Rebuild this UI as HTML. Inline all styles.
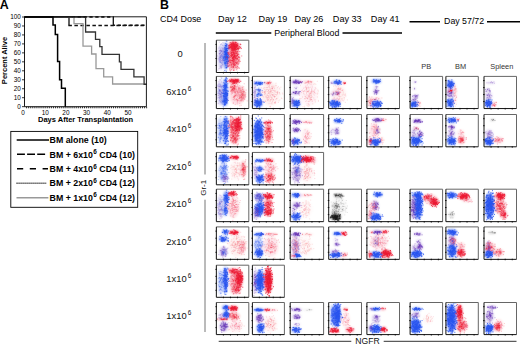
<!DOCTYPE html><html><head><meta charset="utf-8"><style>html,body{margin:0;padding:0;background:#fff;width:520px;height:344px;overflow:hidden}svg{display:block}text{font-family:"Liberation Sans",sans-serif}</style></head><body>
<svg width="520" height="344" viewBox="0 0 520 344">
<defs><filter id="bl" x="-50%" y="-50%" width="200%" height="200%"><feGaussianBlur stdDeviation="1.3"/></filter>
<filter id="db" x="-10%" y="-10%" width="120%" height="120%"><feGaussianBlur stdDeviation="1.1"/></filter><clipPath id="pc"><rect x="0" y="0" width="32.6" height="32.8"/></clipPath></defs>
<rect width="520" height="344" fill="#fff"/>
<text x="-0.3" y="8.8" font-size="12.4" font-weight="bold">A</text>
<path d="M22 106.67H24.5M22 97.7H24.5M22 88.74H24.5M22 79.77H24.5M22 70.8H24.5M22 61.84H24.5M22 52.87H24.5M22 43.9H24.5M22 34.93H24.5M22 25.97H24.5M22 17H24.5M26.57 106.7V108.3M28.64 106.7V108.3M30.71 106.7V108.3M32.78 106.7V108.3M34.85 106.7V108.3M36.92 106.7V108.3M38.99 106.7V108.3M41.06 106.7V108.3M43.13 106.7V108.3M45.2 106.7V108.3M47.27 106.7V108.3M49.34 106.7V108.3M51.41 106.7V108.3M53.48 106.7V108.3M55.55 106.7V108.3M57.62 106.7V108.3M59.69 106.7V108.3M61.76 106.7V108.3M63.83 106.7V108.3M65.9 106.7V108.3M67.97 106.7V108.3M70.04 106.7V108.3M72.11 106.7V108.3M74.18 106.7V108.3M76.25 106.7V108.3M78.32 106.7V108.3M80.39 106.7V108.3M82.46 106.7V108.3M84.53 106.7V108.3M86.6 106.7V108.3M88.67 106.7V108.3M90.74 106.7V108.3M92.81 106.7V108.3M94.88 106.7V108.3M96.95 106.7V108.3M99.02 106.7V108.3M101.09 106.7V108.3M103.16 106.7V108.3M105.23 106.7V108.3M107.3 106.7V108.3M109.37 106.7V108.3M111.44 106.7V108.3M113.51 106.7V108.3M115.58 106.7V108.3M117.65 106.7V108.3M119.72 106.7V108.3M121.79 106.7V108.3M123.86 106.7V108.3M125.93 106.7V108.3M128 106.7V108.3M130.07 106.7V108.3M132.14 106.7V108.3M134.21 106.7V108.3M136.28 106.7V108.3M138.35 106.7V108.3M140.42 106.7V108.3M142.49 106.7V108.3M144.56 106.7V108.3M146.63 106.7V108.3" stroke="#000" stroke-width="0.8" fill="none"/>
<text x="20.9" y="108.97" font-size="6.4" text-anchor="end">0</text>
<text x="20.9" y="100" font-size="6.4" text-anchor="end">10</text>
<text x="20.9" y="91.04" font-size="6.4" text-anchor="end">20</text>
<text x="20.9" y="82.07" font-size="6.4" text-anchor="end">30</text>
<text x="20.9" y="73.1" font-size="6.4" text-anchor="end">40</text>
<text x="20.9" y="64.14" font-size="6.4" text-anchor="end">50</text>
<text x="20.9" y="55.17" font-size="6.4" text-anchor="end">60</text>
<text x="20.9" y="46.2" font-size="6.4" text-anchor="end">70</text>
<text x="20.9" y="37.23" font-size="6.4" text-anchor="end">80</text>
<text x="20.9" y="28.27" font-size="6.4" text-anchor="end">90</text>
<text x="20.9" y="19.3" font-size="6.4" text-anchor="end">100</text>
<text x="23" y="114.8" font-size="6.4" text-anchor="middle">0</text>
<text x="45.2" y="114.8" font-size="6.4" text-anchor="middle">10</text>
<text x="65.9" y="114.8" font-size="6.4" text-anchor="middle">20</text>
<text x="86.6" y="114.8" font-size="6.4" text-anchor="middle">30</text>
<text x="107.3" y="114.8" font-size="6.4" text-anchor="middle">40</text>
<text x="128" y="114.8" font-size="6.4" text-anchor="middle">50</text>
<text x="85.6" y="122.4" font-size="7.5" font-weight="bold" text-anchor="middle">Days After Transplantation</text>
<text transform="translate(7.1 60.5) rotate(-90)" font-size="7.5" font-weight="bold" text-anchor="middle">Percent Alive</text>
<path d="M24.5 17H113.3" stroke="#111" stroke-width="1.5" fill="none" stroke-dasharray="3.3 2.6"/>
<path d="M113.3 25.2H146.4" stroke="#111" stroke-width="1.5" fill="none" stroke-dasharray="3.3 2.6" stroke-dashoffset="1.5"/>
<path d="M113.3 16.5V25.2M69 16.5V25.6" stroke="#111" stroke-width="1.3" fill="none"/>
<path d="M24.5 17H69" stroke="#111" stroke-width="1.5" fill="none"/>
<path d="M68.4 25.6H146.4" stroke="#111" stroke-width="1.5" fill="none" stroke-dasharray="3.5 2.5"/>
<path d="M24.5 17H74V23.6H83V46.1H91.6V54H96V68.6H103.7V76.8H112.6V84H146.4" stroke="#999" stroke-width="1.3" fill="none"/>
<path d="M24.5 17H85.6V32H95.5V39.3H99.8V46.7H102V54.3H119.4V61.8H121V69.3H133.9V76.9H144.1V84.3H146.4" stroke="#333" stroke-width="1.3" fill="none"/>
<path d="M24.5 17H53V25H55.3V34.4H57.6V61.5H59.6V79.7H61.5V88.3H65.3V106.7" stroke="#000" stroke-width="1.5" fill="none"/>
<path d="M24.5 16.8V106.7H146.4V16.8H24.5" stroke="#000" stroke-width="0.9" fill="none"/>
<rect x="10.8" y="131.4" width="126.9" height="75.9" fill="none" stroke="#000" stroke-width="0.9"/>
<path d="M16.7 140H49" stroke="#000" stroke-width="1.5"/>
<path d="M17 154.3H45.1" stroke="#000" stroke-width="1.5" stroke-dasharray="7.9 2.2"/>
<path d="M17 168.8H48" stroke="#000" stroke-width="1.5" stroke-dasharray="6.2 6.6"/>
<path d="M16.5 183.3H46.7" stroke="#222" stroke-width="1.6" stroke-dasharray="1.1 0.9"/>
<path d="M16.5 197.7H48.4" stroke="#999" stroke-width="1.5"/>
<text x="49.6" y="142.9" font-size="8.8" font-weight="bold">BM alone (10)</text>
<text x="49.6" y="157.5" font-size="8.8" font-weight="bold">BM + 6x10<tspan font-size="6.4" dx="0.4" dy="-3.4">6</tspan><tspan dy="3.4"> CD4 (10)</tspan></text>
<text x="49.6" y="171.9" font-size="8.8" font-weight="bold">BM + 4x10<tspan font-size="6.4" dx="0.4" dy="-3.4">6</tspan><tspan dy="3.4"> CD4 (11)</tspan></text>
<text x="49.6" y="186.4" font-size="8.8" font-weight="bold">BM + 2x10<tspan font-size="6.4" dx="0.4" dy="-3.4">6</tspan><tspan dy="3.4"> CD4 (12)</tspan></text>
<text x="49.6" y="200.8" font-size="8.8" font-weight="bold">BM + 1x10<tspan font-size="6.4" dx="0.4" dy="-3.4">6</tspan><tspan dy="3.4"> CD4 (12)</tspan></text>
<text x="160" y="8.9" font-size="12.4" font-weight="bold">B</text>
<text x="160.1" y="22" font-size="8.95">CD4 Dose</text>
<text x="232.5" y="22.4" font-size="9.1" text-anchor="middle">Day 12</text>
<text x="273" y="22.4" font-size="9.1" text-anchor="middle">Day 19</text>
<text x="309" y="22.4" font-size="9.1" text-anchor="middle">Day 26</text>
<text x="347.25" y="22.4" font-size="9.1" text-anchor="middle">Day 33</text>
<text x="385.25" y="22.4" font-size="9.1" text-anchor="middle">Day 41</text>
<text x="464.1" y="24.2" font-size="8.8" text-anchor="middle">Day 57/72</text>
<path d="M409.5 21.8H440M487 21.8H520M215.8 33.1H271.3M342.5 33.1H402" stroke="#000" stroke-width="1.5"/>
<text x="306.8" y="35.6" font-size="8.8" text-anchor="middle">Peripheral Blood</text>
<text x="426.3" y="68.8" font-size="7.4" fill="#333" text-anchor="middle">PB</text>
<text x="460.6" y="68.8" font-size="7.4" fill="#333" text-anchor="middle">BM</text>
<text x="501.8" y="68.8" font-size="7.4" fill="#333" text-anchor="middle">Spleen</text>
<text x="180.1" y="56.9" font-size="9.4" text-anchor="middle" fill="#111">0</text>
<text x="166.3" y="95" font-size="9.4" fill="#111">6x10<tspan font-size="6.4" dx="1" dy="-3.6">6</tspan></text>
<text x="166.3" y="131.9" font-size="9.4" fill="#111">4x10<tspan font-size="6.4" dx="1" dy="-3.6">6</tspan></text>
<text x="166.3" y="169.6" font-size="9.4" fill="#111">2x10<tspan font-size="6.4" dx="1" dy="-3.6">6</tspan></text>
<text x="166.3" y="206.9" font-size="9.4" fill="#111">2x10<tspan font-size="6.4" dx="1" dy="-3.6">6</tspan></text>
<text x="166.3" y="244.6" font-size="9.4" fill="#111">2x10<tspan font-size="6.4" dx="1" dy="-3.6">6</tspan></text>
<text x="166.3" y="281.9" font-size="9.4" fill="#111">1x10<tspan font-size="6.4" dx="1" dy="-3.6">6</tspan></text>
<text x="166.3" y="318.9" font-size="9.4" fill="#111">1x10<tspan font-size="6.4" dx="1" dy="-3.6">6</tspan></text>
<path d="M205 43V174.5M205 199.7V332" stroke="#777" stroke-width="1"/>
<text transform="translate(206.3 187.8) rotate(-90)" font-size="8" text-anchor="middle" fill="#111">Gr-1</text>
<path d="M218.7 341.3H351.3M383.7 341.3H516.5" stroke="#333" stroke-width="1"/>
<text x="367.5" y="343.6" font-size="8.6" text-anchor="middle" fill="#111">NGFR</text>
<g transform="translate(216.35 40.2)">
<svg x="0" y="0" width="32.45" height="32.3" viewBox="0 0 32.6 32.8" preserveAspectRatio="none" overflow="hidden"><g filter="url(#bl)">
<ellipse cx="4.5" cy="17" rx="3.5" ry="13" fill="#6a3ab8" fill-opacity="0.16"/>
<ellipse cx="5" cy="17" rx="3" ry="12" fill="#2a55ee" fill-opacity="0.1"/>
<ellipse cx="9.5" cy="16" rx="2.2" ry="14" fill="#2a55ee" fill-opacity="0.72"/>
<ellipse cx="17.5" cy="6" rx="5.5" ry="4.5" fill="#ec1a34" fill-opacity="0.72"/>
<ellipse cx="17" cy="18" rx="6" ry="12" fill="#ec1a34" fill-opacity="0.44"/>
</g>
<g transform="scale(.5)" stroke-width="1.9" fill="none" filter="url(#db)">
<path d="M12 16h2M7 39h2M5 33h2M10 23h2M4 37h2M12 26h2M8 55h2M7 27h2M12 8h2M7 54h2M13 22h2M7 35h2M5 41h2M17 16h2M2 38h2M9 57h2M8 33h2M8 21h2M11 17h2M13 34h2M11 27h2M6 57h2M11 50h2M10 21h2M12 40h2M1 32h2M12 44h2M8 18h2M11 19h2M14 30h2M6 27h2M6 27h2M6 29h2M10 42h2M5 22h2M7 35h2M9 7h2M15 22h2M15 16h2M6 31h2M8 24h2M12 11h2M13 23h2M13 29h2M4 40h2M17 33h2M9 29h2M6 24h2M4 16h2M9 55h2M11 40h2M10 23h2M10 29h2M12 50h2M13 39h2M13 25h2M9 31h2M6 21h2M6 28h2M2 61h2M10 35h2M11 32h2M11 40h2M12 5h2M13 36h2M11 40h2M10 52h2M8 41h2M8 34h2M10 46h2M8 9h2M11 30h2M5 4h2M14 41h2M11 24h2M9 52h2M7 37h2M5 36h2M5 27h2M8 45h2M10 26h2M8 33h2M9 22h2M12 37h2M7 43h2M4 58h2M6 21h2M8 21h2M5 44h2M11 34h2M8 42h2M7 24h2M12 22h2M6 41h2M8 21h2M8 31h2M6 37h2M11 47h2" stroke="#6a3ab8" stroke-opacity="0.27"/>
<path d="M6 35h2M10 9h2M7 34h2M5 39h2M14 18h2M9 30h2M6 44h2M9 42h2M10 33h2M12 21h2M11 37h2M6 14h2M15 48h2M9 37h2M9 47h2M12 11h2M12 45h2M8 25h2M12 27h2M11 34h2M8 20h2M17 25h2M11 32h2M10 15h2M7 18h2M14 24h2M7 45h2M11 49h2M12 34h2M7 52h2M9 23h2M9 32h2M9 46h2M8 31h2M8 35h2M12 36h2M9 33h2M8 40h2M9 37h2M13 27h2M14 6h2M8 45h2M9 22h2M8 53h2M15 17h2M8 26h2M14 31h2M11 36h2M10 30h2M13 35h2M7 32h2M6 35h2M9 23h2M10 55h2M7 39h2M16 43h2M8 9h2M6 39h2M12 42h2M10 37h2M12 31h2M11 40h2M7 44h2M12 33h2M6 44h2" stroke="#2a55ee" stroke-opacity="0.2"/>
<path d="M21 21h2M21 26h2M16 32h2M18 24h2M18 26h2M16 62h2M22 17h2M20 34h2M19 56h2M21 17h2M18 7h2M20 34h2M19 29h2M19 36h2M23 35h2M18 39h2M21 48h2M22 29h2M21 22h2M16 23h2M20 10h2M23 31h2M20 27h2M16 28h2M20 18h2M20 19h2M15 18h2M20 12h2M20 32h2M17 32h2M23 43h2M21 28h2M16 46h2M22 40h2M20 40h2M19 28h2M21 35h2M15 33h2M18 11h2M16 42h2M18 35h2M18 33h2M22 36h2M18 27h2M17 28h2M16 48h2M14 34h2M17 22h2M18 23h2M21 47h2M16 15h2M22 54h2M20 2h2M21 17h2M20 16h2M19 23h2M19 17h2M19 17h2M19 27h2M24 41h2M14 35h2M22 25h2M18 28h2M22 46h2M22 16h2M18 18h2M19 38h2M16 40h2M24 17h2M18 35h2M20 9h2M21 35h2M19 29h2M24 15h2M19 26h2M21 38h2M21 34h2M25 34h2M19 27h2M20 26h2M20 52h2M20 29h2M21 33h2M22 35h2M20 25h2M21 40h2M20 30h2M21 29h2M17 34h2M24 18h2M18 25h2M20 32h2M18 28h2M23 12h2M20 21h2M19 55h2M18 46h2M20 34h2M20 33h2M21 38h2M16 25h2M20 43h2M18 28h2M17 37h2M20 30h2M17 40h2M19 20h2M20 43h2M14 38h2M20 21h2M16 24h2M20 17h2M16 46h2M17 36h2M14 41h2M21 44h2M17 20h2M19 33h2M18 14h2M21 33h2M19 12h2M18 30h2M18 17h2M17 11h2M19 56h2M22 52h2M21 35h2M16 29h2M18 36h2M19 43h2M19 1h2M19 30h2M19 20h2M18 47h2M19 63h2M20 44h2M18 48h2M16 23h2M17 29h2M18 21h2M20 8h2M18 45h2M18 26h2M18 19h2M18 28h2M18 21h2M17 34h2M16 35h2M18 51h2M21 36h2M19 27h2M19 30h2M14 37h2M22 33h2M23 43h2M18 11h2M19 31h2M22 37h2M23 32h2M18 11h2M20 55h2M19 38h2" stroke="#2a55ee" stroke-opacity="0.86"/>
<path d="M30 13h2M38 16h2M40 9h2M27 14h2M32 12h2M40 9h2M36 8h2M37 8h2M36 15h2M42 10h2M40 13h2M35 14h2M36 13h2M33 10h2M29 8h2M33 7h2M33 21h2M31 16h2M31 8h2M48 9h2M47 8h2M29 9h2M34 9h2M35 13h2M35 12h2M33 10h2M37 5h2M40 11h2M40 10h2M34 14h2M42 7h2M32 16h2M34 13h2M40 13h2M37 17h2M36 15h2M31 6h2M31 20h2M35 16h2M35 11h2M37 11h2M26 14h2M45 14h2M41 11h2M37 13h2M43 16h2M24 17h2M33 13h2M27 15h2M36 11h2M38 17h2M43 19h2M39 10h2M29 14h2M33 17h2M36 16h2M28 14h2M31 11h2M35 14h2M36 10h2M35 9h2M33 19h2M30 6h2M24 11h2M41 16h2M42 17h2M30 17h2M33 6h2M37 20h2M35 17h2M33 9h2M32 9h2M40 19h2M30 11h2M34 11h2M39 15h2M41 11h2M43 16h2M37 4h2M27 9h2M37 19h2M39 5h2M31 17h2M27 5h2M43 17h2M30 11h2M34 12h2M36 18h2M32 8h2M41 11h2M31 20h2M35 18h2M32 4h2M36 8h2M36 12h2M33 1h2M32 16h2M34 5h2M34 19h2M33 16h2M26 10h2M36 13h2M34 11h2M39 13h2M34 11h2M49 17h2M25 16h2M36 17h2M33 14h2M35 8h2M31 14h2M26 11h2M33 7h2M47 15h2M30 14h2M38 12h2M39 8h2M35 9h2M30 20h2M37 9h2M45 13h2M40 19h2M34 10h2M46 17h2M29 8h2M32 13h2M32 10h2M38 5h2M48 14h2M37 12h2" stroke="#ec1a34" stroke-opacity="0.86"/>
<path d="M33 43h2M34 47h2M33 24h2M33 50h2M30 42h2M40 27h2M44 33h2M30 32h2M31 24h2M33 24h2M33 36h2M34 33h2M31 22h2M35 26h2M32 28h2M29 34h2M50 32h2M36 51h2M41 29h2M32 18h2M26 57h2M38 30h2M34 34h2M37 22h2M39 33h2M30 28h2M36 20h2M34 36h2M35 39h2M44 56h2M41 32h2M44 29h2M36 16h2M37 50h2M21 50h2M36 42h2M32 30h2M39 45h2M36 20h2M34 27h2M33 48h2M44 35h2M41 31h2M38 55h2M37 14h2M34 29h2M27 13h2M29 32h2M41 31h2M27 45h2M35 28h2M41 37h2M42 29h2M28 24h2M24 36h2M34 61h2M36 34h2M25 42h2M27 40h2M37 18h2M37 34h2M46 23h2M25 15h2M34 61h2M35 20h2M35 38h2M39 37h2M34 24h2M35 19h2M25 52h2M41 39h2M36 31h2M33 26h2M41 38h2M32 36h2M29 32h2M38 36h2M40 46h2M47 43h2M42 12h2M29 60h2M44 34h2M33 54h2M29 29h2M33 40h2M36 41h2M25 38h2M34 32h2M35 33h2M25 29h2M24 14h2M30 49h2M41 44h2M36 29h2M33 55h2M34 45h2M41 57h2M32 35h2M27 27h2M44 40h2M35 32h2M30 25h2M34 49h2M37 45h2M30 25h2M27 31h2M36 26h2M35 31h2M29 41h2M23 43h2M36 31h2M33 38h2M34 34h2M37 31h2M32 38h2M32 47h2M44 43h2M33 25h2M35 32h2M39 40h2M42 24h2M30 22h2M36 24h2M45 40h2M36 47h2M32 41h2M32 42h2M27 24h2M41 37h2M23 28h2M32 36h2M45 44h2M37 13h2M33 53h2M43 49h2M27 62h2M32 37h2M41 27h2M34 39h2M31 41h2M31 34h2M40 60h2M31 29h2M40 24h2M40 31h2M41 24h2M38 38h2M33 43h2M34 45h2M39 27h2M36 31h2M33 35h2M35 35h2M26 50h2M35 36h2M37 23h2M44 41h2M40 47h2M36 18h2M33 38h2M22 46h2M32 44h2M39 47h2M32 35h2M27 46h2M40 33h2M28 41h2M35 48h2M30 26h2M24 25h2M46 36h2M33 38h2M29 27h2M34 39h2M29 55h2M37 35h2M35 33h2M34 33h2M23 48h2M23 53h2M32 20h2M37 45h2M27 44h2M39 36h2M20 35h2M29 50h2M35 19h2M34 28h2M38 34h2M30 31h2M31 29h2M26 44h2M33 55h2M32 41h2M31 31h2M29 41h2M42 45h2M30 17h2M27 32h2M36 43h2M35 51h2M36 26h2M41 23h2M33 25h2M45 57h2M38 26h2M42 17h2M30 48h2M29 52h2M34 26h2M26 60h2M19 34h2M45 35h2M33 30h2M42 36h2M30 9h2M25 34h2M32 30h2M41 48h2M30 28h2M34 34h2M43 22h2M31 37h2M26 41h2M34 50h2M36 9h2M24 28h2M44 47h2M37 33h2M39 15h2M39 26h2M31 31h2M32 24h2M37 37h2M24 52h2M22 25h2M36 34h2M29 30h2M27 35h2M31 37h2M37 24h2M30 25h2M37 50h2M40 56h2M36 30h2M36 38h2M22 54h2M30 33h2M34 42h2M41 53h2M42 54h2M35 30h2M33 35h2M39 24h2M34 22h2M29 10h2M23 27h2M32 41h2M38 36h2M37 27h2M35 50h2M41 31h2M33 40h2M30 32h2M30 45h2M34 27h2M43 28h2" stroke="#ec1a34" stroke-opacity="0.57"/>
</g></svg>
<path d="M0 0H32.45V32.3" stroke="#666" stroke-width="1" fill="none"/>
<path d="M0 0V32.3H32.45M-0.9 25.28H0.6M7.05 31.7V33.2M-0.9 18.26H0.6M14.11 31.7V33.2M-0.9 11.23H0.6M21.16 31.7V33.2M-0.9 4.21H0.6M28.22 31.7V33.2" stroke="#111" stroke-width="1" fill="none"/>
</g>
<g transform="translate(216.35 76.4)">
<svg x="0" y="0" width="32.45" height="32.15" viewBox="0 0 32.6 32.8" preserveAspectRatio="none" overflow="hidden"><g filter="url(#bl)">
<ellipse cx="3.8" cy="17" rx="3" ry="13" fill="#6a3ab8" fill-opacity="0.16"/>
<ellipse cx="4" cy="17" rx="3" ry="12" fill="#2a55ee" fill-opacity="0.1"/>
<ellipse cx="9" cy="16" rx="2.3" ry="14" fill="#2a55ee" fill-opacity="0.72"/>
<ellipse cx="8" cy="26" rx="3" ry="4" fill="#2a55ee" fill-opacity="0.4"/>
<ellipse cx="18" cy="4.8" rx="5.5" ry="2.5" fill="#ec1a34" fill-opacity="0.72"/>
<ellipse cx="16.5" cy="12" rx="3" ry="4" fill="#ec1a34" fill-opacity="0.32"/>
<ellipse cx="21" cy="19" rx="8" ry="10" fill="#ec1a34" fill-opacity="0.14"/>
<ellipse cx="26" cy="18" rx="3" ry="7" fill="#ec1a34" fill-opacity="0.16"/>
</g>
<g transform="scale(.5)" stroke-width="1.9" fill="none" filter="url(#db)">
<path d="M5 28h2M6 30h2M10 12h2M7 28h2M5 32h2M9 34h2M10 20h2M6 41h2M6 21h2M6 16h2M11 50h2M15 30h2M7 31h2M9 34h2M10 30h2M3 55h2M6 49h2M7 36h2M3 21h2M9 42h2M7 36h2M2 35h2M6 21h2M9 28h2M5 29h2M6 30h2M8 28h2M10 54h2M11 30h2M6 39h2M7 52h2M8 40h2M6 36h2M4 15h2M8 19h2M6 45h2M12 35h2M6 44h2M10 41h2M5 28h2M11 20h2M8 50h2M11 26h2M7 31h2M4 35h2M5 42h2M4 26h2M6 34h2M7 36h2M11 34h2M9 36h2M10 43h2M11 33h2M4 38h2M4 34h2M7 7h2M7 21h2M4 11h2M9 42h2M4 21h2M5 20h2M9 21h2M10 3h2M2 44h2M6 7h2M14 42h2M8 1h2M10 33h2M7 28h2M2 18h2M9 45h2M9 38h2M8 40h2M14 34h2M3 39h2M6 19h2M4 43h2M5 31h2M5 48h2M6 28h2M3 17h2M11 20h2M10 40h2" stroke="#6a3ab8" stroke-opacity="0.27"/>
<path d="M9 36h2M8 47h2M8 17h2M7 52h2M4 33h2M8 47h2M5 50h2M5 35h2M5 36h2M6 16h2M9 22h2M10 4h2M13 33h2M13 43h2M8 32h2M7 43h2M8 18h2M8 42h2M9 39h2M10 7h2M9 53h2M10 32h2M5 28h2M14 30h2M10 35h2M10 21h2M3 31h2M9 4h2M8 37h2M8 30h2M3 25h2M5 44h2M9 40h2M3 19h2M9 34h2M11 27h2M6 44h2M6 29h2M12 53h2M7 18h2M11 54h2M9 24h2M5 29h2M9 46h2M12 57h2M10 50h2M1 20h2M9 23h2M7 37h2M10 37h2M9 33h2M10 49h2M7 40h2M9 33h2M5 27h2M7 41h2M10 44h2M8 21h2M9 10h2M11 56h2M5 28h2M2 32h2M7 37h2M9 32h2M12 46h2M7 43h2" stroke="#2a55ee" stroke-opacity="0.2"/>
<path d="M15 8h2M15 57h2M16 19h2M18 32h2M20 50h2M18 26h2M16 20h2M16 25h2M18 45h2M19 30h2M20 19h2M22 44h2M22 35h2M15 59h2M18 19h2M19 40h2M17 57h2M18 43h2M16 20h2M15 41h2M18 32h2M19 33h2M20 42h2M20 33h2M16 15h2M20 22h2M20 36h2M16 35h2M21 36h2M14 34h2M17 36h2M18 41h2M17 34h2M20 40h2M19 37h2M21 47h2M19 8h2M15 23h2M18 17h2M14 31h2M16 18h2M16 18h2M18 44h2M17 18h2M19 21h2M17 26h2M17 58h2M19 50h2M21 35h2M13 41h2M20 11h2M16 50h2M20 45h2M16 42h2M18 42h2M15 29h2M13 19h2M17 29h2M17 23h2M19 29h2M15 38h2M21 29h2M15 49h2M19 2h2M18 25h2M23 30h2M15 40h2M21 5h2M18 26h2M20 38h2M16 35h2M18 8h2M15 45h2M18 40h2M15 51h2M15 20h2M19 19h2M14 27h2M20 17h2M20 47h2M14 40h2M18 34h2M19 40h2M17 38h2M16 48h2M19 45h2M18 33h2M17 17h2M19 4h2M21 39h2M13 39h2M21 50h2M17 35h2M13 39h2M20 38h2M18 33h2M19 16h2M14 19h2M23 49h2M18 5h2M19 19h2M16 16h2M17 21h2M17 19h2M18 48h2M16 34h2M18 1h2M18 30h2M15 27h2M19 21h2M18 45h2M20 53h2M21 35h2M18 29h2M17 54h2M21 35h2M20 35h2M21 34h2M16 36h2M15 42h2M18 40h2M21 37h2M17 23h2M12 28h2M14 36h2M16 46h2M19 11h2M16 25h2M20 38h2M18 19h2M18 16h2M21 40h2M16 28h2M15 20h2M22 38h2M19 46h2M16 41h2M18 23h2M22 23h2M13 34h2M13 22h2M12 35h2M18 11h2M22 31h2M18 52h2M19 44h2M18 23h2M17 37h2M17 37h2M17 7h2M14 35h2M18 7h2M19 13h2M18 9h2M14 28h2M19 53h2M16 19h2M14 13h2M19 11h2M22 15h2M16 57h2M20 20h2M19 28h2M19 22h2M16 42h2M16 40h2M19 35h2" stroke="#2a55ee" stroke-opacity="0.86"/>
<path d="M16 49h2M15 58h2M16 47h2M17 49h2M19 48h2M19 46h2M14 43h2M16 48h2M18 55h2M16 51h2M13 50h2M15 52h2M20 55h2M16 54h2M17 51h2M14 45h2M20 48h2M19 53h2M18 49h2M11 51h2M13 50h2M13 50h2M15 53h2M15 56h2M17 52h2M16 56h2M13 53h2M16 54h2M14 51h2M21 52h2M16 48h2M17 50h2M20 48h2M16 51h2M16 50h2M12 51h2M18 53h2M20 49h2M13 62h2M20 55h2M18 45h2M13 47h2" stroke="#2a55ee" stroke-opacity="0.53"/>
<path d="M36 14h2M33 7h2M35 13h2M42 11h2M33 8h2M34 9h2M33 12h2M39 7h2M41 9h2M42 8h2M33 10h2M41 6h2M32 11h2M35 12h2M45 12h2M33 10h2M35 8h2M36 9h2M29 8h2M34 11h2M42 8h2M35 8h2M48 10h2M37 10h2M37 6h2M43 10h2M24 9h2M33 9h2M29 6h2M41 9h2M34 9h2M39 9h2M30 6h2M21 10h2M30 11h2M37 9h2M43 6h2M40 13h2M35 11h2M27 9h2M32 11h2M37 13h2M26 7h2M36 9h2M38 11h2M35 14h2M27 10h2M39 8h2M40 10h2M31 7h2M39 14h2M39 10h2M29 9h2M41 8h2M38 7h2M32 15h2M27 10h2M33 15h2M34 10h2M41 11h2M34 10h2M40 7h2M44 8h2M37 8h2M40 10h2M34 10h2M40 9h2M36 9h2M39 8h2M28 9h2M32 8h2M36 12h2" stroke="#ec1a34" stroke-opacity="0.86"/>
<path d="M33 24h2M33 26h2M35 19h2M35 19h2M36 25h2M35 21h2M32 26h2M34 23h2M31 27h2M29 17h2M33 14h2M32 30h2M33 23h2M28 20h2M35 25h2M29 23h2M27 22h2M30 28h2M28 22h2M28 30h2M36 19h2M37 21h2M31 34h2M31 27h2M31 21h2M36 24h2M36 22h2M34 29h2M32 21h2M30 22h2M34 24h2M30 28h2M37 33h2M32 25h2M36 32h2M35 19h2" stroke="#ec1a34" stroke-opacity="0.44"/>
<path d="M53 43h2M48 39h2M53 44h2M45 31h2M52 38h2M45 33h2M45 24h2M54 46h2M43 28h2M42 42h2M37 33h2M43 49h2M50 49h2M39 45h2M34 42h2M36 41h2M42 17h2M30 32h2M44 30h2M49 28h2M35 28h2M49 30h2M40 30h2M47 49h2M44 33h2M41 30h2M53 50h2M50 42h2M35 25h2M42 33h2M47 44h2M51 20h2M36 42h2M36 31h2M53 40h2M53 32h2M42 34h2M28 22h2M41 47h2M42 52h2M33 54h2M38 27h2M42 31h2M42 48h2M35 45h2M49 37h2M51 23h2M39 47h2M54 40h2M37 39h2M49 32h2M42 49h2M45 45h2M35 26h2M52 48h2M43 26h2M33 29h2M44 22h2M44 26h2M38 39h2M37 25h2M44 24h2M39 38h2M35 26h2M46 43h2M38 39h2M45 38h2M37 19h2M50 42h2M22 48h2M52 35h2M42 18h2M45 41h2M31 21h2M38 17h2M45 45h2M46 50h2M47 36h2M34 42h2M36 36h2M42 38h2M52 38h2M51 46h2M35 44h2M37 57h2M33 55h2M52 44h2M49 59h2M57 43h2M43 28h2M54 44h2M40 21h2M36 21h2M33 47h2M47 33h2M43 46h2M57 40h2M42 39h2M41 49h2M48 33h2M54 21h2M53 37h2M36 27h2M45 23h2M49 44h2M47 30h2M46 19h2M44 22h2M37 48h2M46 29h2M40 37h2M33 43h2M46 46h2M61 50h2M50 50h2M48 29h2M42 42h2M36 42h2M46 60h2M39 35h2M35 40h2M45 25h2M52 39h2M36 39h2M36 41h2M47 44h2M45 38h2M29 30h2M48 30h2M40 27h2M38 36h2M48 22h2M41 52h2M46 55h2M46 43h2M35 40h2M38 40h2M41 32h2M50 45h2M47 25h2M41 30h2M35 48h2M39 47h2M42 34h2M38 31h2M41 56h2M43 35h2M48 43h2M34 42h2M37 30h2M57 38h2M55 15h2M44 25h2M47 40h2M34 32h2M43 37h2M39 40h2M40 48h2M41 21h2M39 28h2M29 36h2M40 32h2M51 24h2M40 24h2M37 36h2M45 40h2" stroke="#ec1a34" stroke-opacity="0.25"/>
<path d="M54 37h2M56 36h2M58 36h2M55 38h2M50 34h2M54 30h2M47 26h2M49 47h2M52 27h2M49 38h2M50 33h2M50 37h2M50 35h2M57 38h2M52 37h2M55 46h2M59 28h2M49 41h2M46 27h2M52 23h2M55 41h2M51 31h2M51 38h2M52 27h2M56 44h2M55 33h2M55 31h2M50 42h2M58 33h2M48 40h2M49 48h2M53 30h2M48 50h2M51 35h2M56 47h2M53 34h2M53 34h2M50 43h2M55 31h2M49 42h2M55 39h2M52 40h2M58 41h2M52 46h2M50 40h2M53 31h2" stroke="#ec1a34" stroke-opacity="0.27"/>
</g></svg>
<path d="M0 0H32.45V32.15" stroke="#666" stroke-width="1" fill="none"/>
<path d="M0 0V32.15H32.45M-0.9 25.16H0.6M7.05 31.55V33.05M-0.9 18.17H0.6M14.11 31.55V33.05M-0.9 11.18H0.6M21.16 31.55V33.05M-0.9 4.19H0.6M28.22 31.55V33.05" stroke="#111" stroke-width="1" fill="none"/>
</g>
<g transform="translate(252.4 76.4)">
<svg x="0" y="0" width="32" height="32.15" viewBox="0 0 32.6 32.8" preserveAspectRatio="none" overflow="hidden"><g filter="url(#bl)">
<ellipse cx="6" cy="7" rx="4.5" ry="1.8" fill="#2a55ee" fill-opacity="0.72"/>
<ellipse cx="15.5" cy="6.5" rx="3.8" ry="0.9" fill="#ec1a34" fill-opacity="0.4"/>
<ellipse cx="6.2" cy="14" rx="2.8" ry="1.6" fill="#2a55ee" fill-opacity="0.48"/>
<ellipse cx="6.2" cy="19" rx="2.8" ry="1.8" fill="#2a55ee" fill-opacity="0.56"/>
<ellipse cx="5.8" cy="27.3" rx="4.3" ry="4" fill="#2a55ee" fill-opacity="0.72"/>
<ellipse cx="2" cy="17" rx="1.5" ry="12" fill="#6a3ab8" fill-opacity="0.16"/>
<ellipse cx="18" cy="18" rx="10" ry="12" fill="#ec1a34" fill-opacity="0.06"/>
</g>
<g transform="scale(.5)" stroke-width="1.9" fill="none" filter="url(#db)">
<path d="M6 15h2M16 13h2M6 14h2M14 16h2M7 12h2M15 15h2M19 16h2M12 14h2M24 13h2M8 12h2M12 14h2M10 14h2M13 15h2M17 14h2M4 15h2M6 14h2M5 14h2M8 14h2M16 12h2M11 15h2M12 15h2M12 12h2M15 13h2M20 13h2M15 14h2M16 13h2M16 14h2M18 15h2M13 13h2M15 15h2M19 13h2M14 15h2M13 14h2M13 13h2M7 13h2M15 17h2M16 16h2M15 15h2M13 15h2M20 13h2M9 18h2M13 16h2" stroke="#2a55ee" stroke-opacity="0.86"/>
<path d="M34 12h2M32 14h2M31 12h2M31 13h2M35 14h2M31 14h2M28 14h2M35 13h2M24 12h2M32 13h2M37 12h2M31 14h2" stroke="#ec1a34" stroke-opacity="0.53"/>
<path d="M12 24h2M15 32h2M15 27h2M11 28h2M19 29h2M13 30h2M12 31h2M10 27h2M14 30h2M14 28h2M7 27h2M11 27h2M14 27h2M15 28h2M11 28h2M14 29h2M11 28h2" stroke="#2a55ee" stroke-opacity="0.61"/>
<path d="M9 41h2M16 38h2M11 36h2M13 38h2M19 38h2M10 34h2M16 38h2M8 38h2M16 39h2M12 34h2M12 35h2M14 34h2M10 40h2M17 36h2M8 40h2M15 36h2M10 37h2M9 37h2M16 39h2M18 38h2M12 36h2M12 36h2" stroke="#2a55ee" stroke-opacity="0.69"/>
<path d="M4 57h2M18 58h2M17 56h2M9 55h2M10 50h2M4 49h2M12 55h2M10 60h2M12 57h2M17 51h2M3 58h2M9 60h2M13 59h2M15 46h2M15 52h2M8 53h2M15 58h2M16 48h2M9 45h2M11 57h2M8 56h2M13 59h2M8 51h2M8 62h2M16 54h2M13 55h2M12 54h2M10 50h2M9 61h2M14 55h2M11 55h2M13 52h2M12 56h2M8 51h2M7 50h2M15 45h2M10 52h2M9 55h2M16 55h2M11 52h2M11 58h2M10 50h2M6 50h2M6 59h2M13 54h2M18 52h2M15 58h2M5 48h2M8 58h2M17 50h2M16 53h2M10 52h2M10 47h2M7 50h2M14 63h2M23 53h2M4 53h2M8 63h2M14 52h2M16 57h2M5 52h2M11 55h2M12 53h2M12 52h2M8 61h2M13 56h2M5 54h2M15 49h2M16 53h2M13 54h2M13 59h2M10 61h2M8 51h2M15 50h2M10 58h2M17 48h2M14 62h2M17 54h2M9 53h2M7 54h2M11 54h2M17 54h2M5 59h2M7 53h2M11 53h2M7 54h2M21 52h2M11 59h2M15 58h2M15 47h2" stroke="#2a55ee" stroke-opacity="0.86"/>
<path d="M3 36h2M5 50h2M5 31h2M4 31h2M4 42h2M3 24h2M3 47h2M6 46h2M5 44h2M4 42h2M2 32h2M3 43h2M3 33h2M5 50h2M3 23h2M5 21h2M5 27h2M4 12h2M5 28h2M3 59h2M5 30h2M4 53h2M4 39h2M5 23h2M4 28h2M2 44h2M5 35h2M3 10h2M5 33h2M1 33h2M2 34h2M4 38h2M4 36h2M2 29h2M3 31h2M4 41h2M5 32h2M7 45h2M2 39h2" stroke="#6a3ab8" stroke-opacity="0.27"/>
<path d="M31 48h2M25 35h2M35 35h2M30 14h2M41 48h2M35 24h2M38 43h2M34 36h2M50 23h2M30 13h2M29 27h2M26 28h2M54 34h2M35 62h2M35 15h2M40 25h2M52 21h2M30 17h2M37 24h2M35 31h2M30 47h2M45 37h2M27 23h2M31 27h2M29 23h2M26 34h2M50 36h2M31 17h2M38 36h2M24 23h2M36 48h2M42 38h2M33 40h2M36 62h2M25 32h2M49 33h2M50 35h2M37 32h2M22 24h2M58 44h2M42 47h2M42 48h2M33 33h2M46 32h2M23 33h2M31 43h2M29 23h2M33 55h2M36 38h2M36 40h2M45 53h2M20 52h2M36 32h2M60 34h2M55 48h2M26 42h2M43 34h2M13 32h2M34 23h2M54 33h2M32 32h2M28 27h2M37 40h2M31 35h2M22 42h2M29 39h2M27 30h2M38 21h2M61 36h2M35 27h2M52 53h2M39 20h2M31 43h2M31 22h2M24 27h2M36 28h2M54 24h2M39 37h2M35 49h2M33 32h2M32 35h2M49 45h2M23 31h2M28 46h2M38 47h2M35 13h2M41 39h2M41 20h2M37 28h2M29 40h2M40 25h2M30 49h2M35 9h2M27 41h2M53 50h2M40 38h2M25 31h2M33 27h2M37 31h2M39 53h2M43 41h2M34 18h2M35 43h2M26 51h2M33 40h2M33 21h2M57 22h2M45 29h2M39 26h2M32 47h2M55 26h2M36 47h2M30 45h2M28 43h2M40 51h2M40 22h2M43 23h2M44 54h2M42 29h2M48 38h2M24 32h2M50 32h2M37 32h2M19 30h2M40 38h2M34 10h2M48 45h2M46 52h2M32 29h2M39 56h2M19 33h2M29 43h2M51 32h2M24 37h2M33 17h2M45 30h2M43 20h2M47 19h2M47 14h2M50 32h2M20 33h2M39 24h2M31 39h2M32 41h2M39 48h2M44 40h2M47 47h2M37 29h2M46 41h2M17 23h2M41 37h2M39 44h2M37 55h2M30 31h2M39 45h2M44 54h2M31 50h2M41 23h2M35 61h2M44 30h2M12 27h2M29 37h2M59 45h2M39 25h2M24 34h2M32 29h2M47 37h2M24 51h2M33 20h2M39 42h2M33 44h2M44 25h2M35 51h2M46 53h2M55 36h2M47 18h2M43 41h2M35 31h2M25 38h2M49 32h2M41 28h2M39 24h2M40 33h2M39 29h2M24 32h2M46 55h2M33 46h2M44 41h2M20 40h2M26 50h2M44 43h2M11 43h2" stroke="#ec1a34" stroke-opacity="0.16"/>
</g></svg>
<path d="M0 0H32V32.15" stroke="#666" stroke-width="1" fill="none"/>
<path d="M0 0V32.15H32M-0.9 25.16H0.6M6.96 31.55V33.05M-0.9 18.17H0.6M13.91 31.55V33.05M-0.9 11.18H0.6M20.87 31.55V33.05M-0.9 4.19H0.6M27.83 31.55V33.05" stroke="#111" stroke-width="1" fill="none"/>
</g>
<g transform="translate(290.2 76.4)">
<svg x="0" y="0" width="33.4" height="32.15" viewBox="0 0 32.6 32.8" preserveAspectRatio="none" overflow="hidden"><g filter="url(#bl)">
<ellipse cx="6" cy="5.6" rx="4.5" ry="1.7" fill="#6a3ab8" fill-opacity="0.68"/>
<ellipse cx="17" cy="5.5" rx="5.5" ry="1.1" fill="#ec1a34" fill-opacity="0.2"/>
<ellipse cx="5.5" cy="11.3" rx="2.5" ry="1.2" fill="#6a3ab8" fill-opacity="0.16"/>
<ellipse cx="5.5" cy="16.8" rx="3.5" ry="1.8" fill="#6a3ab8" fill-opacity="0.48"/>
<ellipse cx="5.5" cy="27.5" rx="4" ry="3.8" fill="#2a55ee" fill-opacity="0.68"/>
<ellipse cx="2" cy="25" rx="1.5" ry="5" fill="#6a3ab8" fill-opacity="0.24"/>
<ellipse cx="18" cy="18" rx="9" ry="12" fill="#ec1a34" fill-opacity="0.05"/>
</g>
<g transform="scale(.5)" stroke-width="1.9" fill="none" filter="url(#db)">
<path d="M5 12h2M11 10h2M16 11h2M11 14h2M10 9h2M6 10h2M15 13h2M17 14h2M20 12h2M18 12h2M10 13h2M12 11h2M21 13h2M10 11h2M23 11h2M16 12h2M15 12h2M10 10h2M12 11h2M16 14h2M8 12h2M8 10h2M11 11h2M10 7h2M19 11h2M9 12h2M10 9h2M14 12h2M8 13h2M14 9h2M20 12h2M7 12h2M13 13h2M6 13h2M17 12h2M15 14h2M16 12h2M8 13h2" stroke="#6a3ab8" stroke-opacity="0.82"/>
<path d="M40 11h2M35 12h2M20 11h2M20 11h2M40 13h2M32 12h2M34 9h2M38 11h2M35 10h2M34 11h2M41 11h2M33 11h2M30 13h2M38 10h2" stroke="#ec1a34" stroke-opacity="0.31"/>
<path d="M11 24h2M8 23h2M11 25h2M12 22h2M10 25h2M10 25h2" stroke="#6a3ab8" stroke-opacity="0.27"/>
<path d="M6 33h2M10 32h2M10 35h2M9 31h2M16 36h2M9 34h2M2 36h2M6 33h2M19 31h2M11 32h2M5 32h2M12 31h2M9 35h2M11 31h2M16 34h2M16 32h2M17 31h2M5 33h2M10 34h2M9 35h2M16 32h2M6 33h2M14 35h2M10 32h2" stroke="#6a3ab8" stroke-opacity="0.61"/>
<path d="M11 59h2M8 60h2M12 56h2M9 60h2M11 49h2M14 54h2M16 56h2M9 56h2M9 52h2M11 58h2M11 55h2M9 57h2M12 59h2M13 63h2M5 55h2M13 59h2M5 50h2M11 59h2M16 49h2M12 60h2M11 51h2M8 50h2M16 54h2M9 52h2M11 52h2M7 55h2M10 57h2M12 60h2M11 56h2M12 52h2M16 53h2M5 60h2M14 53h2M15 59h2M14 51h2M12 51h2M9 53h2M8 57h2M8 58h2M12 53h2M12 58h2M16 54h2M18 57h2M16 50h2M7 60h2M10 57h2M16 50h2M13 63h2M14 56h2M13 55h2M14 60h2M10 57h2M12 58h2M15 51h2M16 58h2M7 54h2M5 54h2M12 51h2M8 52h2M8 52h2M7 57h2M10 52h2M15 53h2M15 50h2M17 53h2M7 57h2M6 51h2M12 53h2M13 56h2M12 56h2M14 55h2M16 59h2M3 48h2M17 53h2M12 55h2M12 64h2" stroke="#2a55ee" stroke-opacity="0.82"/>
<path d="M3 51h2M4 45h2M3 49h2M4 52h2M1 42h2M7 49h2M5 48h2M3 61h2M2 46h2M5 50h2M2 51h2M5 43h2M3 54h2M3 50h2M3 46h2M3 53h2M2 55h2M5 54h2M6 48h2" stroke="#6a3ab8" stroke-opacity="0.35"/>
<path d="M36 48h2M48 48h2M32 31h2M24 31h2M28 31h2M33 46h2M44 36h2M26 36h2M40 47h2M38 46h2M30 44h2M43 32h2M29 51h2M27 45h2M34 32h2M34 31h2M36 58h2M49 35h2M41 47h2M32 59h2M37 44h2M28 23h2M27 29h2M46 33h2M44 31h2M28 38h2M33 16h2M37 51h2M34 22h2M29 22h2M34 25h2M35 39h2M48 23h2M18 56h2M40 32h2M41 25h2M33 45h2M33 38h2M40 38h2M34 43h2M48 52h2M28 46h2M19 19h2M40 43h2M49 16h2M46 30h2M32 42h2M49 25h2M21 29h2M35 51h2M40 33h2M32 31h2M45 16h2M30 26h2M46 38h2M30 45h2M54 49h2M25 34h2M47 15h2M25 31h2M41 27h2M38 34h2M39 22h2M38 48h2M41 17h2M21 33h2M28 14h2M31 27h2M35 41h2M38 38h2M41 35h2M32 32h2M47 33h2M43 56h2M52 10h2M38 48h2M32 28h2M23 28h2M36 14h2M36 26h2M36 23h2M37 38h2M30 28h2M45 44h2M29 41h2M26 30h2M42 30h2M41 28h2M39 34h2M27 61h2M29 20h2M37 42h2M39 35h2M40 47h2M42 20h2M52 36h2M18 46h2M35 40h2M54 30h2M31 24h2M38 44h2M40 38h2M17 39h2M46 30h2M31 24h2M38 17h2M53 34h2M31 22h2M41 48h2M31 38h2M39 48h2M42 51h2M32 23h2M28 41h2M47 27h2M33 31h2M31 34h2M31 50h2M39 44h2M35 22h2M40 31h2M54 51h2M25 24h2M31 34h2M46 34h2M40 32h2M34 51h2M36 60h2M36 41h2M40 44h2M53 28h2M31 25h2M52 42h2M40 42h2M20 45h2M37 40h2M37 35h2M36 29h2M34 44h2M17 46h2M42 23h2M41 40h2M32 56h2M38 35h2M24 62h2M38 40h2M34 61h2M35 55h2M46 48h2M42 50h2M35 11h2M18 52h2M42 42h2M30 12h2M35 57h2M35 36h2M37 37h2M28 14h2M44 30h2M32 19h2M35 31h2M40 31h2M23 42h2M35 14h2M33 45h2M36 32h2M41 29h2M30 43h2M35 29h2" stroke="#ec1a34" stroke-opacity="0.15"/>
</g></svg>
<path d="M0 0H33.4V32.15" stroke="#666" stroke-width="1" fill="none"/>
<path d="M0 0V32.15H33.4M-0.9 25.16H0.6M7.26 31.55V33.05M-0.9 18.17H0.6M14.52 31.55V33.05M-0.9 11.18H0.6M21.78 31.55V33.05M-0.9 4.19H0.6M29.04 31.55V33.05" stroke="#111" stroke-width="1" fill="none"/>
</g>
<g transform="translate(328.7 76.4)">
<svg x="0" y="0" width="32.8" height="32.15" viewBox="0 0 32.6 32.8" preserveAspectRatio="none" overflow="hidden"><g filter="url(#bl)">
<ellipse cx="8.5" cy="6" rx="4" ry="2" fill="#2a55ee" fill-opacity="0.72"/>
<ellipse cx="3" cy="6.5" rx="1.5" ry="1" fill="#6a3ab8" fill-opacity="0.32"/>
<ellipse cx="15.2" cy="6.6" rx="1.6" ry="1" fill="#ec1a34" fill-opacity="0.6"/>
<ellipse cx="8" cy="17" rx="2.5" ry="2" fill="#6a3ab8" fill-opacity="0.32"/>
<ellipse cx="4" cy="18" rx="2" ry="2.5" fill="#6a3ab8" fill-opacity="0.16"/>
<ellipse cx="6" cy="28" rx="5.5" ry="3.6" fill="#2a55ee" fill-opacity="0.72"/>
<ellipse cx="10" cy="18" rx="7" ry="9" fill="#ec1a34" fill-opacity="0.06"/>
</g>
<g transform="scale(.5)" stroke-width="1.9" fill="none" filter="url(#db)">
<path d="M17 15h2M14 8h2M18 13h2M19 13h2M17 11h2M14 12h2M16 14h2M20 10h2M20 12h2M22 15h2M20 9h2M20 9h2M24 11h2M17 16h2M10 12h2M13 11h2M14 14h2M16 13h2M20 9h2M23 12h2M11 11h2M21 14h2M15 12h2M18 14h2M17 14h2M14 11h2M20 14h2M17 13h2M18 14h2M22 13h2M21 11h2M15 7h2M19 12h2M20 8h2M15 11h2M10 14h2M22 10h2M19 16h2M13 14h2M24 16h2M12 10h2M18 15h2" stroke="#2a55ee" stroke-opacity="0.86"/>
<path d="M4 12h2M4 14h2M5 14h2M7 14h2" stroke="#6a3ab8" stroke-opacity="0.44"/>
<path d="M31 14h2M32 14h2M29 13h2M32 13h2M30 14h2M31 14h2M30 15h2" stroke="#ec1a34" stroke-opacity="0.74"/>
<path d="M18 35h2M13 37h2M18 34h2M9 34h2M13 34h2M15 33h2M19 34h2M19 32h2M16 37h2M17 33h2M14 33h2M16 36h2M17 36h2M18 34h2M20 36h2" stroke="#6a3ab8" stroke-opacity="0.44"/>
<path d="M8 36h2M8 34h2M5 36h2M7 38h2M7 37h2M9 35h2M9 34h2M7 38h2M9 36h2M7 38h2" stroke="#6a3ab8" stroke-opacity="0.27"/>
<path d="M19 57h2M19 61h2M7 63h2M9 55h2M16 56h2M14 54h2M7 56h2M6 61h2M14 62h2M6 49h2M5 58h2M4 51h2M14 55h2M16 59h2M15 52h2M11 57h2M13 56h2M12 54h2M10 49h2M22 56h2M5 58h2M16 51h2M10 62h2M16 58h2M18 56h2M11 62h2M12 56h2M16 57h2M6 63h2M12 63h2M15 53h2M21 56h2M8 56h2M8 55h2M8 59h2M15 60h2M22 57h2M13 58h2M8 54h2M17 53h2M2 55h2M14 62h2M9 53h2M13 56h2M14 54h2M14 54h2M18 57h2M16 55h2M4 56h2M12 60h2M18 56h2M12 53h2M12 57h2M10 52h2M20 53h2M22 61h2M21 53h2M16 51h2M11 51h2M8 55h2M18 60h2M10 55h2M7 52h2M3 56h2M16 54h2M15 52h2M7 54h2M17 54h2M17 55h2M6 49h2M10 53h2M18 58h2M3 59h2M7 57h2M4 54h2M15 57h2M15 59h2M11 58h2M14 56h2M14 57h2M17 57h2M13 58h2M20 57h2M16 57h2M2 53h2M7 51h2M9 50h2M14 54h2M19 58h2M5 55h2M13 54h2M10 52h2M8 57h2M11 61h2M1 53h2M10 62h2M19 59h2M18 62h2M16 55h2" stroke="#2a55ee" stroke-opacity="0.86"/>
<path d="M22 30h2M19 40h2M17 38h2M17 25h2M10 43h2M21 44h2M20 36h2M22 33h2M30 46h2M23 27h2M17 38h2M28 36h2M20 41h2M21 35h2M12 47h2M20 32h2M20 24h2M9 20h2M23 24h2M21 26h2M8 31h2M15 30h2M32 38h2M16 44h2M18 47h2M9 46h2M13 30h2M22 27h2M9 33h2M18 21h2M27 29h2M16 34h2M20 46h2M5 36h2M26 38h2M20 26h2M22 32h2M21 27h2M18 35h2M10 45h2M19 24h2M18 37h2M18 27h2M18 24h2M8 47h2M32 53h2M36 48h2M13 31h2M28 32h2M18 36h2M23 24h2M20 40h2M6 46h2M25 29h2M33 40h2M23 50h2M2 36h2M27 49h2M20 34h2M15 33h2M14 14h2M16 27h2M16 32h2M17 37h2M20 33h2M16 35h2M18 35h2M30 38h2M17 18h2M26 46h2M17 32h2M23 41h2M8 34h2M18 25h2M30 43h2M16 36h2M16 31h2M17 45h2M20 32h2M15 38h2M14 21h2M19 50h2M15 37h2M19 47h2M23 25h2M32 36h2M14 31h2M20 46h2M18 29h2M29 50h2M17 37h2M23 33h2M14 45h2M12 19h2M24 46h2M26 29h2M18 26h2M16 14h2M14 48h2M12 52h2M21 18h2M27 27h2" stroke="#ec1a34" stroke-opacity="0.16"/>
</g></svg>
<path d="M0 0H32.8V32.15" stroke="#666" stroke-width="1" fill="none"/>
<path d="M0 0V32.15H32.8M-0.9 25.16H0.6M7.13 31.55V33.05M-0.9 18.17H0.6M14.26 31.55V33.05M-0.9 11.18H0.6M21.39 31.55V33.05M-0.9 4.19H0.6M28.52 31.55V33.05" stroke="#111" stroke-width="1" fill="none"/>
</g>
<g transform="translate(366.9 76.4)">
<svg x="0" y="0" width="32.6" height="32.15" viewBox="0 0 32.6 32.8" preserveAspectRatio="none" overflow="hidden"><g filter="url(#bl)">
<ellipse cx="9.5" cy="5" rx="4.5" ry="2" fill="#2a55ee" fill-opacity="0.72"/>
<ellipse cx="9" cy="11" rx="2" ry="2" fill="#6a3ab8" fill-opacity="0.16"/>
<ellipse cx="9" cy="15.5" rx="2.5" ry="2.5" fill="#6a3ab8" fill-opacity="0.44"/>
<ellipse cx="9.5" cy="28" rx="5" ry="3.5" fill="#2a55ee" fill-opacity="0.72"/>
<ellipse cx="3" cy="26" rx="2.5" ry="4.5" fill="#ec1a34" fill-opacity="0.18"/>
<ellipse cx="9" cy="23" rx="5" ry="2" fill="#ec1a34" fill-opacity="0.1"/>
</g>
<g transform="scale(.5)" stroke-width="1.9" fill="none" filter="url(#db)">
<path d="M24 12h2M13 6h2M19 12h2M18 7h2M17 13h2M13 12h2M21 11h2M22 9h2M18 14h2M17 9h2M13 9h2M22 12h2M22 11h2M22 11h2M24 10h2M24 10h2M12 7h2M18 9h2M14 8h2M20 11h2M23 8h2M21 12h2M21 14h2M17 10h2M20 9h2M19 10h2M19 9h2M17 10h2M12 10h2M14 10h2M14 10h2M17 9h2M16 10h2M26 6h2M21 10h2M17 8h2M26 10h2M23 9h2M16 12h2M22 9h2M18 11h2M15 8h2M19 12h2M23 10h2M25 10h2M17 15h2M17 11h2" stroke="#2a55ee" stroke-opacity="0.86"/>
<path d="M19 22h2M18 23h2M19 21h2M18 25h2M19 21h2M18 20h2M16 21h2M21 21h2" stroke="#6a3ab8" stroke-opacity="0.27"/>
<path d="M13 31h2M16 33h2M21 30h2M18 29h2M21 29h2M18 37h2M16 31h2M18 32h2M19 35h2M19 32h2M15 32h2M15 34h2M18 33h2M17 32h2M18 32h2M18 30h2M17 29h2M16 28h2M14 36h2M16 28h2M20 32h2M18 34h2M23 29h2" stroke="#6a3ab8" stroke-opacity="0.57"/>
<path d="M26 58h2M25 54h2M27 60h2M6 60h2M26 51h2M21 55h2M20 53h2M22 59h2M19 56h2M11 58h2M13 56h2M19 61h2M19 56h2M23 56h2M30 55h2M27 52h2M15 58h2M12 63h2M22 56h2M28 54h2M15 47h2M10 55h2M9 59h2M24 58h2M11 53h2M12 58h2M24 55h2M19 57h2M23 53h2M14 59h2M22 58h2M19 59h2M21 54h2M27 60h2M18 56h2M16 51h2M14 51h2M16 57h2M19 51h2M18 54h2M14 60h2M14 59h2M11 57h2M16 59h2M21 53h2M22 60h2M26 61h2M17 63h2M16 56h2M11 55h2M12 56h2M10 62h2M23 62h2M25 57h2M21 57h2M10 52h2M17 59h2M12 57h2M16 59h2M23 52h2M13 61h2M24 56h2M23 56h2M21 55h2M22 62h2M26 60h2M20 59h2M17 55h2M20 52h2M20 50h2M27 59h2M21 54h2M16 55h2M11 55h2M15 59h2M26 61h2M12 51h2M26 59h2M24 58h2M20 63h2M23 58h2M14 57h2M26 58h2M24 55h2M23 54h2M18 60h2M28 55h2M18 55h2M18 56h2M23 57h2M19 58h2" stroke="#2a55ee" stroke-opacity="0.86"/>
<path d="M2 51h2M11 47h2M5 53h2M9 51h2M3 59h2M4 42h2M9 61h2M2 50h2M5 55h2M6 55h2M7 51h2M6 58h2M6 55h2M6 55h2M10 52h2M5 49h2M9 49h2M7 63h2M7 60h2M6 52h2M7 48h2M4 53h2M11 55h2" stroke="#ec1a34" stroke-opacity="0.29"/>
<path d="M10 47h2M9 42h2M29 44h2M7 46h2M17 47h2M17 46h2M22 46h2M14 47h2M15 48h2M18 46h2M16 47h2M23 45h2M7 48h2M14 47h2M15 47h2M17 44h2M12 46h2M19 43h2" stroke="#ec1a34" stroke-opacity="0.2"/>
</g></svg>
<path d="M0 0H32.6V32.15" stroke="#666" stroke-width="1" fill="none"/>
<path d="M0 0V32.15H32.6M-0.9 25.16H0.6M7.09 31.55V33.05M-0.9 18.17H0.6M14.17 31.55V33.05M-0.9 11.18H0.6M21.26 31.55V33.05M-0.9 4.19H0.6M28.35 31.55V33.05" stroke="#111" stroke-width="1" fill="none"/>
</g>
<g transform="translate(410.1 76.4)">
<svg x="0" y="0" width="32.5" height="32.15" viewBox="0 0 32.6 32.8" preserveAspectRatio="none" overflow="hidden"><g filter="url(#bl)">
<ellipse cx="4.6" cy="5.8" rx="1.8" ry="0.9" fill="#6a3ab8" fill-opacity="0.28"/>
<ellipse cx="4" cy="12.4" rx="1.5" ry="0.9" fill="#6a3ab8" fill-opacity="0.24"/>
<ellipse cx="5.5" cy="20.2" rx="2.8" ry="1.5" fill="#6a3ab8" fill-opacity="0.4"/>
<ellipse cx="4" cy="24" rx="3" ry="3" fill="#6a3ab8" fill-opacity="0.2"/>
<ellipse cx="3.5" cy="28.5" rx="3.8" ry="3" fill="#2a55ee" fill-opacity="0.72"/>
<ellipse cx="8.5" cy="28" rx="2.5" ry="3" fill="#ec1a34" fill-opacity="0.08"/>
</g>
<g transform="scale(.5)" stroke-width="1.9" fill="none" filter="url(#db)">
<path d="M9 12h2M9 11h2M10 12h2M11 11h2" stroke="#6a3ab8" stroke-opacity="0.4"/>
<path d="M8 26h2M8 24h2M8 25h2" stroke="#6a3ab8" stroke-opacity="0.35"/>
<path d="M15 38h2M12 39h2M14 40h2M11 42h2M10 41h2M9 40h2M5 39h2M9 39h2M4 41h2M13 40h2M14 44h2M9 38h2M10 42h2M12 40h2" stroke="#6a3ab8" stroke-opacity="0.53"/>
<path d="M9 49h2M2 49h2M5 47h2M6 48h2M11 47h2M8 51h2M9 46h2M10 46h2M7 48h2M12 45h2M7 48h2M5 48h2M12 42h2M8 46h2M14 50h2M10 47h2M5 48h2M9 48h2M13 50h2M5 47h2M9 44h2" stroke="#6a3ab8" stroke-opacity="0.31"/>
<path d="M6 55h2M7 57h2M4 61h2M4 59h2M3 54h2M4 56h2M10 52h2M13 53h2M13 57h2M5 59h2M5 57h2M3 63h2M6 55h2M5 61h2M6 54h2M9 58h2M11 53h2M13 61h2M4 56h2M9 56h2M10 59h2M7 53h2M2 60h2M14 57h2M10 61h2M10 53h2M3 55h2M7 54h2M8 61h2M5 57h2M3 56h2M10 61h2M8 54h2M5 54h2M7 59h2M15 59h2M5 52h2M11 60h2M9 61h2M9 52h2M7 59h2M8 56h2M4 59h2M10 55h2M3 56h2M3 57h2M2 58h2M3 58h2M16 53h2M10 57h2M9 56h2M4 55h2M11 58h2M2 60h2M3 59h2M7 55h2" stroke="#2a55ee" stroke-opacity="0.86"/>
<path d="M20 55h2M10 57h2M14 54h2M17 58h2M17 52h2M15 52h2M16 54h2M19 54h2M19 61h2M18 55h2M20 53h2M17 60h2M18 55h2" stroke="#ec1a34" stroke-opacity="0.18"/>
</g></svg>
<path d="M0 0H32.5V32.15" stroke="#666" stroke-width="1" fill="none"/>
<path d="M0 0V32.15H32.5M-0.9 25.16H0.6M7.07 31.55V33.05M-0.9 18.17H0.6M14.13 31.55V33.05M-0.9 11.18H0.6M21.2 31.55V33.05M-0.9 4.19H0.6M28.26 31.55V33.05" stroke="#111" stroke-width="1" fill="none"/>
</g>
<g transform="translate(445.9 76.4)">
<svg x="0" y="0" width="32.4" height="32.15" viewBox="0 0 32.6 32.8" preserveAspectRatio="none" overflow="hidden"><g filter="url(#bl)">
<ellipse cx="4.4" cy="8.2" rx="3.8" ry="4" fill="#2a55ee" fill-opacity="0.72"/>
<ellipse cx="4" cy="17" rx="3.5" ry="5" fill="#6a3ab8" fill-opacity="0.32"/>
<ellipse cx="3.8" cy="14.6" rx="2.2" ry="1.1" fill="#ec1a34" fill-opacity="0.68"/>
<ellipse cx="4" cy="27" rx="3.5" ry="4.3" fill="#2a55ee" fill-opacity="0.72"/>
<ellipse cx="9" cy="18" rx="2" ry="11" fill="#ec1a34" fill-opacity="0.08"/>
</g>
<g transform="scale(.5)" stroke-width="1.9" fill="none" filter="url(#db)">
<path d="M6 20h2M5 19h2M4 20h2M8 22h2M12 17h2M8 18h2M9 13h2M11 7h2M9 25h2M11 11h2M13 17h2M7 14h2M9 20h2M8 23h2M7 20h2M3 9h2M8 18h2M16 15h2M10 12h2M9 19h2M7 21h2M14 19h2M9 16h2M11 13h2M13 14h2M10 12h2M5 13h2M11 17h2M9 20h2M6 20h2M7 13h2M7 21h2M15 14h2M5 10h2M9 18h2M10 18h2M14 17h2M10 15h2M5 8h2M9 14h2M7 14h2M9 17h2M11 18h2M8 17h2M3 18h2M8 17h2M11 17h2M4 9h2M7 16h2M10 20h2M10 18h2M2 19h2M9 25h2M12 13h2M9 19h2M5 10h2M10 14h2M8 17h2M8 20h2M10 18h2M12 16h2M4 16h2M4 17h2M4 16h2M14 19h2M6 11h2M7 21h2M11 10h2M12 18h2M12 22h2M6 19h2M10 21h2M8 11h2M9 20h2M8 15h2M9 16h2M7 15h2M14 15h2M10 21h2" stroke="#2a55ee" stroke-opacity="0.86"/>
<path d="M12 26h2M5 28h2M8 23h2M3 33h2M9 28h2M9 40h2M5 40h2M8 23h2M9 35h2M13 31h2M14 34h2M10 33h2M10 40h2M8 32h2M10 33h2M9 39h2M9 36h2M9 35h2M11 40h2M9 26h2M3 38h2M13 41h2M6 35h2M6 36h2M8 29h2M10 34h2M16 40h2M3 39h2M5 31h2M8 28h2M5 40h2M9 35h2M11 35h2M10 30h2M10 33h2M10 33h2M10 32h2M4 31h2M12 33h2M9 33h2M11 30h2M6 40h2M5 32h2M10 38h2M7 41h2M7 35h2M5 23h2M6 31h2M5 46h2M3 37h2M14 38h2" stroke="#6a3ab8" stroke-opacity="0.44"/>
<path d="M9 29h2M6 31h2M11 29h2M9 29h2M9 28h2M10 29h2M8 29h2M10 29h2M9 29h2M10 30h2M13 28h2M10 29h2" stroke="#ec1a34" stroke-opacity="0.82"/>
<path d="M9 47h2M13 44h2M11 48h2M7 56h2M5 56h2M8 51h2M10 61h2M9 54h2M9 54h2M13 58h2M8 56h2M5 54h2M9 54h2M8 58h2M11 57h2M6 52h2M8 57h2M1 61h2M10 54h2M4 48h2M13 51h2M7 53h2M14 49h2M5 60h2M9 50h2M6 58h2M7 54h2M5 56h2M4 51h2M7 49h2M9 54h2M8 58h2M12 54h2M13 60h2M7 58h2M4 49h2M8 58h2M16 55h2M13 48h2M9 60h2M6 55h2M10 62h2M4 50h2M11 58h2M10 52h2M7 59h2M13 51h2M7 58h2M8 55h2M6 54h2M8 62h2M9 55h2M13 56h2M8 57h2M2 53h2M9 54h2M8 55h2M5 59h2M6 58h2M11 46h2M2 48h2M7 53h2M14 62h2M3 52h2M1 51h2M9 56h2M9 61h2M4 51h2M9 58h2M8 56h2M14 52h2M9 50h2M11 47h2M8 53h2" stroke="#2a55ee" stroke-opacity="0.86"/>
<path d="M19 39h2M17 30h2M18 38h2M16 40h2M17 33h2M17 21h2M14 53h2M16 28h2M18 45h2M18 26h2M20 43h2M17 36h2M18 61h2M19 25h2M18 20h2M19 49h2M20 42h2M17 35h2M17 35h2M18 32h2M16 28h2M19 32h2M20 42h2M16 54h2M20 26h2M18 24h2M18 48h2M17 27h2M19 25h2M18 49h2M19 28h2M17 48h2M21 30h2M18 28h2M16 25h2M17 49h2M20 57h2M17 22h2" stroke="#ec1a34" stroke-opacity="0.18"/>
</g></svg>
<path d="M0 0H32.4V32.15" stroke="#666" stroke-width="1" fill="none"/>
<path d="M0 0V32.15H32.4M-0.9 25.16H0.6M7.04 31.55V33.05M-0.9 18.17H0.6M14.09 31.55V33.05M-0.9 11.18H0.6M21.13 31.55V33.05M-0.9 4.19H0.6M28.17 31.55V33.05" stroke="#111" stroke-width="1" fill="none"/>
</g>
<g transform="translate(484 76.4)">
<svg x="0" y="0" width="32.5" height="32.15" viewBox="0 0 32.6 32.8" preserveAspectRatio="none" overflow="hidden"><g filter="url(#bl)">
<ellipse cx="6.5" cy="6.5" rx="4.3" ry="1" fill="#6a3ab8" fill-opacity="0.2"/>
<ellipse cx="3.6" cy="14" rx="2.4" ry="1.4" fill="#6a3ab8" fill-opacity="0.36"/>
<ellipse cx="4.5" cy="20" rx="3.5" ry="4" fill="#6a3ab8" fill-opacity="0.2"/>
<ellipse cx="4.2" cy="27.5" rx="3.5" ry="4" fill="#2a55ee" fill-opacity="0.76"/>
<ellipse cx="9.8" cy="28.5" rx="2.2" ry="2.5" fill="#ec1a34" fill-opacity="0.24"/>
</g>
<g transform="scale(.5)" stroke-width="1.9" fill="none" filter="url(#db)">
<path d="M5 13h2M16 13h2M14 11h2M12 13h2M17 13h2M13 12h2M9 13h2M19 11h2M20 14h2M15 13h2" stroke="#6a3ab8" stroke-opacity="0.31"/>
<path d="M6 26h2M9 28h2M2 27h2M6 27h2M12 30h2M10 30h2M9 25h2M10 28h2M11 29h2M3 31h2M4 30h2" stroke="#6a3ab8" stroke-opacity="0.48"/>
<path d="M11 38h2M1 36h2M6 39h2M8 47h2M11 45h2M5 38h2M13 44h2M12 38h2M5 48h2M7 38h2M15 40h2M7 44h2M8 46h2M9 37h2M10 40h2M4 38h2M4 44h2M14 39h2M7 42h2M9 42h2M11 42h2M11 36h2M12 32h2M9 39h2M10 39h2M10 32h2M7 37h2M10 41h2M7 38h2M6 39h2M11 43h2M8 35h2M6 43h2" stroke="#6a3ab8" stroke-opacity="0.31"/>
<path d="M4 53h2M8 52h2M7 57h2M8 56h2M8 50h2M2 59h2M6 60h2M12 53h2M6 53h2M14 55h2M7 59h2M5 52h2M6 55h2M4 52h2M9 51h2M4 57h2M5 54h2M11 55h2M15 54h2M3 56h2M9 58h2M3 54h2M12 56h2M12 52h2M10 55h2M14 51h2M13 56h2M9 52h2M4 49h2M9 51h2M12 57h2M10 60h2M8 59h2M2 53h2M12 54h2M14 55h2M5 61h2M9 54h2M8 52h2M7 58h2M6 54h2M6 55h2M10 57h2M7 52h2M9 59h2M9 53h2M7 59h2M5 54h2M3 54h2M11 59h2M11 59h2M6 62h2M15 48h2M4 58h2M11 61h2M9 51h2M6 61h2M8 48h2M8 58h2M8 58h2M10 55h2M5 55h2M11 53h2M12 63h2M11 57h2M9 51h2M14 54h2M6 62h2M12 53h2M9 56h2M11 47h2M5 49h2M9 52h2M10 63h2M10 51h2" stroke="#2a55ee" stroke-opacity="0.9"/>
<path d="M19 58h2M16 60h2M20 59h2M22 58h2M23 58h2M17 57h2M19 59h2M24 53h2M20 55h2M20 59h2M23 53h2M20 61h2M18 59h2M21 61h2" stroke="#ec1a34" stroke-opacity="0.35"/>
</g></svg>
<path d="M0 0H32.5V32.15" stroke="#666" stroke-width="1" fill="none"/>
<path d="M0 0V32.15H32.5M-0.9 25.16H0.6M7.07 31.55V33.05M-0.9 18.17H0.6M14.13 31.55V33.05M-0.9 11.18H0.6M21.2 31.55V33.05M-0.9 4.19H0.6M28.26 31.55V33.05" stroke="#111" stroke-width="1" fill="none"/>
</g>
<g transform="translate(216.35 114.5)">
<svg x="0" y="0" width="32.45" height="32.3" viewBox="0 0 32.6 32.8" preserveAspectRatio="none" overflow="hidden"><g filter="url(#bl)">
<ellipse cx="3.5" cy="16" rx="2.5" ry="13" fill="#2a55ee" fill-opacity="0.28"/>
<ellipse cx="9" cy="16" rx="2.6" ry="14" fill="#2a55ee" fill-opacity="0.72"/>
<ellipse cx="15.5" cy="12" rx="3" ry="9" fill="#ec1a34" fill-opacity="0.36"/>
<ellipse cx="21" cy="11" rx="4" ry="8" fill="#ec1a34" fill-opacity="0.68"/>
<ellipse cx="18" cy="24" rx="4.5" ry="6" fill="#ec1a34" fill-opacity="0.36"/>
</g>
<g transform="scale(.5)" stroke-width="1.9" fill="none" filter="url(#db)">
<path d="M10 21h2M8 4h2M7 50h2M11 17h2M6 28h2M9 39h2M10 28h2M8 43h2M9 26h2M4 40h2M8 18h2M10 40h2M8 33h2M8 51h2M6 51h2M8 38h2M11 35h2M8 25h2M7 34h2M6 23h2M9 46h2M5 24h2M9 47h2M4 27h2M10 58h2M9 17h2M10 32h2M6 37h2M5 22h2M8 27h2M7 31h2M6 23h2M3 28h2M10 38h2M9 42h2M7 36h2M7 26h2M7 38h2M6 23h2M8 33h2M8 47h2M8 32h2M5 18h2M8 40h2M8 39h2M6 38h2M8 41h2M6 48h2M10 20h2M7 32h2M8 49h2M3 46h2M9 26h2M6 40h2M6 27h2M6 58h2M2 57h2M3 47h2M6 33h2M5 28h2M10 22h2M1 27h2M1 22h2M7 24h2M6 56h2M13 54h2M11 38h2M5 23h2M4 22h2M6 40h2M10 38h2M9 23h2M9 22h2M7 55h2M8 29h2M9 24h2M7 21h2M9 31h2M7 36h2M8 36h2M7 30h2M8 38h2M10 49h2M11 33h2M6 38h2M7 48h2M7 45h2M5 42h2M6 22h2M4 19h2M6 53h2" stroke="#2a55ee" stroke-opacity="0.4"/>
<path d="M21 40h2M17 38h2M15 9h2M16 33h2M16 19h2M15 15h2M17 16h2M18 9h2M16 18h2M17 39h2M16 31h2M16 34h2M19 28h2M20 20h2M23 17h2M19 42h2M22 32h2M20 38h2M20 39h2M19 34h2M21 36h2M17 16h2M16 14h2M21 48h2M15 32h2M21 28h2M16 10h2M17 33h2M19 43h2M19 45h2M22 42h2M18 12h2M19 38h2M22 15h2M17 4h2M19 43h2M15 38h2M17 40h2M19 24h2M14 21h2M19 42h2M16 40h2M23 18h2M19 36h2M15 23h2M23 38h2M20 19h2M19 37h2M20 14h2M12 43h2M22 38h2M20 9h2M21 44h2M15 24h2M22 62h2M19 31h2M15 27h2M16 36h2M18 55h2M15 31h2M16 31h2M22 18h2M18 44h2M14 28h2M23 13h2M23 43h2M21 34h2M18 23h2M18 37h2M13 42h2M22 32h2M13 53h2M15 26h2M17 58h2M14 37h2M15 10h2M18 38h2M19 50h2M19 35h2M16 49h2M19 43h2M23 60h2M16 22h2M18 45h2M19 15h2M22 53h2M18 30h2M21 41h2M13 36h2M17 38h2M22 29h2M18 24h2M20 29h2M13 38h2M18 34h2M16 21h2M25 20h2M15 49h2M22 35h2M16 36h2M17 47h2M16 35h2M19 33h2M23 35h2M15 39h2M19 29h2M20 5h2M14 41h2M21 34h2M22 34h2M24 26h2M13 28h2M18 31h2M18 38h2M16 37h2M18 32h2M20 44h2M20 15h2M19 25h2M18 45h2M21 39h2M19 35h2M19 23h2M15 37h2M19 33h2M22 9h2M18 16h2M19 39h2M16 31h2M20 28h2M18 36h2M24 15h2M20 12h2M13 14h2M17 47h2M21 23h2M17 39h2M17 59h2M15 19h2M20 13h2M17 31h2M18 22h2M18 35h2M14 32h2M19 36h2M15 36h2M19 62h2M16 36h2M19 9h2M17 44h2M17 34h2M19 26h2M19 54h2M14 36h2M20 49h2M25 23h2M19 33h2M19 50h2M15 31h2M18 39h2M16 34h2M22 54h2M20 26h2M20 34h2M18 54h2M25 27h2M18 42h2M16 37h2M16 16h2M20 33h2M15 37h2M18 26h2M20 39h2M19 39h2M22 28h2M22 38h2M23 55h2M19 44h2M20 35h2M21 49h2M19 30h2M18 58h2M13 22h2M18 37h2M15 37h2M21 46h2M18 14h2M16 11h2M21 16h2M16 59h2M22 14h2" stroke="#2a55ee" stroke-opacity="0.86"/>
<path d="M31 24h2M35 11h2M30 29h2M32 6h2M30 25h2M32 30h2M28 11h2M32 26h2M29 17h2M24 23h2M35 25h2M28 32h2M32 40h2M28 30h2M29 18h2M33 32h2M33 32h2M28 7h2M27 23h2M27 21h2M31 33h2M32 26h2M31 19h2M39 30h2M32 27h2M33 31h2M29 22h2M32 9h2M29 25h2M35 38h2M33 43h2M26 43h2M29 37h2M34 26h2M31 5h2M36 11h2M35 20h2M29 26h2M28 12h2M29 22h2M28 16h2M29 26h2M31 19h2M35 28h2M24 13h2M30 32h2M33 14h2M35 12h2M30 19h2M23 24h2M35 25h2M35 16h2M27 26h2M28 24h2M37 20h2M31 28h2M32 14h2M29 21h2M38 21h2M27 4h2M34 30h2M36 35h2M26 19h2M29 26h2M30 35h2M29 4h2M33 9h2M33 17h2M29 21h2M27 36h2M31 30h2M31 25h2M31 29h2M29 25h2M33 14h2M31 16h2M34 19h2M28 14h2M34 39h2M30 34h2M35 31h2M28 3h2M31 29h2M32 25h2M32 17h2M33 33h2M28 41h2M37 28h2M28 5h2" stroke="#ec1a34" stroke-opacity="0.48"/>
<path d="M42 34h2M48 26h2M43 24h2M34 17h2M41 8h2M40 10h2M42 21h2M42 26h2M50 28h2M51 29h2M41 31h2M40 32h2M40 25h2M49 28h2M48 25h2M42 20h2M46 24h2M42 17h2M46 31h2M44 17h2M42 22h2M38 23h2M48 3h2M36 17h2M41 19h2M43 19h2M41 40h2M48 16h2M39 24h2M41 25h2M44 23h2M37 18h2M49 16h2M41 23h2M38 10h2M42 26h2M48 21h2M38 33h2M45 25h2M46 17h2M40 9h2M40 15h2M39 29h2M42 13h2M46 23h2M37 23h2M38 25h2M44 10h2M42 25h2M44 12h2M47 23h2M41 25h2M40 24h2M43 18h2M43 22h2M42 29h2M46 30h2M40 17h2M39 13h2M36 11h2M37 28h2M43 14h2M32 15h2M41 30h2M37 33h2M44 24h2M39 24h2M39 32h2M43 11h2M42 22h2M46 12h2M46 27h2M43 23h2M37 18h2M45 16h2M45 25h2M41 24h2M45 20h2M44 16h2M43 13h2M40 33h2M40 29h2M46 17h2M46 10h2M44 6h2M43 21h2M36 22h2M40 19h2M31 20h2M39 25h2M39 10h2M36 11h2M46 18h2M44 5h2M42 25h2M43 8h2M45 33h2M39 21h2M44 22h2M43 18h2M43 18h2M44 37h2M42 31h2M42 21h2M46 28h2M38 25h2M43 19h2M39 29h2M49 20h2M48 15h2M46 9h2M43 31h2M39 25h2M43 23h2M43 25h2M47 10h2M39 13h2M41 25h2M48 17h2M45 32h2M42 26h2M39 32h2M39 12h2M48 7h2M44 39h2M38 28h2M39 16h2M38 26h2M43 26h2M44 17h2M41 15h2M38 13h2M34 12h2M41 11h2M44 29h2M44 12h2M43 16h2M41 17h2M40 31h2M41 26h2M41 23h2M42 15h2M41 9h2M38 17h2M46 16h2M48 28h2M37 33h2M43 10h2M39 19h2M41 19h2M44 19h2M45 24h2M48 17h2M40 37h2M44 13h2M37 39h2M44 27h2M41 19h2M43 11h2M42 20h2M49 31h2" stroke="#ec1a34" stroke-opacity="0.82"/>
<path d="M39 52h2M41 51h2M30 49h2M34 50h2M34 45h2M33 39h2M38 42h2M34 44h2M33 37h2M32 53h2M30 37h2M34 50h2M29 47h2M34 37h2M40 45h2M37 48h2M33 45h2M42 40h2M36 47h2M36 50h2M33 54h2M28 53h2M38 55h2M35 56h2M31 56h2M43 44h2M38 52h2M34 49h2M41 45h2M41 43h2M42 43h2M37 40h2M32 55h2M33 44h2M30 42h2M35 42h2M40 54h2M43 60h2M34 58h2M32 46h2M29 47h2M35 47h2M33 53h2M43 43h2M33 43h2M36 44h2M32 46h2M28 47h2M37 49h2M46 43h2M36 51h2M28 53h2M28 51h2M31 48h2M36 51h2M37 38h2M41 42h2M41 62h2M36 48h2M27 44h2M38 58h2M37 35h2M38 47h2M40 48h2M32 44h2M37 57h2M32 36h2M36 49h2M42 49h2M38 48h2M37 48h2M37 50h2M32 45h2M37 54h2M39 43h2M32 42h2M37 52h2M34 36h2M40 38h2M42 50h2M39 51h2M38 54h2M40 52h2M39 57h2M46 48h2M37 40h2M38 44h2M44 43h2M35 52h2" stroke="#ec1a34" stroke-opacity="0.48"/>
</g></svg>
<path d="M0 0H32.45V32.3" stroke="#666" stroke-width="1" fill="none"/>
<path d="M0 0V32.3H32.45M-0.9 25.28H0.6M7.05 31.7V33.2M-0.9 18.26H0.6M14.11 31.7V33.2M-0.9 11.23H0.6M21.16 31.7V33.2M-0.9 4.21H0.6M28.22 31.7V33.2" stroke="#111" stroke-width="1" fill="none"/>
</g>
<g transform="translate(252.4 114.5)">
<svg x="0" y="0" width="32" height="32.3" viewBox="0 0 32.6 32.8" preserveAspectRatio="none" overflow="hidden"><g filter="url(#bl)">
<ellipse cx="6" cy="18" rx="5" ry="12.5" fill="#2a55ee" fill-opacity="0.76"/>
<ellipse cx="15.5" cy="8.2" rx="3.8" ry="1" fill="#ec1a34" fill-opacity="0.72"/>
<ellipse cx="16" cy="19" rx="4" ry="10" fill="#ec1a34" fill-opacity="0.36"/>
</g>
<g transform="scale(.5)" stroke-width="1.9" fill="none" filter="url(#db)">
<path d="M16 52h2M8 25h2M14 58h2M14 22h2M8 36h2M17 36h2M10 34h2M13 27h2M12 40h2M20 36h2M17 24h2M16 38h2M10 36h2M17 32h2M17 55h2M20 56h2M6 41h2M9 48h2M13 39h2M14 29h2M13 28h2M22 31h2M12 15h2M5 26h2M16 46h2M14 29h2M21 24h2M8 42h2M7 40h2M17 36h2M14 37h2M6 36h2M4 30h2M13 53h2M5 30h2M13 43h2M5 59h2M8 50h2M11 41h2M20 45h2M13 24h2M9 19h2M22 17h2M18 32h2M16 26h2M9 43h2M14 31h2M20 46h2M13 22h2M13 33h2M12 46h2M9 40h2M16 41h2M12 22h2M4 33h2M15 38h2M17 17h2M17 25h2M6 43h2M15 27h2M8 34h2M12 34h2M7 8h2M19 38h2M6 17h2M9 31h2M2 54h2M14 32h2M14 39h2M17 38h2M18 55h2M11 31h2M8 33h2M8 36h2M14 43h2M6 50h2M11 35h2M10 11h2M13 14h2M18 37h2M20 44h2M16 54h2M12 55h2M11 39h2M9 43h2M15 30h2M6 36h2M14 34h2M7 27h2M11 3h2M9 54h2M6 33h2M20 45h2M17 34h2M14 39h2M20 46h2M12 22h2M11 34h2M9 25h2M7 35h2M9 41h2M17 40h2M12 56h2M15 18h2M8 39h2M8 46h2M3 12h2M17 43h2M4 37h2M19 22h2M6 21h2M7 14h2M10 18h2M7 47h2M18 7h2M13 36h2M10 46h2M10 40h2M10 34h2M12 22h2M22 56h2M11 28h2M8 51h2M10 27h2M16 33h2M12 60h2M16 52h2M14 52h2M11 48h2M17 31h2M6 43h2M11 44h2M9 43h2M21 41h2M19 28h2M18 38h2M19 40h2M11 27h2M18 37h2M16 42h2M2 44h2M10 41h2M14 14h2M10 35h2M14 48h2M9 33h2M15 13h2M21 24h2M19 38h2M21 49h2M12 15h2M13 40h2M15 20h2M8 26h2M13 25h2M11 48h2M10 53h2M13 33h2M17 42h2M11 29h2M12 40h2M18 39h2M9 20h2M13 41h2M18 29h2M6 46h2M11 21h2M20 47h2M12 40h2M8 48h2M10 30h2M11 22h2M17 57h2M16 11h2M10 28h2M14 9h2M1 30h2M17 34h2M23 26h2M12 34h2M8 50h2M5 23h2M10 30h2M18 29h2M15 30h2M18 36h2M13 16h2M16 28h2M16 42h2M15 50h2M14 25h2M13 38h2M6 44h2M19 39h2M13 42h2M17 29h2M17 27h2M15 42h2M6 44h2M13 15h2M10 28h2M8 41h2M8 37h2M7 33h2M21 41h2M4 24h2M11 16h2M17 36h2M12 37h2M9 22h2M13 44h2M11 13h2M10 36h2M6 53h2M6 36h2M7 47h2M6 25h2M18 20h2M9 43h2M14 14h2M15 32h2M18 15h2M16 41h2M10 31h2M14 27h2M10 26h2M13 44h2M4 36h2M14 55h2M8 52h2M10 42h2M13 39h2M10 24h2M19 54h2M11 34h2M11 19h2M6 41h2M17 33h2M7 23h2M9 45h2M12 18h2M6 40h2M13 58h2M19 38h2M9 38h2M6 27h2M17 44h2M17 55h2M10 46h2M12 40h2M13 43h2M5 19h2M12 42h2M10 35h2M5 48h2M14 55h2M10 35h2M12 53h2M15 41h2M4 25h2M5 34h2M16 37h2M7 61h2M7 53h2M18 39h2M19 22h2M9 32h2M14 34h2M20 31h2M11 21h2M14 46h2M8 20h2M5 50h2M16 39h2M16 42h2M14 16h2M15 45h2M18 48h2M9 39h2M5 54h2M5 45h2M8 26h2M8 32h2M14 50h2M10 47h2M16 61h2M9 40h2M15 38h2M15 28h2M10 28h2M9 25h2M11 21h2M9 43h2M4 23h2M10 23h2M7 59h2M14 30h2M8 17h2M6 7h2M15 30h2M16 36h2M2 59h2M14 47h2M9 29h2M11 58h2M6 23h2M15 11h2M19 22h2M18 34h2M10 22h2M19 33h2M5 44h2M11 42h2M10 40h2M14 36h2M4 42h2M19 41h2M17 46h2M10 49h2M11 23h2M6 49h2M15 44h2M9 13h2M16 35h2M9 28h2M9 13h2M15 45h2M16 31h2M6 19h2M10 58h2M17 36h2M14 46h2M12 39h2M13 29h2M6 29h2M18 16h2M10 31h2M12 30h2M16 31h2" stroke="#2a55ee" stroke-opacity="0.9"/>
<path d="M31 17h2M26 17h2M35 15h2M31 16h2M30 17h2M24 17h2M33 16h2M39 16h2M25 17h2M32 16h2M37 15h2M36 17h2M23 17h2M33 17h2M36 18h2M31 16h2M30 17h2M27 15h2M40 17h2M35 16h2" stroke="#ec1a34" stroke-opacity="0.86"/>
<path d="M29 34h2M29 32h2M26 44h2M33 46h2M32 31h2M40 47h2M34 47h2M31 45h2M29 48h2M36 46h2M34 39h2M33 45h2M30 45h2M35 25h2M25 41h2M31 30h2M27 27h2M25 34h2M26 21h2M31 53h2M37 36h2M33 35h2M31 30h2M32 28h2M29 36h2M32 58h2M29 27h2M34 44h2M35 37h2M26 34h2M27 37h2M39 35h2M32 49h2M27 45h2M31 31h2M30 28h2M35 39h2M30 43h2M37 32h2M35 29h2M25 27h2M36 41h2M29 44h2M31 40h2M28 15h2M32 44h2M28 53h2M33 55h2M35 50h2M31 23h2M41 51h2M35 29h2M35 28h2M34 47h2M34 28h2M34 40h2M34 50h2M29 29h2M24 53h2M29 50h2M33 50h2M33 42h2M31 42h2M28 48h2M25 33h2M30 39h2M31 28h2M32 11h2M29 37h2M29 47h2M31 42h2M27 47h2M35 23h2M37 26h2M27 46h2M39 44h2M31 30h2M29 39h2M33 28h2M34 16h2M33 28h2M27 58h2M34 34h2M27 51h2M32 30h2M22 46h2M35 42h2M28 19h2M36 34h2M35 12h2M31 44h2M32 55h2M35 48h2M34 35h2M29 29h2M37 35h2M23 39h2M32 32h2M33 28h2M42 33h2M28 38h2M32 46h2M33 44h2M32 35h2M28 30h2M32 25h2M35 34h2M36 45h2M37 31h2M34 32h2M28 39h2M30 46h2M26 40h2M37 40h2M39 57h2M27 34h2M30 52h2M30 17h2M29 34h2M31 36h2M32 29h2M32 33h2M30 35h2M35 40h2M34 30h2M25 35h2M35 37h2M30 22h2M33 29h2M25 41h2M32 50h2" stroke="#ec1a34" stroke-opacity="0.48"/>
</g></svg>
<path d="M0 0H32V32.3" stroke="#666" stroke-width="1" fill="none"/>
<path d="M0 0V32.3H32M-0.9 25.28H0.6M6.96 31.7V33.2M-0.9 18.26H0.6M13.91 31.7V33.2M-0.9 11.23H0.6M20.87 31.7V33.2M-0.9 4.21H0.6M27.83 31.7V33.2" stroke="#111" stroke-width="1" fill="none"/>
</g>
<g transform="translate(290.2 114.5)">
<svg x="0" y="0" width="33.4" height="32.3" viewBox="0 0 32.6 32.8" preserveAspectRatio="none" overflow="hidden"><g filter="url(#bl)">
<ellipse cx="6" cy="7.5" rx="4" ry="2" fill="#6a3ab8" fill-opacity="0.68"/>
<ellipse cx="5.5" cy="15.8" rx="3.3" ry="2.3" fill="#6a3ab8" fill-opacity="0.56"/>
<ellipse cx="5.5" cy="27.5" rx="4" ry="3.5" fill="#2a55ee" fill-opacity="0.64"/>
<ellipse cx="3" cy="27" rx="2" ry="3" fill="#6a3ab8" fill-opacity="0.32"/>
<ellipse cx="16.5" cy="7.7" rx="5" ry="1.2" fill="#ec1a34" fill-opacity="0.2"/>
<ellipse cx="15.5" cy="22" rx="4" ry="8" fill="#ec1a34" fill-opacity="0.08"/>
</g>
<g transform="scale(.5)" stroke-width="1.9" fill="none" filter="url(#db)">
<path d="M14 15h2M13 16h2M10 14h2M14 14h2M15 15h2M5 12h2M8 11h2M12 14h2M16 13h2M11 16h2M15 13h2M18 14h2M17 14h2M10 12h2M11 20h2M9 18h2M18 14h2M17 18h2M11 14h2M17 16h2M21 16h2M7 15h2M7 17h2M15 14h2M8 17h2M10 18h2M8 14h2M10 13h2M9 17h2M4 18h2M17 14h2M11 16h2M14 14h2M8 14h2M10 17h2M12 16h2M5 14h2M10 14h2M12 14h2M6 17h2" stroke="#6a3ab8" stroke-opacity="0.82"/>
<path d="M14 30h2M13 29h2M7 31h2M16 31h2M6 32h2M9 30h2M12 27h2M5 28h2M15 32h2M9 30h2M13 35h2M9 32h2M19 33h2M10 33h2M12 33h2M12 31h2M11 33h2M9 32h2M8 35h2M17 30h2M14 32h2M11 31h2M12 34h2M7 34h2M10 29h2M11 33h2M11 32h2M10 30h2M15 29h2M15 33h2M10 31h2M10 32h2M11 31h2" stroke="#6a3ab8" stroke-opacity="0.69"/>
<path d="M13 53h2M9 55h2M7 61h2M11 55h2M7 58h2M14 61h2M15 52h2M6 60h2M8 55h2M11 57h2M14 51h2M9 49h2M14 55h2M4 59h2M11 52h2M10 53h2M12 56h2M9 57h2M14 59h2M15 51h2M4 54h2M21 56h2M8 49h2M12 54h2M13 56h2M2 55h2M14 53h2M6 51h2M6 63h2M17 53h2M17 51h2M9 52h2M10 58h2M20 58h2M11 56h2M10 56h2M8 56h2M13 59h2M8 57h2M12 52h2M3 53h2M15 54h2M20 57h2M8 55h2M13 57h2M10 57h2M12 53h2M4 56h2M9 55h2M9 58h2M16 53h2M6 56h2M17 57h2M13 50h2M9 57h2M13 55h2M13 58h2M11 53h2M5 56h2M10 54h2M16 53h2M10 57h2M8 47h2M9 58h2M9 54h2M4 59h2" stroke="#2a55ee" stroke-opacity="0.78"/>
<path d="M3 52h2M6 60h2M6 52h2M3 53h2M4 52h2M6 58h2M4 58h2M2 60h2M5 53h2M5 55h2M6 53h2M5 52h2M6 52h2M5 50h2M6 56h2M4 57h2M6 54h2M3 56h2" stroke="#6a3ab8" stroke-opacity="0.44"/>
<path d="M40 18h2M30 15h2M37 16h2M30 16h2M38 16h2M33 17h2M26 16h2M30 15h2M37 18h2M35 16h2M41 16h2M22 15h2M30 15h2M26 16h2" stroke="#ec1a34" stroke-opacity="0.31"/>
<path d="M32 58h2M30 45h2M28 53h2M36 58h2M35 40h2M36 37h2M29 43h2M40 39h2M27 46h2M36 49h2M33 38h2M30 55h2M32 39h2M30 55h2M38 48h2M28 58h2M29 45h2M33 44h2M31 57h2M33 33h2M29 55h2M31 36h2M35 48h2M31 49h2M30 46h2M34 40h2M36 36h2M40 45h2M33 35h2M34 38h2M33 45h2M28 59h2M32 40h2M30 47h2M32 51h2M29 46h2M29 39h2M35 38h2M25 50h2M29 49h2M33 49h2M32 57h2M27 54h2M31 47h2M30 52h2M33 41h2M32 49h2M34 42h2M35 47h2M29 42h2M25 51h2M37 44h2M28 31h2M27 45h2M29 43h2" stroke="#ec1a34" stroke-opacity="0.18"/>
</g></svg>
<path d="M0 0H33.4V32.3" stroke="#666" stroke-width="1" fill="none"/>
<path d="M0 0V32.3H33.4M-0.9 25.28H0.6M7.26 31.7V33.2M-0.9 18.26H0.6M14.52 31.7V33.2M-0.9 11.23H0.6M21.78 31.7V33.2M-0.9 4.21H0.6M29.04 31.7V33.2" stroke="#111" stroke-width="1" fill="none"/>
</g>
<g transform="translate(328.7 114.5)">
<svg x="0" y="0" width="32.8" height="32.3" viewBox="0 0 32.6 32.8" preserveAspectRatio="none" overflow="hidden"><g filter="url(#bl)">
<ellipse cx="9.5" cy="6.5" rx="4.2" ry="2" fill="#2a55ee" fill-opacity="0.72"/>
<ellipse cx="8" cy="17" rx="2.5" ry="3.5" fill="#6a3ab8" fill-opacity="0.32"/>
<ellipse cx="3" cy="17" rx="2" ry="3" fill="#6a3ab8" fill-opacity="0.12"/>
<ellipse cx="6.5" cy="28" rx="5.5" ry="3.3" fill="#2a55ee" fill-opacity="0.72"/>
</g>
<g transform="scale(.5)" stroke-width="1.9" fill="none" filter="url(#db)">
<path d="M28 11h2M20 12h2M15 12h2M17 13h2M21 15h2M20 15h2M21 13h2M18 11h2M12 13h2M18 14h2M20 10h2M16 11h2M23 13h2M19 11h2M13 12h2M18 14h2M12 14h2M15 12h2M17 12h2M21 15h2M20 12h2M20 14h2M22 13h2M12 11h2M17 15h2M18 15h2M20 11h2M19 14h2M20 10h2M20 12h2M10 12h2M11 10h2M25 18h2M23 14h2M27 14h2M15 8h2M22 8h2M19 11h2M23 13h2M20 14h2M16 13h2M28 11h2M19 14h2M16 13h2" stroke="#2a55ee" stroke-opacity="0.86"/>
<path d="M12 32h2M16 38h2M18 32h2M13 40h2M18 27h2M15 31h2M14 28h2M15 32h2M15 37h2M16 30h2M12 32h2M19 37h2M14 38h2M17 32h2M17 34h2M13 32h2M16 38h2M13 35h2M16 34h2M13 38h2M19 39h2M17 39h2M17 37h2M15 35h2M15 30h2M15 30h2" stroke="#6a3ab8" stroke-opacity="0.44"/>
<path d="M4 33h2M5 40h2M10 37h2M8 31h2M7 30h2M5 32h2M5 37h2M4 41h2M5 36h2M3 37h2M3 35h2" stroke="#6a3ab8" stroke-opacity="0.23"/>
<path d="M13 59h2M16 57h2M12 62h2M10 56h2M10 56h2M8 55h2M16 54h2M15 54h2M21 55h2M23 58h2M12 59h2M19 61h2M21 59h2M6 59h2M12 57h2M20 54h2M16 55h2M21 57h2M19 60h2M5 57h2M4 54h2M16 52h2M9 54h2M15 57h2M15 54h2M9 57h2M8 53h2M17 53h2M8 60h2M13 48h2M9 62h2M17 58h2M15 50h2M18 57h2M12 51h2M9 56h2M11 57h2M11 59h2M16 52h2M9 57h2M10 61h2M10 57h2M16 52h2M20 55h2M9 54h2M3 51h2M21 55h2M11 57h2M16 53h2M12 57h2M18 57h2M22 55h2M11 51h2M13 58h2M11 55h2M7 54h2M10 56h2M19 58h2M18 60h2M10 60h2M13 51h2M9 56h2M4 63h2M12 59h2M6 56h2M14 53h2M14 56h2M15 52h2M16 55h2M8 49h2M12 55h2M26 52h2M21 60h2M15 57h2M15 51h2M20 55h2M9 56h2M6 51h2M16 61h2M13 55h2M14 54h2M13 57h2M11 54h2M13 56h2M16 51h2M7 54h2M15 52h2M19 61h2M9 59h2M1 55h2M4 59h2M17 57h2M9 52h2M15 54h2" stroke="#2a55ee" stroke-opacity="0.86"/>
</g></svg>
<path d="M0 0H32.8V32.3" stroke="#666" stroke-width="1" fill="none"/>
<path d="M0 0V32.3H32.8M-0.9 25.28H0.6M7.13 31.7V33.2M-0.9 18.26H0.6M14.26 31.7V33.2M-0.9 11.23H0.6M21.39 31.7V33.2M-0.9 4.21H0.6M28.52 31.7V33.2" stroke="#111" stroke-width="1" fill="none"/>
</g>
<g transform="translate(366.9 114.5)">
<svg x="0" y="0" width="32.6" height="32.3" viewBox="0 0 32.6 32.8" preserveAspectRatio="none" overflow="hidden"><g filter="url(#bl)">
<ellipse cx="10.5" cy="5.6" rx="4.5" ry="1.5" fill="#6a3ab8" fill-opacity="0.72"/>
<ellipse cx="16.5" cy="5.6" rx="2.5" ry="1" fill="#ec1a34" fill-opacity="0.32"/>
<ellipse cx="7.5" cy="16" rx="5" ry="8" fill="#ec1a34" fill-opacity="0.1"/>
<ellipse cx="10.5" cy="16.5" rx="2" ry="3.5" fill="#6a3ab8" fill-opacity="0.28"/>
<ellipse cx="8" cy="28" rx="5" ry="3.3" fill="#2a55ee" fill-opacity="0.76"/>
<ellipse cx="3" cy="27" rx="2" ry="3.5" fill="#ec1a34" fill-opacity="0.32"/>
<ellipse cx="14" cy="26" rx="2.5" ry="3" fill="#ec1a34" fill-opacity="0.12"/>
</g>
<g transform="scale(.5)" stroke-width="1.9" fill="none" filter="url(#db)">
<path d="M19 8h2M23 13h2M27 13h2M25 13h2M20 9h2M13 12h2M23 11h2M10 11h2M21 10h2M17 15h2M28 12h2M22 10h2M19 12h2M17 11h2M29 9h2M17 14h2M23 11h2M17 9h2M23 10h2M21 8h2M25 12h2M22 12h2M14 11h2M23 11h2M22 9h2M21 13h2M21 13h2M18 10h2M22 10h2M13 12h2M21 12h2M17 10h2M23 10h2M20 12h2M17 12h2" stroke="#6a3ab8" stroke-opacity="0.86"/>
<path d="M29 12h2M32 9h2M30 11h2M31 12h2M33 12h2M32 12h2M37 10h2" stroke="#ec1a34" stroke-opacity="0.44"/>
<path d="M14 31h2M15 42h2M13 24h2M8 19h2M14 40h2M15 25h2M14 24h2M21 33h2M23 38h2M18 24h2M18 29h2M12 34h2M24 36h2M26 38h2M8 28h2M25 37h2M16 28h2M16 36h2M13 32h2M17 23h2M14 26h2M12 25h2M12 25h2M25 31h2M17 26h2M16 36h2M24 47h2M13 48h2M16 43h2M15 39h2M15 21h2M18 30h2M15 35h2M18 54h2M10 28h2M10 43h2M14 28h2M18 33h2M18 20h2M16 38h2M12 43h2M15 26h2M13 37h2M21 29h2M18 30h2M11 24h2M19 29h2M16 47h2M21 29h2M14 35h2M4 38h2M12 39h2M12 30h2M20 38h2M25 29h2M12 45h2M18 23h2M13 36h2M13 20h2M16 36h2M22 42h2M20 26h2M9 24h2M18 40h2M5 37h2M20 45h2M19 41h2M17 30h2M15 32h2M9 31h2M21 30h2M22 25h2M18 26h2" stroke="#ec1a34" stroke-opacity="0.2"/>
<path d="M23 36h2M23 36h2M22 37h2M22 24h2M21 35h2M16 38h2M21 37h2M20 34h2M19 32h2M18 34h2M20 31h2M20 30h2M21 33h2M20 38h2M19 32h2M18 32h2M21 26h2M22 25h2M20 32h2M18 38h2" stroke="#6a3ab8" stroke-opacity="0.4"/>
<path d="M17 51h2M18 57h2M13 53h2M17 63h2M7 50h2M17 54h2M17 63h2M11 58h2M16 52h2M15 52h2M15 61h2M22 60h2M17 54h2M27 56h2M18 60h2M15 58h2M16 57h2M21 51h2M17 54h2M15 57h2M24 49h2M25 54h2M12 53h2M17 57h2M7 50h2M21 56h2M6 55h2M14 61h2M12 54h2M14 57h2M19 58h2M25 56h2M24 56h2M20 59h2M26 53h2M15 55h2M16 61h2M7 52h2M21 62h2M10 54h2M19 58h2M8 56h2M13 52h2M15 53h2M13 52h2M26 55h2M13 47h2M7 61h2M11 54h2M15 57h2M26 50h2M7 62h2M20 59h2M23 56h2M20 60h2M24 57h2M10 54h2M15 55h2M22 52h2M19 55h2M17 61h2M22 54h2M16 60h2M16 60h2M23 55h2M19 63h2M20 54h2M23 56h2M15 58h2M20 54h2M18 58h2M21 56h2M12 56h2M18 57h2M21 57h2M9 58h2M21 50h2M20 59h2M19 58h2M12 58h2M19 53h2M20 60h2M15 63h2M18 57h2M20 57h2M16 55h2M8 52h2M17 61h2" stroke="#2a55ee" stroke-opacity="0.9"/>
<path d="M5 45h2M8 50h2M4 56h2M6 55h2M5 52h2M7 57h2M8 58h2M8 53h2M7 54h2M4 61h2M9 52h2M5 55h2M6 53h2M6 60h2M6 52h2M9 54h2M5 52h2M6 53h2M6 54h2M7 49h2M4 53h2" stroke="#ec1a34" stroke-opacity="0.44"/>
<path d="M28 51h2M28 52h2M27 51h2M33 52h2M27 55h2M29 49h2M29 53h2M30 52h2M22 47h2M29 47h2M31 57h2M24 54h2M30 60h2M26 54h2" stroke="#ec1a34" stroke-opacity="0.23"/>
</g></svg>
<path d="M0 0H32.6V32.3" stroke="#666" stroke-width="1" fill="none"/>
<path d="M0 0V32.3H32.6M-0.9 25.28H0.6M7.09 31.7V33.2M-0.9 18.26H0.6M14.17 31.7V33.2M-0.9 11.23H0.6M21.26 31.7V33.2M-0.9 4.21H0.6M28.35 31.7V33.2" stroke="#111" stroke-width="1" fill="none"/>
</g>
<g transform="translate(410.1 114.5)">
<svg x="0" y="0" width="32.5" height="32.3" viewBox="0 0 32.6 32.8" preserveAspectRatio="none" overflow="hidden"><g filter="url(#bl)">
<ellipse cx="7" cy="6.5" rx="4.2" ry="1.8" fill="#6a3ab8" fill-opacity="0.68"/>
<ellipse cx="6" cy="14.3" rx="2.5" ry="1.5" fill="#ec1a34" fill-opacity="0.24"/>
<ellipse cx="6" cy="14.3" rx="2.5" ry="1.5" fill="#6a3ab8" fill-opacity="0.16"/>
<ellipse cx="9.5" cy="20" rx="2.8" ry="3" fill="#6a3ab8" fill-opacity="0.44"/>
<ellipse cx="5.5" cy="26.8" rx="5.5" ry="4.3" fill="#2a55ee" fill-opacity="0.76"/>
<ellipse cx="3" cy="19" rx="2.5" ry="5" fill="#6a3ab8" fill-opacity="0.16"/>
</g>
<g transform="scale(.5)" stroke-width="1.9" fill="none" filter="url(#db)">
<path d="M7 16h2M16 12h2M18 11h2M24 14h2M14 15h2M9 14h2M19 15h2M16 11h2M16 11h2M15 12h2M11 15h2M23 16h2M13 12h2M10 12h2M15 14h2M12 13h2M9 12h2M20 16h2M16 13h2M15 12h2M9 14h2M9 14h2M9 13h2M21 14h2M14 14h2M8 15h2M11 12h2M11 13h2M11 12h2M16 13h2M19 15h2M19 11h2M14 14h2M18 12h2M17 15h2M10 11h2M11 13h2M9 13h2" stroke="#6a3ab8" stroke-opacity="0.82"/>
<path d="M11 27h2M15 30h2M8 30h2M11 27h2M11 28h2M16 29h2M12 29h2M13 27h2M15 29h2" stroke="#ec1a34" stroke-opacity="0.35"/>
<path d="M15 31h2M11 32h2M11 28h2M7 31h2M12 28h2M11 29h2M15 30h2M11 28h2" stroke="#6a3ab8" stroke-opacity="0.27"/>
<path d="M14 38h2M20 39h2M25 43h2M18 42h2M20 38h2M18 35h2M18 43h2M18 45h2M19 42h2M20 38h2M16 41h2M21 40h2M19 32h2M17 43h2M22 41h2M17 43h2M18 42h2M23 37h2M18 41h2M20 40h2M22 43h2M18 40h2M22 37h2M18 34h2M17 46h2M25 39h2M24 42h2M20 40h2M22 36h2M23 41h2M19 35h2" stroke="#6a3ab8" stroke-opacity="0.57"/>
<path d="M25 58h2M13 54h2M17 52h2M13 57h2M8 51h2M18 50h2M7 56h2M6 63h2M4 52h2M14 58h2M16 56h2M2 47h2M12 56h2M12 51h2M13 58h2M21 57h2M8 54h2M12 63h2M14 58h2M17 55h2M8 47h2M8 57h2M16 46h2M9 54h2M16 52h2M9 54h2M14 54h2M7 53h2M12 51h2M10 53h2M3 62h2M11 57h2M22 55h2M7 54h2M7 52h2M15 51h2M15 55h2M20 56h2M16 57h2M9 53h2M6 49h2M23 49h2M18 53h2M5 54h2M16 58h2M18 54h2M14 51h2M7 57h2M16 53h2M11 51h2M11 49h2M12 54h2M10 63h2M7 55h2M15 50h2M16 50h2M13 54h2M19 47h2M15 49h2M12 48h2M15 54h2M5 61h2M10 60h2M9 52h2M4 55h2M10 50h2M21 53h2M22 55h2M1 47h2M12 61h2M10 49h2M6 58h2M19 53h2M6 48h2M15 49h2M11 52h2M20 45h2M5 51h2M18 51h2M16 50h2M18 51h2M4 52h2M6 54h2M12 57h2M2 58h2M7 51h2M7 55h2M9 57h2M10 58h2M24 55h2M13 50h2M12 52h2M6 50h2M22 45h2M3 48h2M10 52h2M13 55h2M11 49h2M7 58h2M17 52h2M14 50h2M6 47h2M16 62h2M12 56h2M15 53h2M13 60h2M11 52h2M23 62h2M15 48h2M7 50h2M12 53h2M10 57h2M3 46h2M11 56h2M11 62h2M9 52h2M10 49h2M16 55h2M19 45h2M4 58h2M13 53h2M13 57h2M7 59h2M15 53h2M10 59h2M11 51h2M4 51h2" stroke="#2a55ee" stroke-opacity="0.9"/>
<path d="M6 33h2M5 44h2M4 42h2M7 25h2M8 38h2M3 36h2M4 37h2M5 42h2M7 43h2M9 34h2M7 41h2M3 45h2M7 38h2M7 34h2M7 44h2M10 40h2M7 37h2M5 42h2M6 38h2M9 40h2M8 32h2M5 33h2M8 37h2M5 37h2M5 45h2M10 42h2" stroke="#6a3ab8" stroke-opacity="0.27"/>
</g></svg>
<path d="M0 0H32.5V32.3" stroke="#666" stroke-width="1" fill="none"/>
<path d="M0 0V32.3H32.5M-0.9 25.28H0.6M7.07 31.7V33.2M-0.9 18.26H0.6M14.13 31.7V33.2M-0.9 11.23H0.6M21.2 31.7V33.2M-0.9 4.21H0.6M28.26 31.7V33.2" stroke="#111" stroke-width="1" fill="none"/>
</g>
<g transform="translate(445.9 114.5)">
<svg x="0" y="0" width="32.4" height="32.3" viewBox="0 0 32.6 32.8" preserveAspectRatio="none" overflow="hidden"><g filter="url(#bl)">
<ellipse cx="6" cy="6" rx="4.5" ry="2.5" fill="#2a55ee" fill-opacity="0.72"/>
<ellipse cx="11.5" cy="5" rx="2" ry="1.5" fill="#ec1a34" fill-opacity="0.2"/>
<ellipse cx="5.5" cy="12.8" rx="3.3" ry="2" fill="#6a3ab8" fill-opacity="0.48"/>
<ellipse cx="5.5" cy="19.5" rx="3.5" ry="3.5" fill="#6a3ab8" fill-opacity="0.28"/>
<ellipse cx="5.5" cy="27" rx="4.3" ry="4" fill="#2a55ee" fill-opacity="0.72"/>
<ellipse cx="15.5" cy="26" rx="3.5" ry="3.8" fill="#ec1a34" fill-opacity="0.36"/>
<ellipse cx="15" cy="19" rx="3.5" ry="3.5" fill="#ec1a34" fill-opacity="0.08"/>
</g>
<g transform="scale(.5)" stroke-width="1.9" fill="none" filter="url(#db)">
<path d="M12 10h2M14 15h2M19 14h2M12 11h2M10 9h2M5 7h2M17 12h2M16 8h2M13 12h2M15 11h2M16 14h2M18 7h2M6 16h2M24 13h2M10 15h2M13 13h2M18 12h2M4 10h2M15 10h2M14 11h2M15 11h2M16 11h2M7 13h2M14 12h2M5 11h2M16 13h2M7 15h2M14 12h2M10 12h2M14 6h2M10 9h2M14 12h2M12 13h2M20 17h2M6 16h2M13 8h2M18 10h2M9 14h2M11 12h2M18 13h2M6 9h2M6 12h2M12 11h2M17 12h2M11 15h2M15 13h2M17 14h2M13 12h2M10 10h2M23 13h2M1 12h2M9 9h2M10 13h2M17 11h2M11 13h2M5 15h2M10 9h2M8 9h2" stroke="#2a55ee" stroke-opacity="0.86"/>
<path d="M24 10h2M24 11h2M24 11h2M22 10h2M23 10h2M26 9h2M24 11h2" stroke="#ec1a34" stroke-opacity="0.31"/>
<path d="M11 24h2M11 25h2M7 24h2M5 25h2M15 26h2M15 28h2M12 27h2M12 26h2M11 27h2M5 25h2M10 24h2M11 29h2M10 28h2M15 25h2M10 26h2M10 30h2M12 26h2M9 25h2M9 25h2M11 27h2M10 23h2M16 26h2M11 23h2M11 26h2M12 25h2M12 26h2" stroke="#6a3ab8" stroke-opacity="0.61"/>
<path d="M12 31h2M11 38h2M7 42h2M9 33h2M10 37h2M4 44h2M10 37h2M3 43h2M11 41h2M13 34h2M8 42h2M10 44h2M10 43h2M16 37h2M10 41h2M10 39h2M12 35h2M8 40h2M10 35h2M9 40h2M12 40h2M12 45h2M10 37h2M14 40h2M10 37h2M9 39h2M12 35h2M8 39h2M8 31h2M5 33h2M8 38h2M10 38h2M15 39h2M14 40h2M6 34h2" stroke="#6a3ab8" stroke-opacity="0.4"/>
<path d="M15 52h2M15 51h2M3 50h2M10 49h2M15 54h2M11 50h2M19 55h2M6 59h2M9 57h2M7 51h2M16 52h2M8 58h2M11 47h2M16 54h2M15 51h2M12 56h2M3 52h2M11 50h2M14 55h2M7 51h2M9 56h2M9 55h2M9 52h2M17 62h2M15 55h2M9 54h2M5 60h2M11 50h2M8 56h2M13 51h2M11 44h2M10 60h2M13 49h2M14 53h2M7 55h2M15 55h2M14 54h2M7 47h2M11 57h2M10 53h2M4 49h2M19 49h2M3 55h2M17 52h2M11 61h2M6 54h2M15 60h2M10 53h2M11 55h2M4 52h2M9 56h2M6 57h2M13 54h2M6 47h2M9 53h2M8 54h2M8 53h2M8 57h2M16 54h2M9 57h2M15 60h2M16 52h2M10 53h2M15 56h2M17 56h2M9 46h2M7 57h2M15 56h2M14 52h2M6 52h2M11 57h2M18 59h2M17 48h2M12 53h2M14 56h2M15 59h2M8 52h2M12 54h2M12 56h2M14 55h2M5 44h2M8 53h2M6 53h2M14 59h2M16 50h2M15 57h2M18 53h2M9 57h2" stroke="#2a55ee" stroke-opacity="0.86"/>
<path d="M32 49h2M40 50h2M29 51h2M28 49h2M32 52h2M27 53h2M35 57h2M29 50h2M32 47h2M28 56h2M32 53h2M29 48h2M29 55h2M30 50h2M30 50h2M33 51h2M27 49h2M33 53h2M40 47h2M35 46h2M34 50h2M32 54h2M30 54h2M27 56h2M30 52h2M33 49h2M32 51h2M34 52h2M26 45h2M25 50h2M34 53h2M29 53h2M32 52h2M32 54h2M31 53h2M25 48h2M30 49h2M24 52h2M29 57h2M29 54h2M25 56h2M31 50h2M29 46h2" stroke="#ec1a34" stroke-opacity="0.48"/>
<path d="M29 37h2M33 36h2M25 39h2M30 39h2M35 37h2M31 38h2M30 37h2M34 37h2M29 33h2M33 37h2M33 35h2M28 41h2M30 41h2M28 31h2M33 41h2M28 34h2M30 32h2M29 38h2M31 36h2M35 43h2M33 36h2" stroke="#ec1a34" stroke-opacity="0.18"/>
</g></svg>
<path d="M0 0H32.4V32.3" stroke="#666" stroke-width="1" fill="none"/>
<path d="M0 0V32.3H32.4M-0.9 25.28H0.6M7.04 31.7V33.2M-0.9 18.26H0.6M14.09 31.7V33.2M-0.9 11.23H0.6M21.13 31.7V33.2M-0.9 4.21H0.6M28.17 31.7V33.2" stroke="#111" stroke-width="1" fill="none"/>
</g>
<g transform="translate(484 114.5)">
<svg x="0" y="0" width="32.5" height="32.3" viewBox="0 0 32.6 32.8" preserveAspectRatio="none" overflow="hidden"><g filter="url(#bl)">
<ellipse cx="8.5" cy="5.5" rx="2.2" ry="0.9" fill="#1a1a1a" fill-opacity="0.24"/>
<ellipse cx="5" cy="20" rx="3.8" ry="4.5" fill="#6a3ab8" fill-opacity="0.24"/>
<ellipse cx="4.5" cy="27.5" rx="4.3" ry="3.7" fill="#2a55ee" fill-opacity="0.76"/>
<ellipse cx="14" cy="26" rx="5.5" ry="3" fill="#ec1a34" fill-opacity="0.2"/>
</g>
<g transform="scale(.5)" stroke-width="1.9" fill="none" filter="url(#db)">
<path d="M15 10h2M18 11h2M21 12h2M16 12h2M18 10h2" stroke="#1a1a1a" stroke-opacity="0.35"/>
<path d="M14 37h2M18 44h2M9 39h2M13 33h2M10 33h2M11 40h2M15 39h2M10 46h2M7 46h2M9 35h2M13 43h2M8 47h2M16 37h2M8 39h2M9 37h2M12 40h2M11 40h2M11 36h2M6 38h2M9 45h2M11 36h2M6 46h2M12 44h2M5 39h2M13 47h2M8 40h2M9 41h2M9 42h2M10 46h2M9 36h2M6 41h2M3 35h2M11 48h2M2 37h2M10 40h2M16 43h2M9 46h2M14 43h2M6 43h2M18 40h2M13 34h2M8 38h2M13 48h2M8 44h2M13 37h2" stroke="#6a3ab8" stroke-opacity="0.35"/>
<path d="M12 55h2M11 53h2M12 58h2M10 53h2M2 51h2M14 56h2M7 59h2M11 52h2M8 57h2M10 53h2M6 48h2M13 59h2M8 54h2M6 56h2M12 58h2M17 59h2M12 59h2M9 54h2M18 52h2M4 53h2M12 51h2M11 63h2M11 60h2M2 53h2M5 59h2M11 61h2M11 58h2M2 54h2M18 50h2M7 55h2M4 52h2M9 54h2M10 53h2M15 46h2M4 54h2M8 53h2M4 49h2M15 53h2M7 46h2M6 57h2M11 55h2M5 60h2M16 53h2M12 61h2M10 59h2M10 58h2M8 58h2M11 58h2M9 58h2M10 53h2M8 55h2M17 58h2M11 47h2M15 59h2M7 61h2M5 53h2M7 53h2M1 53h2M5 50h2M11 55h2M11 46h2M5 54h2M8 54h2M9 49h2M14 56h2M2 55h2M7 56h2M12 55h2M11 56h2M2 50h2M11 59h2M3 55h2M13 54h2M5 53h2M12 58h2M16 54h2M10 58h2M11 59h2M7 55h2M4 58h2M13 54h2M7 58h2M10 56h2M13 59h2M10 49h2M11 57h2M15 52h2" stroke="#2a55ee" stroke-opacity="0.9"/>
<path d="M21 55h2M28 53h2M37 49h2M22 52h2M34 50h2M29 52h2M25 50h2M25 45h2M36 53h2M31 49h2M33 54h2M26 48h2M24 51h2M26 54h2M28 52h2M21 49h2M23 53h2M29 49h2M36 54h2M29 51h2M25 51h2M29 51h2M16 52h2M31 57h2M34 52h2M26 52h2M31 51h2M28 47h2M26 60h2M35 50h2M22 54h2M20 54h2M30 52h2M27 56h2M22 49h2M37 49h2M24 54h2M16 49h2M29 54h2" stroke="#ec1a34" stroke-opacity="0.31"/>
</g></svg>
<path d="M0 0H32.5V32.3" stroke="#666" stroke-width="1" fill="none"/>
<path d="M0 0V32.3H32.5M-0.9 25.28H0.6M7.07 31.7V33.2M-0.9 18.26H0.6M14.13 31.7V33.2M-0.9 11.23H0.6M21.2 31.7V33.2M-0.9 4.21H0.6M28.26 31.7V33.2" stroke="#111" stroke-width="1" fill="none"/>
</g>
<g transform="translate(216.35 152.45)">
<svg x="0" y="0" width="32.45" height="32.35" viewBox="0 0 32.6 32.8" preserveAspectRatio="none" overflow="hidden"><g filter="url(#bl)">
<ellipse cx="7.5" cy="6" rx="4.8" ry="3.8" fill="#2a55ee" fill-opacity="0.72"/>
<ellipse cx="6.5" cy="20" rx="4.5" ry="10" fill="#2a55ee" fill-opacity="0.24"/>
<ellipse cx="8.5" cy="16" rx="2.5" ry="3" fill="#2a55ee" fill-opacity="0.24"/>
<ellipse cx="8.5" cy="26" rx="3" ry="3.5" fill="#6a3ab8" fill-opacity="0.32"/>
<ellipse cx="17.8" cy="5" rx="5" ry="1.5" fill="#ec1a34" fill-opacity="0.72"/>
<ellipse cx="27" cy="17" rx="2.8" ry="8.5" fill="#ec1a34" fill-opacity="0.28"/>
<ellipse cx="19" cy="18" rx="6" ry="10" fill="#ec1a34" fill-opacity="0.04"/>
</g>
<g transform="scale(.5)" stroke-width="1.9" fill="none" filter="url(#db)">
<path d="M11 11h2M22 13h2M16 15h2M10 15h2M20 12h2M15 13h2M20 18h2M6 7h2M22 11h2M13 12h2M24 13h2M11 6h2M8 10h2M8 6h2M19 15h2M12 19h2M18 10h2M18 13h2M12 18h2M8 15h2M13 16h2M18 17h2M5 11h2M21 11h2M25 16h2M20 11h2M4 13h2M15 15h2M13 7h2M11 5h2M10 12h2M16 15h2M12 15h2M15 7h2M10 12h2M12 9h2M17 7h2M13 9h2M7 11h2M21 11h2M12 17h2M18 14h2M21 13h2M15 16h2M17 7h2M20 13h2M24 12h2M6 12h2M14 19h2M21 18h2M14 13h2M23 8h2M17 17h2M12 12h2M4 17h2M9 16h2M16 6h2M7 7h2M12 16h2M13 13h2M7 12h2M12 11h2M15 16h2M18 14h2M15 10h2M17 13h2M14 12h2M13 7h2M15 5h2M14 7h2M13 17h2M17 14h2M13 7h2M18 15h2M12 10h2M13 10h2M18 15h2M13 18h2M12 14h2M19 5h2M15 10h2M15 14h2M15 8h2M24 17h2M16 13h2M19 10h2M19 8h2M19 15h2M15 11h2M16 9h2M11 12h2M16 8h2M13 12h2M15 10h2M15 12h2M20 15h2" stroke="#2a55ee" stroke-opacity="0.86"/>
<path d="M12 53h2M11 31h2M9 38h2M21 45h2M4 36h2M9 29h2M18 49h2M10 43h2M15 44h2M19 46h2M11 42h2M5 32h2M15 38h2M8 30h2M9 41h2M9 42h2M11 44h2M10 22h2M17 38h2M13 48h2M20 42h2M16 49h2M18 28h2M8 28h2M7 28h2M11 35h2M23 50h2M17 48h2M19 27h2M13 37h2M18 42h2M16 44h2M13 58h2M16 24h2M20 26h2M9 53h2M14 33h2M18 33h2M11 31h2M13 33h2M9 54h2M17 30h2M11 38h2M10 41h2M12 50h2M9 40h2M12 35h2M20 44h2M9 32h2M11 38h2M10 32h2M15 45h2M17 40h2M9 48h2M14 37h2M14 42h2M8 42h2M17 41h2M13 46h2M11 42h2M15 47h2M11 50h2M9 51h2M11 50h2M21 58h2M14 36h2M15 26h2M19 23h2M15 23h2M9 43h2M7 35h2M3 55h2M8 41h2M14 28h2M9 45h2M13 33h2M13 31h2M15 43h2M8 50h2M13 39h2M18 33h2M17 45h2M17 62h2M11 43h2M17 43h2M16 50h2M6 37h2M9 44h2M8 42h2M15 43h2M19 48h2M13 36h2M15 63h2M13 39h2M4 49h2M12 31h2M16 27h2M21 35h2M18 46h2M12 21h2M15 23h2M14 51h2M15 63h2M17 39h2M11 46h2M14 42h2M22 54h2M12 32h2M15 39h2M14 38h2M13 42h2M7 45h2M17 29h2M18 42h2M19 34h2M22 60h2M24 41h2" stroke="#2a55ee" stroke-opacity="0.35"/>
<path d="M16 30h2M16 27h2M20 26h2M14 27h2M17 34h2M14 29h2M18 29h2M20 30h2M21 36h2M15 30h2M17 30h2M15 33h2M23 29h2M13 32h2M15 34h2M15 30h2M20 30h2M19 27h2M17 32h2" stroke="#2a55ee" stroke-opacity="0.35"/>
<path d="M15 54h2M21 55h2M13 47h2M16 59h2M11 51h2M22 51h2M18 50h2M14 48h2M21 52h2M13 47h2M13 59h2M17 52h2M13 54h2M18 60h2M24 53h2M15 49h2M14 49h2M20 53h2M19 49h2M18 54h2M13 51h2M16 58h2M16 52h2M15 55h2M17 54h2M17 54h2M21 49h2M19 49h2M19 45h2M16 51h2M16 51h2M18 53h2" stroke="#6a3ab8" stroke-opacity="0.44"/>
<path d="M39 13h2M40 13h2M42 10h2M42 11h2M34 11h2M38 8h2M36 8h2M27 11h2M36 10h2M39 11h2M35 11h2M37 11h2M43 11h2M39 10h2M40 7h2M35 9h2M42 8h2M35 10h2M28 10h2M28 11h2M35 9h2M30 7h2M33 12h2M28 10h2M38 10h2M43 10h2M41 10h2M39 8h2M37 8h2M41 13h2M34 8h2M38 11h2M31 8h2M40 9h2M40 11h2M37 13h2M32 8h2M34 9h2M37 8h2" stroke="#ec1a34" stroke-opacity="0.86"/>
<path d="M58 31h2M53 33h2M57 34h2M53 34h2M53 41h2M55 46h2M49 45h2M54 25h2M54 43h2M52 22h2M57 19h2M55 27h2M50 36h2M52 25h2M58 39h2M54 40h2M57 35h2M56 39h2M54 34h2M56 35h2M51 28h2M57 32h2M52 34h2M52 23h2M53 49h2M51 34h2M51 34h2M52 33h2M54 35h2M57 41h2M58 15h2M54 47h2M58 28h2M52 45h2M56 28h2M54 30h2M56 54h2M53 31h2M56 35h2M52 34h2M54 32h2M57 37h2M53 36h2M55 38h2M54 55h2M57 30h2M55 43h2M54 33h2M55 27h2M54 38h2M53 30h2M54 23h2M51 27h2M55 36h2M56 31h2M52 36h2M54 40h2M56 31h2M53 35h2M53 36h2M51 35h2M57 44h2M53 31h2M52 39h2M48 36h2M54 27h2M53 23h2M61 29h2" stroke="#ec1a34" stroke-opacity="0.4"/>
<path d="M36 26h2M44 33h2M47 41h2M35 36h2M48 39h2M49 25h2M37 34h2M38 45h2M42 21h2M32 46h2M40 31h2M36 44h2M40 40h2M33 44h2M42 52h2M42 27h2M35 47h2M36 44h2M39 40h2M42 29h2M39 39h2M45 23h2M37 34h2M44 42h2M45 25h2M36 43h2M31 35h2M45 45h2M51 45h2M34 34h2M32 28h2M43 56h2M36 30h2M29 30h2M39 36h2M44 34h2M44 42h2M40 33h2M41 49h2M45 21h2M45 27h2M45 48h2M45 45h2M39 26h2M35 47h2M35 29h2M32 31h2M36 50h2M45 46h2M47 26h2M38 32h2M38 39h2M34 42h2M39 36h2M41 41h2M40 48h2M35 20h2M41 26h2M35 48h2M35 38h2M42 22h2M52 36h2M38 22h2M39 35h2M42 16h2M41 26h2M45 42h2M30 54h2M45 35h2M38 33h2M44 54h2M49 31h2M28 32h2M41 29h2M33 28h2M38 41h2M39 42h2M30 43h2M37 40h2M37 20h2M32 40h2M31 48h2M40 41h2M38 44h2M36 34h2M29 26h2M34 30h2M42 43h2M43 27h2M40 36h2M41 35h2M37 34h2" stroke="#ec1a34" stroke-opacity="0.14"/>
</g></svg>
<path d="M0 0H32.45V32.35" stroke="#666" stroke-width="1" fill="none"/>
<path d="M0 0V32.35H32.45M-0.9 25.32H0.6M7.05 31.75V33.25M-0.9 18.28H0.6M14.11 31.75V33.25M-0.9 11.25H0.6M21.16 31.75V33.25M-0.9 4.22H0.6M28.22 31.75V33.25" stroke="#111" stroke-width="1" fill="none"/>
</g>
<g transform="translate(252.4 152.45)">
<svg x="0" y="0" width="32" height="32.35" viewBox="0 0 32.6 32.8" preserveAspectRatio="none" overflow="hidden"><g filter="url(#bl)">
<ellipse cx="7" cy="8.2" rx="4.8" ry="1.4" fill="#2a55ee" fill-opacity="0.72"/>
<ellipse cx="16.5" cy="8" rx="5" ry="1.5" fill="#ec1a34" fill-opacity="0.56"/>
<ellipse cx="7.5" cy="16.5" rx="3" ry="2.8" fill="#2a55ee" fill-opacity="0.56"/>
<ellipse cx="7.5" cy="26.5" rx="3.8" ry="4" fill="#2a55ee" fill-opacity="0.72"/>
<ellipse cx="3" cy="20" rx="2" ry="8" fill="#6a3ab8" fill-opacity="0.2"/>
<ellipse cx="17.5" cy="25.5" rx="5.5" ry="4.5" fill="#ec1a34" fill-opacity="0.36"/>
<ellipse cx="18" cy="16" rx="6" ry="6" fill="#ec1a34" fill-opacity="0.12"/>
</g>
<g transform="scale(.5)" stroke-width="1.9" fill="none" filter="url(#db)">
<path d="M16 16h2M8 18h2M16 17h2M15 19h2M19 18h2M13 16h2M9 16h2M15 17h2M19 16h2M15 18h2M6 19h2M15 17h2M9 16h2M23 16h2M12 17h2M22 17h2M19 15h2M16 19h2M14 15h2M12 16h2M18 17h2M12 18h2M8 14h2M27 15h2M22 16h2M13 17h2M10 15h2M13 16h2M18 19h2M8 15h2M18 17h2M20 15h2M17 16h2M6 17h2M6 17h2" stroke="#2a55ee" stroke-opacity="0.86"/>
<path d="M31 16h2M35 17h2M29 18h2M36 15h2M24 16h2M32 17h2M28 15h2M35 16h2M38 18h2M28 12h2M33 15h2M33 16h2M30 17h2M34 16h2M40 18h2M40 17h2M34 17h2M35 15h2M35 18h2M31 14h2M36 15h2M25 16h2M25 17h2M30 16h2M39 18h2M33 12h2M31 14h2M38 19h2M37 17h2M36 17h2M31 17h2M31 14h2" stroke="#ec1a34" stroke-opacity="0.69"/>
<path d="M15 38h2M14 28h2M19 34h2M17 32h2M17 38h2M13 35h2M16 30h2M16 35h2M12 37h2M12 37h2M17 34h2M13 31h2M8 33h2M15 35h2M18 34h2M14 36h2M15 33h2M11 36h2M13 39h2M12 32h2M15 31h2M10 30h2M12 32h2M18 35h2M16 36h2M8 31h2M13 30h2M17 31h2M12 36h2M13 32h2M10 36h2M15 37h2M22 35h2M14 31h2M20 32h2M17 34h2" stroke="#2a55ee" stroke-opacity="0.69"/>
<path d="M16 54h2M15 54h2M11 56h2M13 54h2M22 54h2M11 55h2M9 54h2M21 49h2M15 49h2M16 55h2M16 52h2M7 49h2M13 57h2M7 58h2M12 46h2M21 55h2M11 54h2M18 47h2M20 50h2M18 51h2M9 51h2M13 54h2M8 49h2M16 51h2M13 55h2M10 62h2M12 55h2M14 57h2M13 50h2M16 56h2M14 62h2M18 59h2M20 57h2M14 60h2M14 54h2M21 57h2M11 52h2M12 58h2M14 53h2M12 51h2M18 49h2M15 51h2M14 48h2M20 46h2M10 51h2M15 50h2M9 51h2M11 50h2M21 44h2M15 55h2M13 52h2M19 52h2M8 51h2M16 51h2M13 54h2M13 54h2M18 50h2M9 58h2M17 50h2M9 53h2M16 55h2M16 51h2M13 47h2M12 51h2M19 48h2M22 57h2M13 50h2M16 55h2M18 46h2M14 55h2M19 55h2M15 54h2M13 60h2M19 55h2M13 53h2M16 53h2M21 62h2M19 48h2M18 51h2M15 61h2" stroke="#2a55ee" stroke-opacity="0.86"/>
<path d="M2 29h2M5 46h2M5 24h2M7 45h2M9 41h2M8 35h2M8 50h2M5 37h2M9 34h2M4 40h2M7 48h2M5 44h2M4 31h2M11 34h2M3 43h2M4 46h2M1 31h2M8 42h2M4 52h2M8 37h2M8 45h2M3 34h2M6 31h2M3 36h2M7 41h2M4 20h2M8 38h2M8 39h2M5 41h2M4 35h2M4 22h2M8 48h2M5 36h2M11 44h2M5 29h2M9 50h2M4 45h2M4 37h2" stroke="#6a3ab8" stroke-opacity="0.31"/>
<path d="M41 50h2M31 44h2M38 50h2M28 60h2M31 48h2M37 49h2M35 53h2M32 46h2M33 56h2M35 58h2M35 47h2M36 50h2M32 50h2M40 55h2M37 52h2M39 54h2M37 48h2M42 56h2M38 52h2M24 49h2M36 56h2M33 48h2M25 50h2M38 45h2M32 49h2M35 53h2M41 48h2M26 45h2M33 47h2M33 50h2M35 55h2M37 45h2M31 48h2M32 55h2M40 52h2M44 47h2M35 56h2M35 48h2M30 56h2M40 60h2M46 52h2M32 47h2M32 60h2M34 48h2M34 53h2M31 48h2M31 57h2M35 53h2M38 42h2M37 46h2M33 42h2M40 52h2M29 57h2M30 58h2M34 62h2M28 53h2M28 45h2M32 50h2M28 53h2M44 55h2M31 60h2M26 59h2M34 47h2M35 51h2M41 54h2M33 55h2M33 46h2M28 46h2M36 49h2M39 44h2M35 53h2M36 53h2M31 51h2M42 62h2M31 50h2M40 49h2M42 50h2M35 54h2M45 52h2M31 57h2M38 47h2" stroke="#ec1a34" stroke-opacity="0.48"/>
<path d="M26 31h2M32 28h2M38 37h2M44 33h2M29 24h2M27 36h2M25 28h2M27 29h2M33 30h2M46 37h2M33 25h2M39 30h2M35 25h2M38 34h2M40 33h2M37 25h2M43 34h2M46 30h2M34 39h2M33 35h2M35 31h2M22 34h2M36 23h2M43 19h2M34 46h2M42 28h2M41 38h2M36 42h2M36 24h2M33 45h2M36 44h2M42 27h2M41 34h2M40 34h2M31 38h2M37 30h2M36 29h2M36 31h2M27 43h2M37 31h2M26 41h2M39 38h2M36 37h2M33 32h2M45 45h2M37 24h2M38 34h2M30 26h2M51 33h2M33 35h2M27 22h2M32 38h2M42 34h2M47 23h2M29 42h2M41 32h2M39 28h2M49 29h2M42 31h2M32 23h2M34 31h2M31 23h2M28 22h2M44 30h2M32 38h2M38 36h2M42 31h2M24 35h2M37 30h2M30 36h2M37 42h2" stroke="#ec1a34" stroke-opacity="0.23"/>
</g></svg>
<path d="M0 0H32V32.35" stroke="#666" stroke-width="1" fill="none"/>
<path d="M0 0V32.35H32M-0.9 25.32H0.6M6.96 31.75V33.25M-0.9 18.28H0.6M13.91 31.75V33.25M-0.9 11.25H0.6M20.87 31.75V33.25M-0.9 4.22H0.6M27.83 31.75V33.25" stroke="#111" stroke-width="1" fill="none"/>
</g>
<g transform="translate(290.2 152.45)">
<svg x="0" y="0" width="33.4" height="32.35" viewBox="0 0 32.6 32.8" preserveAspectRatio="none" overflow="hidden"><g filter="url(#bl)">
<ellipse cx="6.5" cy="7" rx="5.5" ry="4.3" fill="#2a55ee" fill-opacity="0.78"/>
<ellipse cx="16" cy="6.8" rx="5.5" ry="3.3" fill="#ec1a34" fill-opacity="0.72"/>
<ellipse cx="22" cy="8" rx="3" ry="3" fill="#ec1a34" fill-opacity="0.2"/>
<ellipse cx="6" cy="21.5" rx="4.5" ry="8.5" fill="#6a3ab8" fill-opacity="0.28"/>
<ellipse cx="7" cy="18" rx="3" ry="5" fill="#2a55ee" fill-opacity="0.16"/>
<ellipse cx="16" cy="21" rx="6" ry="9" fill="#ec1a34" fill-opacity="0.06"/>
</g>
<g transform="scale(.5)" stroke-width="1.9" fill="none" filter="url(#db)">
<path d="M16 15h2M9 23h2M4 14h2M18 17h2M17 10h2M24 11h2M13 14h2M13 12h2M22 14h2M19 7h2M17 13h2M15 15h2M16 14h2M14 15h2M14 14h2M11 16h2M8 23h2M18 21h2M12 8h2M5 11h2M10 12h2M11 17h2M11 15h2M3 15h2M5 16h2M15 15h2M12 13h2M11 18h2M14 15h2M27 14h2M8 4h2M18 9h2M7 13h2M14 18h2M12 11h2M17 10h2M5 9h2M11 12h2M13 14h2M26 16h2M1 8h2M14 10h2M25 12h2M11 14h2M12 16h2M11 15h2M9 2h2M15 21h2M8 12h2M17 12h2M14 13h2M16 13h2M24 14h2M12 8h2M14 10h2M17 16h2M28 11h2M14 19h2M2 17h2M23 14h2M13 19h2M15 15h2M18 11h2M24 12h2M13 12h2M11 14h2M17 14h2M9 20h2M9 14h2M21 13h2M12 15h2M4 14h2M14 16h2M11 4h2M9 17h2M9 10h2M16 16h2M14 17h2M18 16h2M15 22h2M7 24h2M15 11h2M17 19h2M6 15h2M18 18h2M13 9h2M13 24h2M13 14h2M10 15h2M14 10h2M25 19h2M15 8h2M11 13h2M18 14h2M7 13h2M12 14h2M18 11h2M4 19h2M19 9h2M17 12h2M17 16h2M5 9h2M12 8h2M6 10h2M12 14h2M9 13h2M20 17h2M15 11h2M9 9h2M8 6h2M12 12h2M9 11h2M6 17h2M17 19h2M15 13h2M18 9h2M5 18h2M16 15h2M21 14h2M14 16h2M6 16h2M17 14h2M9 11h2M1 10h2M21 20h2M12 11h2M20 19h2M16 11h2M18 18h2M11 10h2M11 15h2" stroke="#2a55ee" stroke-opacity="0.9"/>
<path d="M34 15h2M32 12h2M34 17h2M33 16h2M32 11h2M30 13h2M24 13h2M29 14h2M36 14h2M30 14h2M26 15h2M39 16h2M40 12h2M22 16h2M45 11h2M41 12h2M41 12h2M31 15h2M23 14h2M31 17h2M33 14h2M31 20h2M35 14h2M20 19h2M32 15h2M37 15h2M40 14h2M35 14h2M36 15h2M35 15h2M33 16h2M28 11h2M32 14h2M39 9h2M40 12h2M28 15h2M34 17h2M21 17h2M35 18h2M31 9h2M31 13h2M36 17h2M21 8h2M33 11h2M38 18h2M44 14h2M38 16h2M33 12h2M38 16h2M32 13h2M22 15h2M33 10h2M40 14h2M26 13h2M26 11h2M25 14h2M23 11h2M32 13h2M33 11h2M29 15h2M30 17h2M30 14h2M30 17h2M27 16h2M38 15h2M39 11h2M23 11h2M30 15h2M29 12h2M31 19h2M29 13h2M34 19h2M25 8h2M32 11h2M29 7h2M41 9h2M35 16h2M37 19h2M30 10h2M34 17h2M31 13h2M39 10h2M43 9h2M27 13h2M27 16h2M29 12h2M30 17h2M32 13h2M38 11h2M25 14h2M35 10h2M31 15h2M31 15h2M32 18h2M24 19h2" stroke="#ec1a34" stroke-opacity="0.86"/>
<path d="M38 17h2M46 24h2M48 11h2M45 13h2M47 21h2M47 15h2M44 12h2M45 9h2M43 15h2M41 17h2M45 21h2M43 17h2M41 20h2M42 14h2M40 18h2M45 15h2M45 19h2M44 18h2M43 18h2M47 17h2M40 18h2" stroke="#ec1a34" stroke-opacity="0.31"/>
<path d="M22 35h2M8 44h2M8 37h2M3 32h2M15 30h2M19 43h2M12 30h2M17 41h2M7 50h2M15 57h2M8 42h2M9 31h2M9 38h2M11 43h2M11 44h2M11 41h2M13 58h2M11 37h2M23 47h2M11 44h2M4 41h2M9 39h2M8 42h2M20 38h2M14 54h2M13 38h2M16 52h2M9 36h2M6 40h2M11 39h2M11 47h2M14 62h2M6 32h2M9 46h2M19 50h2M17 32h2M13 57h2M15 38h2M14 55h2M13 32h2M17 38h2M14 50h2M10 52h2M6 54h2M6 32h2M11 41h2M13 47h2M11 35h2M16 27h2M16 33h2M12 46h2M4 44h2M13 41h2M16 46h2M9 38h2M9 30h2M17 26h2M17 61h2M18 48h2M12 39h2M11 56h2M10 45h2M18 47h2M14 47h2M12 53h2M16 47h2M11 49h2M12 34h2M14 24h2M15 41h2M11 39h2M18 46h2M9 42h2M10 56h2M10 40h2M13 42h2M7 50h2M12 48h2M2 40h2M13 46h2M8 64h2M18 46h2M5 26h2M17 54h2M3 51h2M18 38h2M10 40h2M8 60h2M10 38h2M15 58h2M14 31h2M13 38h2M3 44h2M11 35h2M5 54h2M11 38h2M10 48h2M9 51h2M13 43h2M12 34h2M17 44h2M9 37h2M15 60h2M14 34h2M9 32h2M8 40h2M10 47h2M11 46h2M13 36h2" stroke="#6a3ab8" stroke-opacity="0.4"/>
<path d="M16 36h2M16 30h2M14 38h2M11 40h2M13 34h2M15 27h2M6 33h2M14 40h2M16 46h2M15 33h2M14 31h2M15 32h2M11 31h2M9 30h2M12 34h2M12 39h2M11 35h2M11 36h2M15 31h2M11 37h2M11 36h2M13 36h2M12 36h2M13 38h2M16 38h2M14 36h2M16 34h2M13 40h2M20 33h2M19 34h2M14 34h2M13 47h2" stroke="#2a55ee" stroke-opacity="0.27"/>
<path d="M29 44h2M27 48h2M28 30h2M28 42h2M24 35h2M30 43h2M27 49h2M26 55h2M31 33h2M30 26h2M47 43h2M32 26h2M43 42h2M33 49h2M37 35h2M41 39h2M38 34h2M40 39h2M28 47h2M28 40h2M46 41h2M41 33h2M37 32h2M35 42h2M34 52h2M33 44h2M27 29h2M41 37h2M36 38h2M32 52h2M34 42h2M28 53h2M37 36h2M29 39h2M41 36h2M31 43h2M32 33h2M33 36h2M38 33h2M26 41h2M31 50h2M28 52h2M35 45h2M33 37h2M46 42h2M32 57h2M26 63h2M35 47h2M30 37h2M28 49h2M35 30h2M27 43h2M47 53h2M30 46h2M29 44h2M29 46h2M27 34h2M46 37h2M29 53h2M36 34h2M32 36h2M33 42h2M29 52h2M32 49h2M31 36h2M30 50h2M46 46h2M31 40h2M36 44h2M35 47h2M32 24h2M32 40h2M30 28h2M29 39h2M30 39h2M21 40h2M31 25h2M36 38h2M33 50h2M31 35h2M38 51h2M32 40h2M27 39h2M26 52h2M34 34h2M34 48h2M35 41h2M26 39h2M33 33h2M38 50h2" stroke="#ec1a34" stroke-opacity="0.17"/>
</g></svg>
<path d="M0 0H33.4V32.35" stroke="#666" stroke-width="1" fill="none"/>
<path d="M0 0V32.35H33.4M-0.9 25.32H0.6M7.26 31.75V33.25M-0.9 18.28H0.6M14.52 31.75V33.25M-0.9 11.25H0.6M21.78 31.75V33.25M-0.9 4.22H0.6M29.04 31.75V33.25" stroke="#111" stroke-width="1" fill="none"/>
</g>
<g transform="translate(216.35 189.2)">
<svg x="0" y="0" width="32.45" height="32.45" viewBox="0 0 32.6 32.8" preserveAspectRatio="none" overflow="hidden"><g filter="url(#bl)">
<ellipse cx="9.5" cy="9" rx="2.3" ry="7" fill="#2a55ee" fill-opacity="0.72"/>
<ellipse cx="9" cy="21" rx="2.3" ry="6" fill="#2a55ee" fill-opacity="0.48"/>
<ellipse cx="3.8" cy="18" rx="3" ry="12" fill="#6a3ab8" fill-opacity="0.14"/>
<ellipse cx="4" cy="18" rx="3" ry="11" fill="#2a55ee" fill-opacity="0.08"/>
<ellipse cx="15.8" cy="4.5" rx="4" ry="2" fill="#ec1a34" fill-opacity="0.72"/>
<ellipse cx="17" cy="18" rx="6" ry="11" fill="#ec1a34" fill-opacity="0.12"/>
</g>
<g transform="scale(.5)" stroke-width="1.9" fill="none" filter="url(#db)">
<path d="M14 22h2M21 19h2M22 16h2M20 23h2M21 13h2M24 21h2M21 25h2M17 13h2M20 17h2M18 16h2M20 17h2M15 17h2M20 16h2M22 9h2M17 29h2M19 22h2M20 23h2M20 11h2M24 17h2M20 25h2M22 22h2M17 12h2M22 23h2M22 27h2M18 19h2M24 16h2M16 32h2M18 26h2M15 13h2M20 19h2M20 24h2M20 7h2M22 25h2M19 19h2M14 20h2M21 14h2M19 14h2M22 33h2M18 14h2M17 28h2M20 20h2M20 13h2M17 22h2M17 19h2M19 31h2M19 1h2M20 19h2M20 13h2M20 12h2M16 24h2M16 22h2M23 21h2M18 14h2M16 20h2M19 17h2M22 14h2M21 20h2M19 15h2M16 13h2M19 17h2M25 20h2M20 22h2M19 17h2M19 6h2M17 26h2M16 19h2M19 20h2M23 27h2M21 18h2M19 13h2M17 14h2M14 12h2M23 6h2M20 11h2M20 31h2M18 15h2M18 19h2M20 2h2M22 19h2M23 9h2M19 14h2M17 16h2M17 15h2M20 27h2" stroke="#2a55ee" stroke-opacity="0.86"/>
<path d="M19 44h2M15 35h2M19 44h2M17 43h2M20 40h2M21 43h2M16 40h2M17 41h2M20 49h2M20 43h2M18 52h2M15 41h2M17 49h2M15 43h2M16 38h2M18 36h2M18 44h2M18 42h2M21 47h2M17 38h2M19 38h2M15 47h2M19 48h2M17 51h2M19 48h2M17 33h2M20 40h2M17 40h2M16 51h2M20 40h2M21 48h2M20 44h2M21 45h2M18 39h2M18 37h2M15 45h2M15 42h2M17 48h2M19 39h2M16 43h2M17 45h2M19 36h2M22 45h2M17 43h2M17 40h2M15 39h2M16 45h2M17 44h2M17 37h2M19 53h2M19 39h2M17 39h2M18 48h2M18 42h2" stroke="#2a55ee" stroke-opacity="0.61"/>
<path d="M9 26h2M7 42h2M11 21h2M13 52h2M8 40h2M4 47h2M10 38h2M8 49h2M8 55h2M9 16h2M11 41h2M10 25h2M2 32h2M7 29h2M11 56h2M6 50h2M6 26h2M2 29h2M5 31h2M8 54h2M9 58h2M8 13h2M2 23h2M11 25h2M10 39h2M8 51h2M2 36h2M5 32h2M9 54h2M4 36h2M6 36h2M9 41h2M11 32h2M7 49h2M7 42h2M11 36h2M12 28h2M11 42h2M4 46h2M9 26h2M2 43h2M5 28h2M16 36h2M3 40h2M8 30h2M11 46h2M10 26h2M9 44h2M9 41h2M5 43h2M3 47h2M4 39h2M8 41h2M6 51h2M4 42h2M8 30h2M6 12h2M8 50h2M5 44h2M7 20h2M8 43h2M6 28h2M6 27h2M5 28h2M5 34h2M6 30h2M6 25h2M9 50h2M4 51h2M2 37h2M6 60h2M8 25h2M5 49h2M7 30h2M6 41h2" stroke="#6a3ab8" stroke-opacity="0.25"/>
<path d="M10 21h2M6 29h2M5 52h2M10 37h2M3 49h2M12 51h2M12 42h2M12 50h2M12 42h2M13 48h2M14 42h2M10 16h2M6 30h2M7 34h2M9 26h2M2 30h2M10 23h2M9 38h2M10 43h2M9 40h2M4 49h2M5 30h2M12 44h2M3 31h2M7 28h2M9 24h2M4 41h2M8 52h2M8 37h2M11 43h2M7 23h2M6 32h2M14 43h2M5 41h2M10 40h2M12 30h2M16 40h2M9 35h2M7 29h2M1 33h2M6 26h2M7 35h2M10 35h2M5 21h2M11 51h2M7 34h2M11 33h2M9 39h2M6 45h2M4 18h2M9 51h2M6 44h2M12 49h2M10 24h2M8 21h2M4 34h2M10 42h2M13 34h2" stroke="#2a55ee" stroke-opacity="0.18"/>
<path d="M23 12h2M26 7h2M29 6h2M31 9h2M28 7h2M30 5h2M26 9h2M39 12h2M28 9h2M39 9h2M33 6h2M33 6h2M30 9h2M38 10h2M33 9h2M27 10h2M24 9h2M26 8h2M41 11h2M30 6h2M34 7h2M30 11h2M31 9h2M34 6h2M31 11h2M34 7h2M34 5h2M28 12h2M37 5h2M34 10h2M31 9h2M35 11h2M25 12h2M34 10h2M24 8h2M34 12h2M31 9h2M34 12h2M30 14h2M34 4h2M34 12h2M32 7h2" stroke="#ec1a34" stroke-opacity="0.86"/>
<path d="M44 31h2M38 31h2M33 30h2M36 51h2M39 25h2M26 34h2M34 23h2M27 44h2M32 18h2M40 42h2M29 50h2M35 41h2M30 25h2M30 34h2M35 49h2M40 36h2M42 32h2M27 29h2M32 33h2M24 30h2M34 26h2M33 21h2M24 19h2M32 18h2M24 40h2M24 40h2M41 38h2M35 33h2M30 33h2M40 41h2M42 44h2M43 35h2M31 35h2M33 52h2M28 54h2M32 29h2M36 33h2M34 57h2M33 31h2M37 37h2M37 23h2M40 16h2M32 44h2M27 41h2M37 37h2M40 44h2M35 33h2M33 21h2M36 36h2M40 45h2M36 36h2M35 34h2M30 39h2M36 46h2M29 40h2M33 22h2M30 31h2M40 37h2M38 40h2M22 37h2M36 42h2M44 38h2M34 24h2M38 35h2M26 36h2M30 48h2M36 28h2M41 36h2M39 31h2M41 43h2M42 24h2M37 41h2M31 40h2M32 31h2M47 23h2M34 45h2M37 27h2M32 26h2M36 23h2M38 22h2M33 54h2M24 39h2M35 39h2M29 8h2M27 29h2M38 44h2M31 27h2M32 20h2M31 43h2M27 46h2M32 24h2M31 42h2M38 49h2M34 23h2M33 25h2M18 31h2M34 41h2M39 40h2M33 42h2M32 47h2M23 16h2M32 56h2M37 49h2M36 36h2M33 37h2M18 36h2M24 32h2M38 45h2M32 37h2M37 36h2M31 39h2M27 48h2M46 27h2M42 18h2M28 43h2M33 33h2M34 28h2M33 40h2M31 28h2M22 34h2M30 29h2M29 36h2M43 41h2M43 44h2M39 31h2M40 31h2M37 26h2M26 29h2M32 63h2M29 30h2" stroke="#ec1a34" stroke-opacity="0.23"/>
</g></svg>
<path d="M0 0H32.45V32.45" stroke="#666" stroke-width="1" fill="none"/>
<path d="M0 0V32.45H32.45M-0.9 25.4H0.6M7.05 31.85V33.35M-0.9 18.34H0.6M14.11 31.85V33.35M-0.9 11.29H0.6M21.16 31.85V33.35M-0.9 4.23H0.6M28.22 31.85V33.35" stroke="#111" stroke-width="1" fill="none"/>
</g>
<g transform="translate(252.4 189.2)">
<svg x="0" y="0" width="32" height="32.45" viewBox="0 0 32.6 32.8" preserveAspectRatio="none" overflow="hidden"><g filter="url(#bl)">
<ellipse cx="6.5" cy="8" rx="4.5" ry="4" fill="#6a3ab8" fill-opacity="0.36"/>
<ellipse cx="6.5" cy="8" rx="4.5" ry="4" fill="#2a55ee" fill-opacity="0.24"/>
<ellipse cx="7" cy="20" rx="4.5" ry="7" fill="#2a55ee" fill-opacity="0.72"/>
<ellipse cx="4" cy="24" rx="3" ry="6" fill="#6a3ab8" fill-opacity="0.32"/>
<ellipse cx="16" cy="7" rx="5" ry="2.5" fill="#ec1a34" fill-opacity="0.72"/>
<ellipse cx="16" cy="15" rx="4.5" ry="5" fill="#ec1a34" fill-opacity="0.4"/>
<ellipse cx="16" cy="23" rx="4.5" ry="4" fill="#ec1a34" fill-opacity="0.6"/>
</g>
<g transform="scale(.5)" stroke-width="1.9" fill="none" filter="url(#db)">
<path d="M11 18h2M18 24h2M7 13h2M9 15h2M12 11h2M14 10h2M16 12h2M14 18h2M13 14h2M9 11h2M20 19h2M22 18h2M15 14h2M12 10h2M18 20h2M20 22h2M8 6h2M17 17h2M9 12h2M17 24h2M15 13h2M17 21h2M7 19h2M8 16h2M15 16h2M6 18h2M6 19h2M4 14h2M11 13h2M14 17h2M22 18h2M18 11h2M18 20h2M20 22h2M9 10h2M9 13h2M20 8h2M13 20h2M12 10h2M9 18h2M17 15h2M15 22h2M11 24h2M8 24h2M6 22h2M13 10h2M14 18h2M16 16h2M12 15h2M13 21h2M15 19h2M14 22h2M7 12h2M8 14h2M22 14h2M13 15h2M4 11h2M10 12h2M11 14h2" stroke="#6a3ab8" stroke-opacity="0.48"/>
<path d="M12 9h2M18 18h2M10 14h2M9 8h2M16 14h2M18 22h2M7 11h2M15 14h2M10 14h2M15 10h2M13 21h2M10 14h2M15 20h2M18 18h2M21 13h2M21 19h2M12 10h2M20 17h2M16 23h2M11 19h2M17 23h2M15 24h2M10 16h2M10 12h2M21 17h2M13 17h2M14 10h2M11 18h2M7 15h2M11 12h2M6 13h2M14 18h2M5 17h2M16 9h2M6 18h2M17 18h2M21 19h2M20 16h2M13 12h2M14 14h2M10 19h2M15 14h2M14 17h2M15 13h2M16 14h2M15 14h2M23 10h2" stroke="#2a55ee" stroke-opacity="0.35"/>
<path d="M19 33h2M22 31h2M18 39h2M19 30h2M12 44h2M18 35h2M5 37h2M11 41h2M12 32h2M13 51h2M17 37h2M17 29h2M11 39h2M12 35h2M14 54h2M14 43h2M12 47h2M7 37h2M20 41h2M15 56h2M5 49h2M8 43h2M17 41h2M13 46h2M16 46h2M19 45h2M23 37h2M13 30h2M12 41h2M22 31h2M16 30h2M18 24h2M22 38h2M25 42h2M10 37h2M11 42h2M20 42h2M13 38h2M23 33h2M18 33h2M10 45h2M6 53h2M22 33h2M9 39h2M13 35h2M14 46h2M12 40h2M11 39h2M15 37h2M15 35h2M16 28h2M17 39h2M17 40h2M14 41h2M12 40h2M4 34h2M15 30h2M7 53h2M16 45h2M21 36h2M16 47h2M11 39h2M14 43h2M9 40h2M11 46h2M11 46h2M14 36h2M18 44h2M13 48h2M21 27h2M18 26h2M15 46h2M17 44h2M14 45h2M9 54h2M4 39h2M7 38h2M11 32h2M19 36h2M11 40h2M18 44h2M12 42h2M15 40h2M11 42h2M7 47h2M18 38h2M12 26h2M13 47h2M6 45h2M11 54h2M17 50h2M13 39h2M10 52h2M13 41h2M8 42h2M9 41h2M20 36h2M9 43h2M14 35h2M6 41h2M16 42h2M20 43h2M16 30h2M13 39h2M11 46h2M12 45h2M12 44h2M19 44h2M19 41h2M7 47h2M13 33h2M21 40h2M13 30h2M19 40h2M10 45h2M19 46h2M19 48h2M9 33h2M17 50h2M14 36h2M14 36h2M15 40h2M19 41h2M24 48h2M17 38h2M17 35h2M15 37h2M19 37h2M14 48h2M15 40h2M8 41h2M19 40h2M12 45h2M24 42h2M13 35h2M14 29h2M11 34h2M21 28h2M14 36h2M8 43h2M19 38h2M12 40h2M17 42h2M13 36h2M14 30h2M13 48h2M15 38h2M9 32h2M18 39h2M9 30h2M11 51h2M14 23h2M12 42h2M7 39h2M20 34h2M6 36h2M18 32h2M14 41h2M13 39h2M14 51h2M14 34h2M6 31h2M13 34h2M21 40h2M15 53h2M16 26h2" stroke="#2a55ee" stroke-opacity="0.86"/>
<path d="M11 39h2M4 54h2M9 37h2M2 42h2M3 47h2M6 45h2M2 49h2M7 61h2M7 38h2M3 46h2M6 43h2M12 48h2M7 41h2M5 52h2M11 53h2M9 49h2M15 55h2M12 43h2M10 46h2M6 42h2M11 53h2M10 51h2M9 52h2M11 44h2M6 47h2M9 50h2M7 40h2M8 40h2M8 54h2M3 58h2M6 37h2M4 35h2M8 48h2M9 49h2M10 45h2M4 50h2M8 53h2M9 45h2M10 42h2M7 42h2M6 40h2M6 50h2M4 52h2M10 48h2M5 55h2M6 48h2M11 43h2M10 44h2M12 46h2M7 51h2M9 44h2M10 38h2M11 55h2M8 45h2M8 33h2" stroke="#6a3ab8" stroke-opacity="0.44"/>
<path d="M29 17h2M29 15h2M36 17h2M35 14h2M38 14h2M31 19h2M32 15h2M30 16h2M27 15h2M29 20h2M36 14h2M33 12h2M33 16h2M26 11h2M33 12h2M35 13h2M35 9h2M36 16h2M33 17h2M34 10h2M32 13h2M29 19h2M31 10h2M33 15h2M25 14h2M39 18h2M22 11h2M36 13h2M30 19h2M25 14h2M29 7h2M26 14h2M33 13h2M29 15h2M25 11h2M29 15h2M40 18h2M22 11h2M32 16h2M35 17h2M23 12h2M28 13h2M39 17h2M36 13h2M30 17h2M26 17h2M26 14h2M29 15h2M43 11h2M33 16h2M31 12h2M26 15h2M31 16h2M30 8h2M41 16h2M38 16h2M38 15h2M33 19h2M38 14h2M38 13h2M25 15h2M34 10h2M29 15h2M33 11h2M36 13h2" stroke="#ec1a34" stroke-opacity="0.86"/>
<path d="M30 35h2M40 29h2M30 37h2M33 28h2M32 24h2M38 24h2M31 32h2M28 33h2M34 37h2M35 26h2M36 34h2M31 31h2M36 33h2M34 31h2M37 28h2M33 31h2M31 34h2M35 29h2M37 27h2M34 24h2M43 27h2M29 27h2M31 33h2M33 37h2M27 33h2M39 28h2M39 27h2M32 31h2M31 27h2M31 28h2M27 27h2M24 32h2M31 27h2M27 30h2M30 32h2M33 37h2M36 32h2M27 30h2M29 22h2M29 29h2M37 40h2M27 31h2M33 37h2M28 34h2M23 26h2M34 19h2M33 28h2M29 27h2M29 35h2M26 29h2M30 31h2M33 30h2M30 27h2M31 26h2M26 38h2M32 29h2M36 28h2M31 35h2M33 35h2M39 18h2M36 24h2M27 33h2M34 33h2M39 32h2M34 32h2M25 34h2M39 34h2M31 35h2M36 30h2M29 27h2M28 38h2M29 25h2M31 35h2M24 32h2M31 36h2M32 28h2M33 38h2M42 35h2M26 33h2" stroke="#ec1a34" stroke-opacity="0.53"/>
<path d="M36 49h2M24 47h2M30 45h2M35 47h2M30 45h2M34 49h2M32 51h2M33 49h2M32 40h2M32 44h2M29 43h2M29 46h2M35 39h2M28 47h2M32 51h2M30 50h2M25 41h2M33 45h2M33 42h2M36 49h2M35 43h2M30 51h2M23 42h2M43 40h2M39 49h2M26 46h2M34 43h2M35 46h2M42 44h2M30 46h2M32 43h2M36 43h2M32 47h2M32 50h2M30 52h2M36 41h2M26 48h2M37 47h2M26 45h2M31 54h2M29 50h2M36 49h2M38 46h2M35 55h2M29 47h2M31 44h2M27 45h2M39 44h2M27 43h2M29 39h2M38 40h2M41 42h2M36 52h2M30 38h2M27 51h2M36 46h2M32 49h2M37 48h2M33 47h2M26 41h2M31 47h2M35 43h2M25 52h2M36 51h2M28 50h2M29 47h2M37 44h2M34 50h2M24 41h2M31 48h2M23 48h2M42 48h2M27 46h2M27 41h2M26 39h2M29 44h2M28 48h2M33 49h2M24 53h2M38 42h2M31 43h2M30 48h2M35 41h2" stroke="#ec1a34" stroke-opacity="0.74"/>
</g></svg>
<path d="M0 0H32V32.45" stroke="#666" stroke-width="1" fill="none"/>
<path d="M0 0V32.45H32M-0.9 25.4H0.6M6.96 31.85V33.35M-0.9 18.34H0.6M13.91 31.85V33.35M-0.9 11.29H0.6M20.87 31.85V33.35M-0.9 4.23H0.6M27.83 31.85V33.35" stroke="#111" stroke-width="1" fill="none"/>
</g>
<g transform="translate(290.2 189.2)">
<svg x="0" y="0" width="33.4" height="32.45" viewBox="0 0 32.6 32.8" preserveAspectRatio="none" overflow="hidden"><g filter="url(#bl)">
<ellipse cx="5.5" cy="6" rx="4" ry="2.2" fill="#2a55ee" fill-opacity="0.72"/>
<ellipse cx="15" cy="6" rx="5.5" ry="1" fill="#ec1a34" fill-opacity="0.2"/>
<ellipse cx="6" cy="16" rx="3.5" ry="3" fill="#6a3ab8" fill-opacity="0.4"/>
<ellipse cx="5.5" cy="27.5" rx="4" ry="3.3" fill="#2a55ee" fill-opacity="0.72"/>
<ellipse cx="3" cy="21" rx="2" ry="4" fill="#6a3ab8" fill-opacity="0.16"/>
<ellipse cx="15" cy="20" rx="6" ry="9" fill="#ec1a34" fill-opacity="0.03"/>
</g>
<g transform="scale(.5)" stroke-width="1.9" fill="none" filter="url(#db)">
<path d="M10 12h2M11 14h2M10 9h2M12 11h2M10 12h2M12 15h2M14 12h2M8 10h2M12 15h2M11 12h2M13 9h2M10 13h2M14 11h2M13 13h2M14 10h2M13 9h2M7 14h2M14 9h2M14 10h2M11 11h2M11 14h2M14 13h2M14 13h2M8 10h2M9 13h2M10 17h2M8 10h2M14 15h2M13 14h2M17 12h2M5 11h2M15 9h2M11 13h2M10 14h2M13 17h2M13 11h2M9 10h2M15 11h2M11 14h2M8 11h2M4 10h2M9 13h2M16 12h2M12 12h2M15 14h2" stroke="#2a55ee" stroke-opacity="0.86"/>
<path d="M32 11h2M35 12h2M37 12h2M41 12h2M39 12h2M27 11h2M29 13h2M34 13h2M17 13h2M33 11h2M27 12h2M39 11h2M28 13h2" stroke="#ec1a34" stroke-opacity="0.31"/>
<path d="M10 31h2M12 28h2M13 28h2M15 32h2M20 33h2M17 28h2M12 33h2M18 27h2M15 34h2M17 34h2M12 30h2M8 33h2M11 38h2M10 33h2M7 31h2M13 34h2M17 32h2M8 33h2M14 33h2M10 35h2M12 34h2M16 34h2M13 38h2M13 31h2M12 36h2M12 34h2M16 30h2M6 33h2M13 30h2M15 34h2M9 34h2M11 28h2M14 32h2M9 34h2M14 30h2M13 35h2" stroke="#6a3ab8" stroke-opacity="0.53"/>
<path d="M8 56h2M11 62h2M4 57h2M10 55h2M19 55h2M20 54h2M12 53h2M8 55h2M10 56h2M10 61h2M7 56h2M5 53h2M13 57h2M16 54h2M5 54h2M16 57h2M3 55h2M17 62h2M13 56h2M6 52h2M11 57h2M13 53h2M6 52h2M6 57h2M2 54h2M13 60h2M11 58h2M9 53h2M8 60h2M15 57h2M13 56h2M10 63h2M17 50h2M9 56h2M14 51h2M11 55h2M12 52h2M6 48h2M12 56h2M15 58h2M10 59h2M10 53h2M9 53h2M2 56h2M12 54h2M8 56h2M18 55h2M9 53h2M11 51h2M10 55h2M18 58h2M15 53h2M14 51h2M12 56h2M8 62h2M13 49h2M13 54h2M11 57h2M13 48h2M6 58h2M16 61h2M18 48h2M14 49h2M17 56h2M6 62h2M14 49h2M12 53h2M11 53h2M16 50h2" stroke="#2a55ee" stroke-opacity="0.86"/>
<path d="M7 49h2M4 43h2M6 39h2M7 42h2M4 49h2M8 41h2M5 39h2M8 41h2M7 41h2M7 42h2M8 41h2M8 45h2M6 39h2M4 39h2M4 45h2M6 48h2M11 42h2" stroke="#6a3ab8" stroke-opacity="0.27"/>
<path d="M21 37h2M30 27h2M28 43h2M27 33h2M25 56h2M29 33h2M28 49h2M26 44h2M34 47h2M38 35h2M37 33h2M28 51h2M35 40h2M23 45h2M26 32h2M26 42h2M17 43h2M31 35h2M36 46h2M26 34h2M34 26h2M28 34h2M30 42h2M30 50h2M31 37h2M23 46h2M33 53h2M26 40h2M30 39h2M30 25h2M35 46h2M37 60h2M28 40h2M30 57h2M20 44h2M18 28h2M36 32h2M29 30h2M34 30h2M38 31h2M25 41h2M30 53h2M31 29h2M27 35h2M34 43h2M29 48h2M27 39h2M31 54h2M29 37h2M24 46h2M26 43h2M19 49h2M22 33h2M36 28h2M30 41h2M24 52h2M39 22h2M21 47h2M22 37h2M31 46h2M29 41h2M25 52h2M27 43h2M27 41h2M29 39h2M24 47h2M38 42h2M34 48h2M36 43h2M31 48h2M30 31h2M30 23h2M30 44h2M37 41h2M36 40h2M24 27h2M24 28h2M34 38h2M33 41h2M36 50h2" stroke="#ec1a34" stroke-opacity="0.13"/>
</g></svg>
<path d="M0 0H33.4V32.45" stroke="#666" stroke-width="1" fill="none"/>
<path d="M0 0V32.45H33.4M-0.9 25.4H0.6M7.26 31.85V33.35M-0.9 18.34H0.6M14.52 31.85V33.35M-0.9 11.29H0.6M21.78 31.85V33.35M-0.9 4.23H0.6M29.04 31.85V33.35" stroke="#111" stroke-width="1" fill="none"/>
</g>
<g transform="translate(328.7 189.2)">
<svg x="0" y="0" width="32.8" height="32.45" viewBox="0 0 32.6 32.8" preserveAspectRatio="none" overflow="hidden"><g filter="url(#bl)">
<ellipse cx="9.5" cy="6.3" rx="4.5" ry="1.8" fill="#1a1a1a" fill-opacity="0.4"/>
<ellipse cx="6.5" cy="17" rx="3" ry="2.5" fill="#1a1a1a" fill-opacity="0.2"/>
<ellipse cx="7" cy="28.3" rx="5" ry="3" fill="#1a1a1a" fill-opacity="0.76"/>
<ellipse cx="6" cy="24" rx="4" ry="3" fill="#1a1a1a" fill-opacity="0.12"/>
<ellipse cx="10" cy="18" rx="8" ry="10" fill="#1a1a1a" fill-opacity="0.03"/>
</g>
<g transform="scale(.5)" stroke-width="1.9" fill="none" filter="url(#db)">
<path d="M26 13h2M22 14h2M15 10h2M14 13h2M24 13h2M13 15h2M12 12h2M16 13h2M24 10h2M18 13h2M14 12h2M20 10h2M13 13h2M18 13h2M29 14h2M21 11h2M23 11h2M26 15h2M10 10h2M18 12h2M13 10h2M22 12h2M12 12h2M23 16h2M19 12h2M15 12h2M21 15h2M25 12h2" stroke="#1a1a1a" stroke-opacity="0.53"/>
<path d="M16 36h2M14 28h2M13 33h2M17 33h2M14 35h2M17 36h2M16 38h2M16 36h2M12 34h2M19 34h2M15 34h2M18 31h2M11 37h2M6 34h2M11 29h2M15 32h2M13 33h2M15 40h2" stroke="#1a1a1a" stroke-opacity="0.31"/>
<path d="M8 59h2M11 56h2M5 53h2M12 59h2M15 58h2M18 52h2M21 56h2M17 56h2M15 59h2M15 60h2M15 57h2M7 55h2M3 56h2M22 51h2M11 55h2M20 60h2M14 57h2M13 55h2M12 55h2M13 57h2M11 58h2M14 58h2M7 54h2M14 57h2M13 61h2M13 61h2M21 59h2M16 58h2M13 53h2M11 55h2M12 54h2M9 57h2M21 54h2M5 55h2M8 54h2M8 56h2M17 63h2M8 52h2M13 56h2M22 60h2M11 50h2M17 55h2M21 56h2M13 53h2M14 60h2M10 57h2M11 59h2M14 58h2M16 54h2M8 61h2M12 54h2M11 62h2M14 60h2M14 61h2M12 56h2M18 62h2M15 55h2M19 63h2M7 54h2M17 55h2M3 57h2M15 59h2M21 53h2M11 56h2M16 54h2M14 54h2M18 60h2M10 58h2M9 58h2M7 57h2M20 59h2M5 57h2M12 61h2M16 61h2M11 53h2M2 58h2M13 58h2M13 57h2M21 53h2M17 60h2M17 62h2M13 57h2" stroke="#1a1a1a" stroke-opacity="0.9"/>
<path d="M11 47h2M19 44h2M10 47h2M12 47h2M15 50h2M19 51h2M8 43h2M10 46h2M11 52h2M13 44h2M9 53h2M7 50h2M15 44h2M7 49h2M13 51h2M14 45h2M19 49h2M13 49h2M6 46h2M15 50h2M10 48h2M10 46h2M10 45h2" stroke="#1a1a1a" stroke-opacity="0.23"/>
<path d="M14 35h2M20 35h2M19 40h2M21 37h2M17 35h2M26 43h2M18 30h2M14 25h2M33 28h2M28 35h2M25 30h2M18 46h2M33 38h2M29 43h2M28 40h2M20 60h2M18 45h2M19 41h2M16 29h2M19 45h2M11 50h2M21 41h2M15 47h2M19 41h2M7 56h2M27 29h2M15 39h2M14 22h2M19 50h2M26 41h2M17 53h2M13 28h2M11 41h2M14 37h2M27 20h2M14 43h2M21 35h2M20 30h2M23 45h2M15 30h2M10 35h2M29 30h2M19 50h2M14 33h2M20 35h2M36 34h2M32 42h2M7 41h2M20 51h2M34 39h2M20 42h2M11 40h2M25 38h2M13 44h2M19 31h2M23 28h2M28 35h2M13 39h2M36 47h2M9 27h2M25 45h2M19 44h2M11 45h2M8 40h2M31 35h2M26 13h2M27 34h2M26 23h2M35 38h2M34 23h2M13 50h2M24 26h2M15 29h2M29 30h2M20 47h2M13 31h2M15 48h2M16 46h2M26 40h2M27 44h2M16 45h2M20 37h2M18 35h2M4 26h2M28 40h2M23 30h2M22 39h2M15 20h2M13 40h2M26 35h2M24 19h2M7 41h2M12 55h2M20 22h2M26 23h2M25 29h2M6 53h2M14 39h2M23 27h2M11 42h2M33 46h2M18 34h2M26 41h2M7 44h2M24 20h2M19 24h2M26 41h2M20 34h2M20 38h2M17 44h2M15 37h2M16 35h2M24 18h2M6 47h2M15 25h2M14 28h2M31 52h2M22 56h2M12 44h2" stroke="#1a1a1a" stroke-opacity="0.13"/>
</g></svg>
<path d="M0 0H32.8V32.45" stroke="#666" stroke-width="1" fill="none"/>
<path d="M0 0V32.45H32.8M-0.9 25.4H0.6M7.13 31.85V33.35M-0.9 18.34H0.6M14.26 31.85V33.35M-0.9 11.29H0.6M21.39 31.85V33.35M-0.9 4.23H0.6M28.52 31.85V33.35" stroke="#111" stroke-width="1" fill="none"/>
</g>
<g transform="translate(366.9 189.2)">
<svg x="0" y="0" width="32.6" height="32.45" viewBox="0 0 32.6 32.8" preserveAspectRatio="none" overflow="hidden"><g filter="url(#bl)">
<ellipse cx="11" cy="5.3" rx="4.3" ry="2.2" fill="#2a55ee" fill-opacity="0.72"/>
<ellipse cx="8.5" cy="16.5" rx="3" ry="5" fill="#6a3ab8" fill-opacity="0.36"/>
<ellipse cx="6" cy="18" rx="4.5" ry="6" fill="#ec1a34" fill-opacity="0.1"/>
<ellipse cx="8.5" cy="28" rx="5.5" ry="3.5" fill="#2a55ee" fill-opacity="0.76"/>
<ellipse cx="3" cy="26" rx="2" ry="4" fill="#ec1a34" fill-opacity="0.2"/>
</g>
<g transform="scale(.5)" stroke-width="1.9" fill="none" filter="url(#db)">
<path d="M17 12h2M24 10h2M22 11h2M22 11h2M25 13h2M29 10h2M19 12h2M21 9h2M29 12h2M20 10h2M24 11h2M24 10h2M14 6h2M26 11h2M13 11h2M23 12h2M22 11h2M18 7h2M21 11h2M20 7h2M20 9h2M25 8h2M17 9h2M22 13h2M24 7h2M17 14h2M23 10h2M24 12h2M29 11h2M19 8h2M26 11h2M23 12h2M18 14h2M21 10h2M21 11h2M20 10h2M25 13h2M25 8h2M20 14h2M22 11h2M21 14h2M20 10h2M26 7h2M20 16h2M22 11h2M13 10h2M18 9h2M18 11h2M21 13h2" stroke="#2a55ee" stroke-opacity="0.86"/>
<path d="M10 30h2M19 35h2M21 30h2M20 35h2M13 24h2M23 38h2M17 29h2M12 31h2M17 41h2M16 32h2M17 38h2M22 42h2M17 37h2M14 29h2M16 37h2M10 33h2M23 38h2M21 30h2M18 28h2M22 31h2M16 28h2M18 41h2M17 32h2M16 39h2M17 36h2M17 34h2M19 36h2M13 33h2M16 35h2M21 30h2M15 26h2M15 39h2M15 40h2M17 32h2M17 31h2M18 33h2M12 29h2M19 32h2M11 38h2M21 27h2M17 37h2M18 36h2M13 38h2M16 30h2M18 38h2M20 29h2M18 26h2M20 29h2M15 37h2" stroke="#6a3ab8" stroke-opacity="0.48"/>
<path d="M13 31h2M15 47h2M6 37h2M13 38h2M13 42h2M16 37h2M17 34h2M20 36h2M11 40h2M8 29h2M9 44h2M15 32h2M12 36h2M9 33h2M8 28h2M8 43h2M15 35h2M14 29h2M14 35h2M10 38h2M11 49h2M8 35h2M13 36h2M20 37h2M4 32h2M1 36h2M10 40h2M16 31h2M13 36h2M19 37h2M11 34h2M14 26h2M8 30h2M6 40h2M4 45h2M6 31h2M10 35h2M2 34h2M13 40h2M11 40h2M14 29h2M17 40h2M12 35h2M12 37h2M10 30h2M15 36h2M14 43h2M8 39h2M11 37h2" stroke="#ec1a34" stroke-opacity="0.2"/>
<path d="M13 60h2M10 55h2M18 57h2M18 50h2M9 48h2M14 61h2M15 61h2M22 54h2M13 56h2M25 55h2M15 58h2M19 56h2M24 55h2M18 53h2M22 51h2M21 53h2M23 54h2M24 62h2M13 64h2M12 55h2M12 56h2M18 57h2M27 60h2M16 57h2M11 59h2M9 50h2M9 63h2M20 56h2M9 56h2M9 59h2M17 56h2M11 59h2M17 58h2M13 53h2M31 55h2M16 57h2M20 59h2M12 58h2M21 58h2M9 59h2M23 59h2M10 60h2M15 54h2M16 53h2M18 55h2M14 60h2M16 59h2M13 55h2M20 54h2M12 48h2M26 60h2M20 59h2M26 61h2M15 60h2M20 56h2M24 59h2M20 57h2M17 57h2M16 57h2M23 54h2M26 57h2M18 63h2M20 56h2M10 61h2M30 52h2M18 59h2M23 51h2M19 55h2M22 57h2M22 52h2M10 59h2M7 58h2M15 62h2M21 60h2M15 59h2M17 57h2M24 59h2M13 52h2M10 58h2M10 60h2M21 50h2M15 54h2M20 52h2M17 50h2M18 57h2M19 51h2M19 56h2M10 58h2M23 60h2M13 60h2M16 59h2M22 60h2M16 55h2M25 60h2M27 55h2M19 57h2M20 53h2M20 56h2M16 59h2M26 57h2M21 57h2M14 50h2M18 54h2M21 60h2" stroke="#2a55ee" stroke-opacity="0.9"/>
<path d="M7 46h2M6 48h2M5 43h2M5 51h2M6 51h2M8 52h2M2 60h2M6 48h2M4 50h2M8 49h2M3 59h2M7 48h2M7 52h2M8 49h2M2 53h2M4 54h2M6 58h2M5 46h2M8 59h2" stroke="#ec1a34" stroke-opacity="0.31"/>
</g></svg>
<path d="M0 0H32.6V32.45" stroke="#666" stroke-width="1" fill="none"/>
<path d="M0 0V32.45H32.6M-0.9 25.4H0.6M7.09 31.85V33.35M-0.9 18.34H0.6M14.17 31.85V33.35M-0.9 11.29H0.6M21.26 31.85V33.35M-0.9 4.23H0.6M28.35 31.85V33.35" stroke="#111" stroke-width="1" fill="none"/>
</g>
<g transform="translate(410.1 189.2)">
<svg x="0" y="0" width="32.5" height="32.45" viewBox="0 0 32.6 32.8" preserveAspectRatio="none" overflow="hidden"><g filter="url(#bl)">
<ellipse cx="8" cy="17" rx="4" ry="13.5" fill="#2a55ee" fill-opacity="0.76"/>
<ellipse cx="6.5" cy="5.5" rx="5" ry="2.2" fill="#2a55ee" fill-opacity="0.68"/>
<ellipse cx="2.8" cy="19" rx="2.8" ry="11" fill="#6a3ab8" fill-opacity="0.36"/>
<ellipse cx="16.5" cy="7.8" rx="3.5" ry="2.3" fill="#ec1a34" fill-opacity="0.48"/>
<ellipse cx="24" cy="13" rx="4" ry="4.2" fill="#ec1a34" fill-opacity="0.68"/>
<ellipse cx="20" cy="10" rx="7" ry="5" fill="#ec1a34" fill-opacity="0.16"/>
</g>
<g transform="scale(.5)" stroke-width="1.9" fill="none" filter="url(#db)">
<path d="M15 49h2M19 40h2M17 35h2M16 41h2M14 55h2M21 38h2M21 52h2M16 25h2M20 16h2M20 40h2M13 5h2M17 43h2M17 37h2M16 22h2M10 52h2M16 14h2M20 18h2M18 16h2M15 31h2M23 18h2M13 49h2M21 36h2M14 26h2M9 47h2M19 46h2M19 41h2M20 21h2M24 39h2M13 20h2M15 45h2M18 51h2M25 44h2M20 45h2M13 28h2M15 48h2M13 21h2M14 21h2M17 36h2M24 29h2M21 44h2M18 6h2M18 37h2M12 45h2M21 44h2M16 19h2M18 23h2M18 23h2M13 42h2M14 7h2M21 42h2M19 16h2M16 47h2M18 28h2M20 30h2M10 31h2M14 18h2M20 20h2M21 24h2M15 32h2M18 29h2M16 38h2M13 25h2M12 14h2M23 25h2M18 23h2M22 42h2M20 34h2M20 24h2M10 51h2M20 39h2M15 29h2M12 30h2M17 48h2M16 14h2M10 21h2M12 44h2M21 46h2M13 18h2M14 25h2M20 19h2M14 29h2M13 29h2M8 20h2M15 36h2M20 46h2M17 30h2M13 40h2M11 41h2M13 34h2M21 16h2M18 30h2M13 32h2M24 52h2M14 21h2M17 8h2M14 35h2M20 25h2M14 38h2M8 31h2M18 31h2M10 31h2M15 21h2M10 51h2M15 32h2M23 40h2M10 22h2M10 34h2M14 45h2M14 43h2M24 25h2M15 33h2M23 23h2M9 7h2M16 16h2M13 50h2M14 38h2M17 39h2M14 22h2M25 32h2M16 40h2M20 11h2M11 51h2M20 28h2M11 41h2M20 17h2M18 33h2M18 38h2M19 30h2M18 37h2M21 36h2M14 26h2M17 34h2M16 33h2M16 49h2M8 51h2M20 27h2M13 26h2M15 30h2M19 57h2M11 38h2M19 17h2M18 47h2M18 24h2M19 31h2M14 39h2M15 43h2M12 16h2M18 29h2M22 33h2M15 54h2M13 26h2M16 40h2M18 60h2M12 48h2M13 37h2M13 38h2M14 38h2M21 52h2M14 53h2M24 21h2M18 20h2M15 34h2M14 20h2M12 56h2M16 10h2M13 48h2M17 5h2M10 36h2M13 30h2M19 22h2M18 50h2M17 28h2M19 51h2M20 51h2M12 24h2M6 45h2M14 50h2M7 48h2M16 35h2M11 40h2M16 15h2M18 27h2M11 15h2M22 18h2M14 22h2M22 24h2M7 47h2M24 10h2M25 24h2M12 41h2M17 34h2M23 26h2M18 52h2M11 49h2M22 23h2M18 25h2M11 34h2M19 30h2M15 14h2M11 60h2M19 28h2M13 51h2M18 42h2M21 48h2M14 34h2M19 20h2M14 26h2M14 23h2M17 33h2M20 38h2M17 39h2M16 17h2M15 26h2M12 16h2M18 38h2M13 37h2M19 20h2M12 37h2M17 42h2M16 36h2M19 50h2M11 33h2M11 29h2M21 34h2M16 23h2M18 18h2M22 8h2M19 61h2M10 13h2M23 42h2M16 7h2M15 46h2M14 24h2M9 27h2M21 20h2M16 32h2M10 14h2M13 49h2M22 47h2M15 31h2M14 33h2M13 52h2M23 47h2M14 15h2M15 40h2M10 30h2M22 27h2M16 19h2M17 51h2M21 27h2M21 41h2M19 22h2M15 27h2M14 19h2M17 19h2M12 39h2M13 32h2M16 24h2M17 30h2M9 52h2M23 40h2M11 21h2M22 43h2M17 33h2M17 59h2M18 17h2M21 27h2M17 58h2M15 43h2M16 42h2M18 57h2M16 34h2M18 31h2M16 50h2M10 58h2M19 9h2M15 35h2M16 42h2M20 38h2M16 43h2M19 36h2M20 32h2M15 21h2M14 46h2M12 37h2M18 31h2M19 15h2M20 14h2M17 30h2M13 49h2M16 33h2M14 41h2" stroke="#2a55ee" stroke-opacity="0.9"/>
<path d="M12 15h2M3 7h2M12 11h2M13 13h2M20 13h2M24 10h2M22 11h2M16 11h2M13 12h2M4 13h2M14 10h2M19 14h2M19 8h2M11 14h2M21 6h2M7 13h2M17 6h2M15 12h2M11 12h2M16 11h2M10 12h2M14 8h2M10 12h2M13 10h2M15 10h2M14 11h2M17 10h2M25 12h2M9 10h2M19 14h2M10 11h2M15 14h2M8 10h2M17 9h2M18 12h2M14 11h2M13 13h2M19 13h2M10 8h2M18 16h2M14 10h2M8 11h2M14 12h2M16 12h2M22 10h2M14 11h2M14 14h2M13 17h2M20 9h2M17 13h2M12 12h2M9 13h2M15 13h2M12 14h2M11 11h2" stroke="#2a55ee" stroke-opacity="0.82"/>
<path d="M5 48h2M8 39h2M7 47h2M7 37h2M6 46h2M5 56h2M5 40h2M8 32h2M4 21h2M9 52h2M7 26h2M5 28h2M5 26h2M5 37h2M8 36h2M9 28h2M10 58h2M7 14h2M3 41h2M4 26h2M4 54h2M5 42h2M10 50h2M8 57h2M8 26h2M11 43h2M8 51h2M10 32h2M7 42h2M9 35h2M7 15h2M4 33h2M5 27h2M6 26h2M4 53h2M3 30h2M5 17h2M2 45h2M2 31h2M5 23h2M6 40h2M5 44h2M4 36h2M11 39h2M7 30h2M7 37h2M6 20h2M10 24h2M6 59h2M7 32h2M3 44h2M5 43h2M8 31h2M6 42h2M9 56h2M5 16h2M4 32h2M3 37h2M6 51h2M5 36h2M6 34h2M4 37h2M2 43h2M4 22h2M11 33h2M5 42h2M3 36h2M7 44h2M6 58h2M1 35h2M2 52h2M7 48h2M2 41h2M3 25h2M6 42h2M1 21h2M4 30h2M6 29h2M5 15h2M6 43h2M1 28h2M2 44h2M2 42h2M3 41h2M5 43h2M7 44h2M3 43h2M9 38h2M12 44h2M6 46h2M7 29h2M5 50h2M7 53h2M9 42h2M6 23h2M8 39h2M8 18h2M5 51h2" stroke="#6a3ab8" stroke-opacity="0.48"/>
<path d="M32 18h2M32 15h2M37 15h2M36 13h2M32 18h2M32 16h2M35 17h2M30 13h2M35 18h2M35 14h2M28 15h2M35 15h2M27 18h2M36 19h2M33 17h2M31 15h2M41 15h2M36 15h2M27 15h2M38 12h2M33 13h2M39 15h2M35 16h2M28 15h2M38 16h2M39 20h2M28 17h2M37 12h2M34 10h2M35 19h2M34 18h2" stroke="#ec1a34" stroke-opacity="0.61"/>
<path d="M56 28h2M41 29h2M49 35h2M44 30h2M49 23h2M54 31h2M51 26h2M50 28h2M42 19h2M52 28h2M51 27h2M54 31h2M46 29h2M53 21h2M41 26h2M48 29h2M46 26h2M47 28h2M51 22h2M51 27h2M51 27h2M47 27h2M44 35h2M43 24h2M49 20h2M48 20h2M49 30h2M50 29h2M52 29h2M51 28h2M53 29h2M45 25h2M46 20h2M54 26h2M55 28h2M46 26h2M47 23h2M48 24h2M51 30h2M56 28h2M40 27h2M45 27h2M47 28h2M44 22h2M58 27h2M57 24h2M50 28h2M49 28h2M47 25h2M51 25h2M48 28h2M53 29h2M48 30h2M42 21h2M49 31h2M44 25h2M49 26h2M51 28h2M50 28h2M43 26h2M42 28h2M48 24h2M42 33h2M49 22h2M52 21h2M51 28h2M50 31h2M45 21h2M51 20h2M49 30h2M46 30h2M46 21h2M50 33h2M46 17h2M52 36h2M51 29h2M50 24h2M48 28h2M52 27h2M46 31h2M52 31h2M45 29h2M46 28h2M46 22h2" stroke="#ec1a34" stroke-opacity="0.82"/>
<path d="M46 22h2M29 22h2M43 10h2M37 23h2M48 23h2M38 24h2M33 21h2M40 23h2M37 20h2M27 20h2M41 19h2M36 23h2M50 22h2M37 22h2M41 18h2M27 16h2M33 29h2M47 21h2M44 21h2M32 14h2M43 20h2M42 13h2M40 24h2M27 21h2M30 19h2M42 12h2M33 13h2M40 20h2M36 21h2M39 20h2M44 21h2M48 19h2M46 22h2M45 19h2M45 19h2M48 15h2M41 14h2M39 13h2M38 18h2M40 18h2M36 10h2M39 23h2M42 24h2M42 16h2M46 20h2M42 13h2M30 24h2M41 21h2M29 20h2M28 22h2M44 19h2M34 23h2M38 25h2M41 9h2M39 30h2M42 17h2M41 26h2M39 19h2M48 30h2M40 12h2M55 20h2M30 20h2M45 22h2M33 19h2M47 28h2M53 25h2M39 19h2M51 18h2M43 13h2M42 24h2M40 13h2M31 16h2M46 26h2M34 20h2M41 22h2M33 19h2" stroke="#ec1a34" stroke-opacity="0.27"/>
</g></svg>
<path d="M0 0H32.5V32.45" stroke="#666" stroke-width="1" fill="none"/>
<path d="M0 0V32.45H32.5M-0.9 25.4H0.6M7.07 31.85V33.35M-0.9 18.34H0.6M14.13 31.85V33.35M-0.9 11.29H0.6M21.2 31.85V33.35M-0.9 4.23H0.6M28.26 31.85V33.35" stroke="#111" stroke-width="1" fill="none"/>
</g>
<g transform="translate(445.9 189.2)">
<svg x="0" y="0" width="32.4" height="32.45" viewBox="0 0 32.6 32.8" preserveAspectRatio="none" overflow="hidden"><g filter="url(#bl)">
<ellipse cx="5.5" cy="6" rx="4.5" ry="3" fill="#2a55ee" fill-opacity="0.76"/>
<ellipse cx="17.5" cy="7" rx="5.5" ry="3" fill="#ec1a34" fill-opacity="0.76"/>
<ellipse cx="21" cy="11" rx="5" ry="2" fill="#ec1a34" fill-opacity="0.16"/>
<ellipse cx="5.5" cy="25.8" rx="2.7" ry="3.2" fill="#1a1a1a" fill-opacity="0.12"/>
</g>
<g transform="scale(.5)" stroke-width="1.9" fill="none" filter="url(#db)">
<path d="M14 10h2M3 9h2M12 16h2M2 8h2M13 12h2M7 17h2M12 11h2M16 10h2M21 11h2M21 16h2M8 12h2M9 12h2M11 8h2M13 13h2M3 12h2M11 13h2M10 13h2M6 17h2M13 14h2M11 10h2M14 13h2M6 9h2M10 11h2M11 13h2M7 11h2M11 8h2M9 11h2M9 12h2M18 16h2M11 12h2M10 10h2M9 16h2M12 12h2M10 11h2M12 9h2M15 14h2M10 11h2M5 16h2M14 8h2M4 13h2M14 14h2M10 13h2M12 12h2M15 12h2M8 16h2M9 6h2M12 11h2M11 15h2M9 16h2M12 18h2M6 18h2M17 10h2M11 13h2M21 12h2M9 12h2M11 10h2M19 9h2M17 14h2M5 9h2M21 13h2M11 12h2M7 8h2M11 11h2M12 16h2M5 9h2M18 12h2M12 15h2M14 15h2M11 16h2M10 13h2M9 14h2M3 9h2M6 12h2" stroke="#2a55ee" stroke-opacity="0.9"/>
<path d="M34 16h2M40 12h2M28 8h2M32 14h2M32 9h2M40 13h2M41 17h2M35 13h2M39 9h2M42 16h2M40 16h2M40 17h2M34 17h2M28 10h2M32 14h2M32 17h2M33 16h2M40 14h2M39 14h2M36 9h2M33 14h2M29 20h2M37 15h2M34 14h2M44 11h2M41 19h2M44 13h2M35 13h2M35 17h2M39 19h2M29 17h2M23 19h2M30 19h2M40 11h2M47 17h2M36 15h2M37 12h2M46 15h2M40 13h2M29 18h2M34 12h2M38 15h2M35 15h2M34 11h2M31 13h2M29 17h2M42 10h2M24 14h2M33 18h2M32 20h2M34 15h2M35 12h2M41 10h2M36 13h2M34 15h2M41 15h2M34 14h2M33 11h2M40 17h2M30 15h2M42 13h2M30 17h2M38 13h2M30 7h2M34 13h2M37 10h2M38 18h2M41 11h2M38 14h2M46 14h2M31 17h2M40 10h2M31 14h2M22 14h2M38 12h2M40 15h2M25 10h2M41 12h2M33 19h2M33 13h2M28 15h2M29 16h2M37 8h2M32 13h2M45 13h2M29 15h2M37 14h2M31 11h2M38 14h2M38 13h2" stroke="#ec1a34" stroke-opacity="0.9"/>
<path d="M36 25h2M39 23h2M41 24h2M52 25h2M37 22h2M41 19h2M40 20h2M50 22h2M44 26h2M38 22h2M48 25h2M46 25h2M39 22h2M41 22h2M41 22h2M41 22h2M46 19h2M51 26h2M43 21h2M35 22h2M44 21h2" stroke="#ec1a34" stroke-opacity="0.27"/>
<path d="M12 48h2M13 53h2M13 58h2M12 50h2M15 50h2M12 46h2M14 45h2M4 51h2M16 50h2M9 58h2M8 51h2M12 51h2M9 52h2M11 47h2M9 49h2M7 51h2M12 51h2" stroke="#1a1a1a" stroke-opacity="0.23"/>
</g></svg>
<path d="M0 0H32.4V32.45" stroke="#666" stroke-width="1" fill="none"/>
<path d="M0 0V32.45H32.4M-0.9 25.4H0.6M7.04 31.85V33.35M-0.9 18.34H0.6M14.09 31.85V33.35M-0.9 11.29H0.6M21.13 31.85V33.35M-0.9 4.23H0.6M28.17 31.85V33.35" stroke="#111" stroke-width="1" fill="none"/>
</g>
<g transform="translate(484 189.2)">
<svg x="0" y="0" width="32.5" height="32.45" viewBox="0 0 32.6 32.8" preserveAspectRatio="none" overflow="hidden"><g filter="url(#bl)">
<ellipse cx="5.5" cy="17" rx="4.5" ry="13.5" fill="#2a55ee" fill-opacity="0.76"/>
<ellipse cx="16" cy="6.8" rx="5" ry="3" fill="#ec1a34" fill-opacity="0.72"/>
<ellipse cx="16" cy="17" rx="5.5" ry="8" fill="#ec1a34" fill-opacity="0.32"/>
<ellipse cx="19.5" cy="25.5" rx="3.2" ry="3.8" fill="#ec1a34" fill-opacity="0.48"/>
</g>
<g transform="scale(.5)" stroke-width="1.9" fill="none" filter="url(#db)">
<path d="M8 45h2M7 38h2M7 33h2M16 38h2M13 35h2M5 36h2M19 20h2M8 30h2M7 32h2M12 33h2M6 49h2M6 24h2M11 24h2M16 9h2M15 37h2M8 44h2M8 31h2M5 12h2M19 22h2M12 56h2M12 16h2M9 24h2M11 24h2M8 30h2M10 33h2M8 56h2M11 56h2M13 16h2M9 27h2M17 32h2M3 27h2M14 39h2M13 18h2M12 20h2M12 32h2M10 53h2M4 32h2M4 38h2M12 23h2M14 35h2M18 29h2M16 61h2M13 39h2M12 22h2M8 41h2M13 34h2M12 35h2M14 36h2M6 33h2M13 10h2M5 31h2M13 34h2M16 8h2M6 57h2M13 27h2M13 37h2M12 36h2M8 31h2M15 24h2M4 27h2M16 42h2M7 41h2M8 59h2M9 34h2M13 33h2M3 40h2M13 21h2M4 25h2M18 44h2M12 19h2M14 41h2M12 26h2M13 35h2M6 38h2M10 51h2M8 6h2M14 32h2M10 30h2M11 49h2M18 44h2M16 19h2M6 24h2M12 17h2M5 45h2M17 21h2M20 51h2M7 33h2M16 29h2M10 39h2M19 23h2M11 21h2M6 56h2M17 25h2M11 43h2M13 59h2M16 3h2M4 42h2M8 52h2M14 47h2M20 39h2M5 32h2M13 25h2M6 41h2M16 30h2M7 33h2M17 37h2M17 15h2M16 25h2M6 23h2M5 38h2M9 22h2M17 39h2M12 39h2M8 39h2M14 50h2M13 34h2M15 40h2M5 49h2M6 18h2M9 34h2M12 21h2M13 30h2M4 14h2M6 34h2M13 22h2M6 33h2M14 28h2M12 28h2M10 19h2M10 29h2M10 37h2M10 30h2M12 53h2M4 33h2M11 22h2M3 16h2M18 42h2M8 35h2M11 33h2M15 21h2M7 22h2M12 28h2M17 41h2M12 61h2M16 42h2M11 29h2M14 44h2M4 62h2M9 53h2M9 23h2M14 40h2M19 39h2M14 43h2M19 30h2M12 14h2M15 29h2M4 28h2M9 23h2M6 32h2M5 42h2M11 31h2M12 33h2M20 23h2M5 41h2M14 41h2M11 29h2M18 31h2M17 24h2M1 40h2M4 32h2M18 55h2M11 37h2M1 35h2M7 13h2M18 44h2M14 28h2M5 13h2M15 34h2M12 43h2M13 30h2M17 30h2M13 10h2M9 53h2M7 41h2M4 45h2M12 33h2M5 26h2M7 35h2M12 35h2M13 47h2M7 32h2M20 29h2M17 34h2M3 43h2M13 34h2M9 35h2M13 42h2M4 45h2M10 40h2M10 33h2M6 31h2M6 60h2M8 18h2M7 56h2M2 27h2M14 41h2M14 37h2M13 19h2M10 32h2M10 33h2M15 25h2M14 40h2M8 17h2M8 42h2M14 26h2M11 30h2M15 26h2M10 22h2M18 48h2M15 30h2M15 42h2M11 37h2M5 25h2M13 41h2M16 35h2M9 17h2M16 51h2M11 12h2M6 48h2M15 34h2M12 27h2M14 36h2M11 27h2M13 30h2M9 33h2M18 8h2M3 22h2M6 22h2M19 37h2M6 24h2M9 28h2M11 41h2M14 27h2M3 36h2M3 36h2M7 26h2M15 27h2M13 47h2M13 7h2M6 35h2M8 42h2M15 26h2M12 31h2M11 23h2M9 35h2M16 21h2M7 27h2M5 12h2M8 19h2M13 42h2M16 57h2M12 21h2M10 27h2M15 30h2M9 26h2M18 30h2M15 59h2M17 25h2M11 55h2M1 29h2M15 30h2M19 16h2M8 30h2M15 14h2M13 24h2M12 18h2M12 24h2M21 42h2M13 29h2M5 20h2M9 4h2M14 57h2M9 21h2M6 29h2M11 41h2M8 20h2M11 14h2M13 52h2M13 26h2M8 44h2M9 26h2M11 52h2M10 23h2M23 43h2M12 48h2M15 28h2M16 46h2M18 14h2M10 39h2M13 56h2M12 54h2M7 34h2M19 37h2M9 30h2M2 49h2M16 16h2M17 44h2M13 27h2M9 46h2M16 48h2M4 41h2M8 20h2M8 49h2M19 34h2M15 32h2M13 13h2M12 24h2M10 31h2M8 37h2M7 33h2M4 17h2M8 25h2M5 14h2M12 26h2" stroke="#2a55ee" stroke-opacity="0.9"/>
<path d="M32 13h2M27 11h2M37 11h2M32 11h2M33 16h2M37 10h2M26 12h2M32 8h2M30 15h2M32 12h2M28 16h2M31 11h2M38 16h2M25 14h2M36 13h2M29 8h2M40 10h2M29 15h2M28 16h2M34 15h2M33 16h2M33 17h2M33 14h2M31 17h2M33 7h2M30 14h2M39 11h2M31 11h2M33 14h2M29 10h2M33 14h2M26 13h2M34 12h2M37 18h2M36 13h2M29 17h2M29 10h2M33 11h2M32 17h2M40 12h2M32 21h2M35 14h2M28 8h2M31 10h2M30 9h2M29 17h2M24 7h2M33 16h2M26 10h2M28 13h2M40 14h2M35 15h2M40 15h2M37 20h2M28 11h2M29 12h2M33 12h2M30 14h2M35 18h2M20 14h2M40 19h2M37 17h2M36 10h2M32 19h2M41 12h2M31 15h2M37 12h2M31 18h2M32 14h2M29 11h2M36 18h2M35 17h2M33 18h2M27 10h2M29 12h2M38 13h2M40 11h2M33 19h2M35 17h2" stroke="#ec1a34" stroke-opacity="0.86"/>
<path d="M33 28h2M31 32h2M31 36h2M37 26h2M27 40h2M35 40h2M25 31h2M27 38h2M33 29h2M22 44h2M36 29h2M38 44h2M32 35h2M31 34h2M26 48h2M29 46h2M32 37h2M35 36h2M31 37h2M28 34h2M29 31h2M42 38h2M24 35h2M27 33h2M25 42h2M35 31h2M31 39h2M30 40h2M39 41h2M37 44h2M34 47h2M37 50h2M17 32h2M28 35h2M43 28h2M28 32h2M37 40h2M31 40h2M35 28h2M30 36h2M30 39h2M28 33h2M40 30h2M27 21h2M25 30h2M33 21h2M43 36h2M29 45h2M34 29h2M25 45h2M36 34h2M20 22h2M37 36h2M37 31h2M33 26h2M30 34h2M33 39h2M38 34h2M39 35h2M31 41h2M26 26h2M30 21h2M24 34h2M30 29h2M33 23h2M26 34h2M27 39h2M39 35h2M29 33h2M24 24h2M35 29h2M39 48h2M34 44h2M31 29h2M36 29h2M20 25h2M37 17h2M33 51h2M31 36h2M32 29h2M33 20h2M30 29h2M40 39h2M45 31h2M32 41h2M38 24h2M32 41h2M32 45h2M31 40h2M26 33h2M34 37h2M33 33h2M38 37h2M28 26h2M25 29h2M27 42h2M35 43h2M23 36h2M24 40h2M28 19h2M33 28h2M26 30h2M27 40h2M30 30h2M34 41h2M24 27h2M26 31h2M30 45h2M28 26h2M33 33h2M27 30h2M39 32h2M40 39h2M33 39h2M31 33h2M44 32h2M36 39h2M30 34h2M32 22h2M32 35h2M22 27h2M29 35h2M37 31h2M38 37h2M40 36h2M29 21h2M33 39h2M34 43h2M39 43h2M27 25h2M32 30h2M34 30h2M36 42h2M32 40h2M35 40h2" stroke="#ec1a34" stroke-opacity="0.44"/>
<path d="M42 47h2M42 49h2M40 53h2M35 53h2M38 53h2M40 48h2M42 49h2M43 58h2M41 52h2M41 44h2M41 61h2M40 49h2M39 50h2M41 56h2M40 52h2M39 52h2M42 57h2M39 57h2M35 53h2M46 54h2M39 54h2M40 51h2M41 50h2M42 52h2M32 54h2M40 50h2M39 46h2M39 60h2M33 50h2M41 56h2M33 50h2M39 54h2M34 52h2M42 52h2M38 52h2M38 53h2M37 46h2M33 46h2M37 53h2M39 54h2M35 52h2M36 49h2M47 53h2M41 52h2M42 50h2M43 50h2M38 46h2M37 61h2" stroke="#ec1a34" stroke-opacity="0.61"/>
</g></svg>
<path d="M0 0H32.5V32.45" stroke="#666" stroke-width="1" fill="none"/>
<path d="M0 0V32.45H32.5M-0.9 25.4H0.6M7.07 31.85V33.35M-0.9 18.34H0.6M14.13 31.85V33.35M-0.9 11.29H0.6M21.2 31.85V33.35M-0.9 4.23H0.6M28.26 31.85V33.35" stroke="#111" stroke-width="1" fill="none"/>
</g>
<g transform="translate(216.35 226.9)">
<svg x="0" y="0" width="32.45" height="32.45" viewBox="0 0 32.6 32.8" preserveAspectRatio="none" overflow="hidden"><g filter="url(#bl)">
<ellipse cx="9" cy="5.2" rx="2.8" ry="2.2" fill="#2a55ee" fill-opacity="0.72"/>
<ellipse cx="17.5" cy="5.5" rx="5" ry="1.9" fill="#ec1a34" fill-opacity="0.72"/>
<ellipse cx="7" cy="12.3" rx="4.5" ry="2.5" fill="#2a55ee" fill-opacity="0.64"/>
<ellipse cx="7" cy="25" rx="4" ry="5" fill="#6a3ab8" fill-opacity="0.28"/>
<ellipse cx="7.5" cy="26" rx="3" ry="3" fill="#2a55ee" fill-opacity="0.2"/>
<ellipse cx="21" cy="19" rx="9" ry="11" fill="#ec1a34" fill-opacity="0.06"/>
<ellipse cx="26" cy="21" rx="3" ry="7" fill="#ec1a34" fill-opacity="0.12"/>
</g>
<g transform="scale(.5)" stroke-width="1.9" fill="none" filter="url(#db)">
<path d="M16 10h2M17 9h2M11 11h2M20 11h2M17 10h2M21 14h2M20 10h2M21 16h2M16 13h2M15 8h2M24 8h2M16 7h2M19 7h2M16 11h2M17 15h2M18 9h2M20 9h2M17 8h2M18 12h2M15 9h2M15 8h2M20 6h2M13 6h2M12 11h2M20 7h2M21 12h2M17 10h2M16 12h2M18 10h2M16 9h2M23 10h2M20 7h2" stroke="#2a55ee" stroke-opacity="0.86"/>
<path d="M36 14h2M37 12h2M32 12h2M41 11h2M37 11h2M36 15h2M29 11h2M27 13h2M30 11h2M29 13h2M40 11h2M35 11h2M33 13h2M31 9h2M31 11h2M25 13h2M37 12h2M36 12h2M38 12h2M34 6h2M41 11h2M36 15h2M43 11h2M41 11h2M29 12h2M35 11h2M28 9h2M33 13h2M41 12h2M37 9h2M37 12h2M40 9h2M35 13h2M40 13h2M39 11h2M29 11h2M33 14h2M35 14h2M38 9h2M39 11h2M37 11h2M32 11h2M38 12h2M35 11h2M33 15h2M37 8h2M41 11h2M36 7h2M29 11h2M41 15h2" stroke="#ec1a34" stroke-opacity="0.86"/>
<path d="M12 26h2M15 29h2M12 28h2M7 20h2M18 19h2M14 25h2M17 25h2M16 25h2M13 22h2M14 28h2M15 27h2M13 25h2M23 23h2M10 27h2M18 25h2M10 23h2M18 27h2M14 28h2M12 22h2M19 21h2M23 29h2M11 22h2M6 25h2M12 28h2M10 27h2M10 23h2M13 24h2M15 27h2M12 27h2M13 27h2M11 25h2M22 28h2M10 21h2M9 29h2M9 26h2M17 25h2M9 22h2M11 29h2M13 24h2M14 25h2M12 22h2M23 28h2M9 27h2M9 29h2M11 23h2M12 30h2M6 19h2M16 27h2M9 18h2M15 22h2M20 22h2M12 27h2M11 23h2M13 24h2" stroke="#2a55ee" stroke-opacity="0.78"/>
<path d="M9 48h2M14 39h2M19 53h2M11 50h2M11 50h2M17 60h2M13 49h2M13 52h2M11 54h2M15 51h2M12 61h2M19 56h2M18 55h2M18 59h2M17 48h2M20 50h2M22 53h2M10 52h2M11 51h2M20 46h2M14 41h2M14 58h2M14 45h2M11 45h2M17 46h2M10 55h2M15 43h2M10 54h2M19 47h2M14 47h2M9 51h2M13 56h2M16 52h2M9 57h2M16 47h2M22 43h2M11 53h2M14 53h2M15 46h2M18 57h2M14 46h2M13 40h2M7 48h2M11 58h2M16 41h2M11 49h2M20 44h2M10 56h2M8 48h2M13 42h2M4 56h2M11 45h2M13 55h2M18 50h2M12 52h2M13 52h2M13 55h2" stroke="#6a3ab8" stroke-opacity="0.4"/>
<path d="M14 52h2M13 46h2M14 50h2M13 53h2M14 51h2M11 49h2M12 56h2M17 55h2M17 44h2M16 49h2M12 53h2M13 54h2M13 52h2M17 53h2M16 53h2M14 50h2M12 51h2M17 55h2M13 54h2M15 49h2M18 46h2" stroke="#2a55ee" stroke-opacity="0.31"/>
<path d="M44 44h2M32 48h2M41 29h2M43 29h2M49 35h2M36 48h2M35 39h2M32 38h2M57 47h2M41 52h2M38 45h2M35 41h2M30 26h2M33 32h2M33 49h2M43 38h2M46 43h2M44 18h2M39 36h2M30 42h2M59 34h2M37 41h2M35 29h2M53 19h2M50 46h2M49 41h2M60 30h2M29 18h2M44 21h2M48 35h2M45 26h2M49 48h2M40 20h2M39 24h2M42 48h2M37 32h2M44 32h2M54 48h2M35 38h2M48 50h2M39 17h2M36 36h2M48 42h2M29 29h2M30 50h2M42 35h2M45 38h2M43 31h2M51 36h2M51 41h2M40 24h2M41 30h2M37 34h2M58 30h2M21 33h2M54 44h2M32 37h2M42 52h2M40 20h2M41 39h2M42 30h2M53 37h2M42 35h2M46 53h2M50 43h2M55 21h2M46 30h2M46 29h2M33 30h2M36 42h2M53 36h2M34 41h2M38 43h2M50 43h2M48 11h2M44 30h2M34 46h2M42 34h2M48 36h2M39 40h2M49 44h2M46 29h2M52 34h2M37 35h2M33 32h2M53 42h2M46 37h2M48 31h2M45 33h2M39 40h2M38 34h2M35 20h2M36 47h2M43 47h2M46 54h2M41 33h2M34 41h2M31 54h2M33 50h2M31 35h2M43 53h2M41 44h2M55 44h2M46 49h2M34 38h2M38 62h2M39 25h2M37 48h2M46 38h2M49 45h2M57 31h2M50 20h2M46 35h2M40 22h2M44 34h2M39 37h2M35 49h2M43 30h2M43 45h2M44 52h2M35 30h2M41 33h2M37 37h2M54 39h2M61 43h2M22 34h2M28 38h2M38 36h2M45 47h2M50 50h2M43 42h2M56 20h2M50 31h2M42 49h2M41 23h2M42 38h2M29 37h2M49 34h2M45 39h2M43 31h2M32 36h2M48 52h2M45 54h2M38 42h2M32 33h2M41 36h2M47 26h2M40 44h2M38 11h2M41 32h2M47 42h2M38 36h2M50 28h2M51 36h2M46 52h2M31 38h2M50 56h2M25 32h2M55 34h2M34 24h2M41 30h2M29 35h2M47 36h2M36 33h2" stroke="#ec1a34" stroke-opacity="0.17"/>
<path d="M57 45h2M48 42h2M51 51h2M50 30h2M55 41h2M51 47h2M55 38h2M56 33h2M45 43h2M53 40h2M48 36h2M51 41h2M45 38h2M51 31h2M53 48h2M55 56h2M47 45h2M56 34h2M53 51h2M51 38h2M49 54h2M50 48h2M52 36h2M52 42h2M54 36h2M51 42h2M50 39h2M54 32h2M46 41h2M56 26h2M54 46h2M53 30h2M54 32h2M53 36h2M56 36h2M49 46h2M54 29h2M57 41h2M53 50h2M54 43h2M57 43h2" stroke="#ec1a34" stroke-opacity="0.23"/>
</g></svg>
<path d="M0 0H32.45V32.45" stroke="#666" stroke-width="1" fill="none"/>
<path d="M0 0V32.45H32.45M-0.9 25.4H0.6M7.05 31.85V33.35M-0.9 18.34H0.6M14.11 31.85V33.35M-0.9 11.29H0.6M21.16 31.85V33.35M-0.9 4.23H0.6M28.22 31.85V33.35" stroke="#111" stroke-width="1" fill="none"/>
</g>
<g transform="translate(252.4 226.9)">
<svg x="0" y="0" width="32" height="32.45" viewBox="0 0 32.6 32.8" preserveAspectRatio="none" overflow="hidden"><g filter="url(#bl)">
<ellipse cx="6.5" cy="7.5" rx="4.5" ry="1.6" fill="#2a55ee" fill-opacity="0.72"/>
<ellipse cx="18.5" cy="7.4" rx="7" ry="1.1" fill="#ec1a34" fill-opacity="0.24"/>
<ellipse cx="6" cy="18" rx="4.5" ry="8" fill="#2a55ee" fill-opacity="0.24"/>
<ellipse cx="6.5" cy="26.5" rx="4" ry="4" fill="#2a55ee" fill-opacity="0.72"/>
<ellipse cx="18.5" cy="20" rx="8" ry="10" fill="#ec1a34" fill-opacity="0.1"/>
</g>
<g transform="scale(.5)" stroke-width="1.9" fill="none" filter="url(#db)">
<path d="M13 17h2M17 18h2M14 17h2M17 14h2M20 14h2M7 14h2M9 14h2M18 15h2M22 15h2M16 15h2M5 15h2M16 17h2M8 17h2M20 14h2M16 18h2M5 16h2M3 16h2M21 15h2M17 12h2M11 14h2M18 15h2M18 15h2M10 16h2M15 15h2M18 14h2M15 16h2M11 15h2M14 13h2M21 15h2M19 14h2M8 15h2M17 12h2M17 12h2M18 15h2M18 16h2M8 14h2M15 14h2M12 13h2" stroke="#2a55ee" stroke-opacity="0.86"/>
<path d="M41 18h2M44 15h2M28 14h2M46 15h2M41 14h2M33 15h2M32 14h2M38 14h2M20 15h2M47 15h2M32 13h2M29 14h2M43 15h2M34 13h2M36 14h2M49 15h2M35 17h2M49 15h2M26 16h2M32 15h2" stroke="#ec1a34" stroke-opacity="0.35"/>
<path d="M6 31h2M10 27h2M6 43h2M9 46h2M14 36h2M14 32h2M11 37h2M12 29h2M15 38h2M19 30h2M23 36h2M17 40h2M4 33h2M17 48h2M11 49h2M17 31h2M19 36h2M5 41h2M12 32h2M6 31h2M18 31h2M6 27h2M17 49h2M6 30h2M15 44h2M9 39h2M20 30h2M10 37h2M14 36h2M6 36h2M16 27h2M8 30h2M20 34h2M7 47h2M17 33h2M13 38h2M15 35h2M13 31h2M12 41h2M13 33h2M4 39h2M11 36h2M20 38h2M11 39h2M4 34h2M11 40h2M14 44h2M12 33h2M12 24h2M8 33h2M17 38h2M6 42h2M15 38h2M17 37h2M17 40h2M8 39h2M16 53h2M10 36h2M5 30h2M3 37h2M16 26h2M17 37h2M9 36h2M5 36h2M12 22h2M12 29h2M8 30h2M12 32h2M15 47h2M11 30h2M13 22h2M9 29h2M15 38h2M13 18h2M13 38h2M6 51h2M14 54h2M14 21h2M19 35h2M14 44h2M7 43h2M8 46h2M15 37h2M12 41h2M12 20h2M16 41h2M15 36h2M16 46h2M16 23h2M11 44h2M13 48h2M13 50h2M6 38h2M19 23h2M11 49h2" stroke="#2a55ee" stroke-opacity="0.35"/>
<path d="M13 54h2M15 51h2M12 59h2M15 50h2M12 49h2M18 54h2M14 55h2M8 56h2M14 56h2M10 52h2M7 51h2M10 61h2M14 53h2M15 54h2M10 53h2M10 54h2M15 62h2M16 45h2M17 53h2M13 49h2M17 58h2M10 57h2M10 52h2M20 54h2M13 46h2M11 56h2M10 50h2M13 48h2M5 52h2M15 55h2M5 52h2M20 49h2M14 56h2M13 56h2M14 55h2M15 49h2M19 52h2M13 44h2M10 52h2M9 55h2M16 57h2M14 49h2M15 53h2M11 55h2M3 55h2M13 57h2M11 52h2M17 53h2M13 52h2M6 50h2M15 52h2M18 51h2M13 50h2M17 54h2M16 53h2M9 54h2M14 53h2M11 52h2M13 48h2M10 50h2M18 48h2M18 54h2M15 62h2M19 49h2M9 45h2M13 56h2M18 50h2M11 60h2M13 52h2M19 50h2M13 51h2M15 53h2M13 52h2M12 56h2M10 55h2M17 56h2M17 55h2M13 55h2M18 57h2M17 55h2M7 47h2M8 49h2M14 52h2M20 55h2" stroke="#2a55ee" stroke-opacity="0.86"/>
<path d="M36 51h2M35 45h2M30 47h2M40 34h2M46 48h2M42 32h2M33 60h2M38 38h2M45 49h2M29 47h2M34 43h2M38 19h2M32 35h2M35 32h2M45 49h2M22 30h2M33 43h2M35 39h2M32 47h2M40 39h2M38 24h2M41 37h2M30 43h2M42 40h2M39 43h2M33 25h2M26 52h2M45 23h2M39 49h2M38 42h2M47 39h2M32 29h2M37 42h2M35 50h2M43 43h2M39 38h2M30 34h2M34 27h2M39 30h2M45 26h2M45 39h2M40 51h2M32 31h2M45 47h2M39 41h2M35 33h2M51 28h2M37 35h2M38 52h2M29 36h2M42 40h2M44 35h2M19 38h2M38 50h2M33 34h2M25 48h2M41 24h2M37 38h2M47 46h2M37 37h2M28 47h2M36 42h2M27 36h2M32 38h2M36 42h2M32 39h2M20 40h2M31 41h2M32 24h2M36 52h2M37 34h2M35 32h2M28 47h2M43 39h2M42 44h2M33 30h2M38 34h2M39 32h2M43 51h2M37 50h2M48 27h2M33 28h2M44 41h2M39 23h2M46 40h2M33 28h2M31 43h2M35 40h2M39 38h2M45 63h2M33 38h2M37 51h2M38 41h2M40 41h2M36 54h2M41 51h2M32 49h2M31 41h2M24 23h2M23 24h2M27 40h2M31 47h2M25 41h2M37 36h2M45 42h2M40 50h2M39 52h2M32 43h2M36 14h2M35 52h2M26 58h2M37 42h2M48 31h2M35 41h2M33 50h2M32 37h2M35 45h2M39 46h2M28 47h2M39 35h2M41 35h2M48 43h2M52 26h2M17 41h2M45 34h2M30 26h2M38 37h2M36 41h2M45 43h2M38 42h2M41 40h2M40 30h2M28 45h2M34 36h2M54 31h2M38 29h2M35 38h2M28 49h2M26 26h2M43 63h2M41 42h2M38 38h2M49 39h2M36 51h2M44 47h2M45 53h2M46 36h2M24 49h2M43 36h2M31 16h2" stroke="#ec1a34" stroke-opacity="0.21"/>
</g></svg>
<path d="M0 0H32V32.45" stroke="#666" stroke-width="1" fill="none"/>
<path d="M0 0V32.45H32M-0.9 25.4H0.6M6.96 31.85V33.35M-0.9 18.34H0.6M13.91 31.85V33.35M-0.9 11.29H0.6M20.87 31.85V33.35M-0.9 4.23H0.6M27.83 31.85V33.35" stroke="#111" stroke-width="1" fill="none"/>
</g>
<g transform="translate(290.2 226.9)">
<svg x="0" y="0" width="33.4" height="32.45" viewBox="0 0 32.6 32.8" preserveAspectRatio="none" overflow="hidden"><g filter="url(#bl)">
<ellipse cx="5.5" cy="7.5" rx="4" ry="1.6" fill="#6a3ab8" fill-opacity="0.72"/>
<ellipse cx="16" cy="7.6" rx="6" ry="0.8" fill="#ec1a34" fill-opacity="0.16"/>
<ellipse cx="5" cy="19" rx="3.8" ry="10" fill="#6a3ab8" fill-opacity="0.2"/>
<ellipse cx="5" cy="19" rx="3.5" ry="9" fill="#ec1a34" fill-opacity="0.1"/>
<ellipse cx="6.5" cy="29" rx="3" ry="2.2" fill="#2a55ee" fill-opacity="0.72"/>
<ellipse cx="2.5" cy="29" rx="1.8" ry="1.8" fill="#ec1a34" fill-opacity="0.28"/>
<ellipse cx="15" cy="20" rx="6" ry="10" fill="#ec1a34" fill-opacity="0.03"/>
</g>
<g transform="scale(.5)" stroke-width="1.9" fill="none" filter="url(#db)">
<path d="M12 15h2M10 13h2M15 14h2M13 15h2M15 15h2M13 16h2M10 15h2M11 15h2M13 15h2M11 16h2M12 13h2M16 12h2M19 13h2M6 14h2M15 14h2M14 17h2M9 15h2M13 16h2M9 12h2M9 14h2M11 15h2M8 13h2M9 15h2M13 16h2M15 17h2M9 17h2M6 16h2M11 12h2M17 18h2M15 13h2M2 16h2M12 14h2M8 12h2" stroke="#6a3ab8" stroke-opacity="0.86"/>
<path d="M32 13h2M23 15h2M40 16h2M38 16h2M37 15h2M34 15h2M29 15h2M31 14h2M23 15h2M36 16h2" stroke="#ec1a34" stroke-opacity="0.27"/>
<path d="M15 42h2M11 32h2M9 44h2M10 57h2M16 46h2M10 55h2M16 25h2M12 50h2M7 57h2M9 44h2M9 40h2M11 53h2M9 44h2M13 35h2M12 23h2M5 33h2M4 29h2M9 31h2M7 28h2M12 36h2M16 45h2M14 30h2M16 44h2M10 50h2M11 30h2M10 43h2M9 42h2M8 20h2M14 42h2M12 21h2M10 50h2M8 27h2M18 38h2M12 37h2M15 40h2M7 34h2M10 56h2M10 36h2M14 49h2M8 41h2M13 35h2M13 43h2M5 46h2M10 34h2M2 42h2M2 40h2M16 27h2M9 34h2M13 37h2M8 49h2M4 34h2M2 32h2M11 24h2M9 52h2M4 38h2M9 56h2M9 32h2M14 34h2M7 41h2M5 50h2M14 33h2M6 36h2M16 53h2M9 39h2M10 46h2M11 32h2M15 56h2M7 60h2M12 38h2M11 48h2M7 36h2M19 33h2M17 17h2M8 36h2M9 37h2M5 47h2M16 33h2M7 46h2M15 50h2M8 31h2M3 46h2M13 40h2M5 25h2M5 34h2M15 39h2M9 37h2M7 37h2M6 53h2M10 37h2M15 45h2" stroke="#6a3ab8" stroke-opacity="0.31"/>
<path d="M14 32h2M7 51h2M11 36h2M14 40h2M9 27h2M8 39h2M11 40h2M7 39h2M7 33h2M7 52h2M8 47h2M5 42h2M16 36h2M16 38h2M5 36h2M11 38h2M12 38h2M14 47h2M10 29h2M11 47h2M12 42h2M3 44h2M10 34h2M13 14h2M12 34h2M3 27h2M10 50h2M4 21h2M12 29h2M8 35h2M11 32h2M9 34h2M9 22h2M13 44h2M12 47h2M11 59h2M11 35h2M10 45h2M13 47h2M9 28h2M8 38h2M3 43h2M12 41h2M6 37h2M12 52h2M14 37h2M18 37h2M10 30h2M2 30h2M12 30h2M10 45h2M5 48h2M6 44h2M11 47h2M11 40h2M11 49h2M7 26h2M6 46h2" stroke="#ec1a34" stroke-opacity="0.2"/>
<path d="M14 58h2M11 57h2M15 58h2M12 60h2M13 55h2M16 59h2M12 59h2M16 58h2M13 60h2M10 56h2M12 59h2M14 56h2M12 61h2M16 59h2M15 59h2M10 55h2M18 58h2M17 60h2M13 60h2M12 56h2M16 56h2M14 59h2M20 60h2M16 57h2M17 56h2M12 55h2M13 57h2M11 56h2M11 59h2M10 55h2M12 57h2M17 59h2M12 57h2M19 59h2" stroke="#2a55ee" stroke-opacity="0.86"/>
<path d="M9 58h2M4 58h2M4 59h2M1 60h2M6 58h2M1 57h2M7 58h2M6 61h2M8 60h2" stroke="#ec1a34" stroke-opacity="0.4"/>
<path d="M38 24h2M30 33h2M26 39h2M41 45h2M37 45h2M27 53h2M25 52h2M33 38h2M27 29h2M35 36h2M38 36h2M33 41h2M22 38h2M36 34h2M35 30h2M19 51h2M27 35h2M27 43h2M37 20h2M37 39h2M30 55h2M18 22h2M22 54h2M23 44h2M29 28h2M34 41h2M26 27h2M26 47h2M32 33h2M32 45h2M24 35h2M40 43h2M28 49h2M30 48h2M33 41h2M16 50h2M38 45h2M29 50h2M31 53h2M28 48h2M34 49h2M30 33h2M26 37h2M26 42h2M31 35h2M30 37h2M28 33h2M27 44h2M24 50h2M24 29h2M31 52h2M34 31h2M36 25h2M36 47h2M23 51h2M39 44h2M42 35h2M33 39h2M26 45h2M29 35h2M36 39h2M28 54h2M22 27h2M27 53h2M24 44h2M20 25h2M45 44h2M29 51h2M24 32h2M33 34h2M21 41h2M33 48h2M29 38h2M35 45h2M24 36h2M26 30h2M22 22h2M30 34h2M34 49h2M33 49h2M35 47h2M30 50h2M37 20h2M37 48h2M32 33h2M35 35h2M36 38h2M22 32h2M21 52h2" stroke="#ec1a34" stroke-opacity="0.13"/>
</g></svg>
<path d="M0 0H33.4V32.45" stroke="#666" stroke-width="1" fill="none"/>
<path d="M0 0V32.45H33.4M-0.9 25.4H0.6M7.26 31.85V33.35M-0.9 18.34H0.6M14.52 31.85V33.35M-0.9 11.29H0.6M21.78 31.85V33.35M-0.9 4.23H0.6M29.04 31.85V33.35" stroke="#111" stroke-width="1" fill="none"/>
</g>
<g transform="translate(328.7 226.9)">
<svg x="0" y="0" width="32.8" height="32.45" viewBox="0 0 32.6 32.8" preserveAspectRatio="none" overflow="hidden"><g filter="url(#bl)">
<ellipse cx="8.5" cy="6.8" rx="4" ry="1.6" fill="#2a55ee" fill-opacity="0.72"/>
<ellipse cx="15" cy="6.8" rx="2.8" ry="1.6" fill="#ec1a34" fill-opacity="0.68"/>
<ellipse cx="8" cy="17.6" rx="2.5" ry="1.6" fill="#6a3ab8" fill-opacity="0.44"/>
<ellipse cx="7" cy="13" rx="2" ry="2" fill="#6a3ab8" fill-opacity="0.12"/>
<ellipse cx="7" cy="28.3" rx="5.5" ry="2.8" fill="#2a55ee" fill-opacity="0.72"/>
<ellipse cx="6" cy="25" rx="4.5" ry="2" fill="#6a3ab8" fill-opacity="0.24"/>
<ellipse cx="15" cy="28.3" rx="3" ry="2.5" fill="#ec1a34" fill-opacity="0.2"/>
</g>
<g transform="scale(.5)" stroke-width="1.9" fill="none" filter="url(#db)">
<path d="M11 11h2M11 14h2M21 13h2M16 11h2M18 13h2M17 12h2M17 13h2M14 15h2M17 14h2M11 13h2M15 16h2M18 14h2M17 14h2M15 12h2M14 14h2M18 11h2M10 15h2M17 15h2M20 13h2M18 14h2M14 11h2M21 14h2M14 14h2M17 15h2M23 16h2M19 15h2M13 12h2M12 14h2M19 13h2M18 15h2M17 12h2M16 14h2M21 15h2" stroke="#2a55ee" stroke-opacity="0.86"/>
<path d="M30 15h2M30 15h2M32 17h2M28 12h2M31 17h2M29 13h2M33 17h2M29 15h2M35 15h2M30 16h2M29 12h2M28 14h2M29 12h2M25 11h2M34 12h2M29 13h2M32 10h2M29 14h2M27 13h2M33 11h2M27 14h2M26 14h2" stroke="#ec1a34" stroke-opacity="0.82"/>
<path d="M14 33h2M17 38h2M18 36h2M15 35h2M14 34h2M15 36h2M14 37h2M21 36h2M19 35h2M12 34h2M14 33h2M13 36h2M15 36h2M17 33h2" stroke="#6a3ab8" stroke-opacity="0.57"/>
<path d="M17 26h2M16 26h2M15 25h2M12 23h2M13 27h2M16 28h2M13 28h2" stroke="#6a3ab8" stroke-opacity="0.23"/>
<path d="M11 55h2M13 57h2M9 53h2M13 58h2M10 54h2M18 52h2M8 57h2M7 55h2M7 57h2M8 60h2M11 57h2M11 55h2M10 60h2M18 55h2M8 59h2M20 53h2M16 57h2M9 56h2M11 58h2M6 54h2M13 56h2M4 58h2M11 58h2M9 60h2M13 58h2M17 57h2M13 56h2M12 59h2M18 52h2M17 57h2M14 58h2M1 57h2M7 59h2M2 56h2M8 59h2M18 58h2M20 57h2M12 55h2M6 57h2M8 62h2M19 58h2M28 56h2M11 57h2M11 59h2M10 59h2M7 61h2M24 58h2M3 62h2M24 53h2M3 56h2M17 59h2M15 57h2M19 55h2M16 62h2M17 53h2M13 58h2M19 59h2M21 55h2M14 58h2M19 53h2M7 57h2M17 57h2M15 56h2M15 55h2M14 55h2M21 59h2M20 55h2M21 54h2M19 54h2M20 54h2M9 58h2M15 56h2M11 57h2M18 54h2M17 54h2M8 58h2M11 55h2M20 58h2M19 59h2M19 60h2M11 56h2" stroke="#2a55ee" stroke-opacity="0.86"/>
<path d="M14 48h2M16 49h2M8 50h2M11 48h2M7 49h2M15 55h2M8 54h2M8 49h2M9 51h2M15 51h2M14 50h2M7 50h2M12 50h2M12 48h2M8 49h2M17 49h2M11 49h2M7 52h2M19 48h2M14 48h2M13 46h2M13 49h2M12 45h2" stroke="#6a3ab8" stroke-opacity="0.35"/>
<path d="M31 53h2M33 57h2M34 58h2M25 53h2M33 58h2M36 56h2M32 58h2M33 56h2M29 56h2M36 53h2M29 57h2M27 59h2M33 55h2M29 57h2M29 59h2M31 54h2M30 55h2M32 57h2" stroke="#ec1a34" stroke-opacity="0.31"/>
</g></svg>
<path d="M0 0H32.8V32.45" stroke="#666" stroke-width="1" fill="none"/>
<path d="M0 0V32.45H32.8M-0.9 25.4H0.6M7.13 31.85V33.35M-0.9 18.34H0.6M14.26 31.85V33.35M-0.9 11.29H0.6M21.39 31.85V33.35M-0.9 4.23H0.6M28.52 31.85V33.35" stroke="#111" stroke-width="1" fill="none"/>
</g>
<g transform="translate(366.9 226.9)">
<svg x="0" y="0" width="32.6" height="32.45" viewBox="0 0 32.6 32.8" preserveAspectRatio="none" overflow="hidden"><g filter="url(#bl)">
<ellipse cx="10" cy="5.2" rx="3.8" ry="1.5" fill="#6a3ab8" fill-opacity="0.72"/>
<ellipse cx="17.5" cy="5" rx="4" ry="1.3" fill="#ec1a34" fill-opacity="0.48"/>
<ellipse cx="4.5" cy="5.5" rx="2" ry="1" fill="#ec1a34" fill-opacity="0.28"/>
<ellipse cx="12" cy="15" rx="9" ry="7.5" fill="#ec1a34" fill-opacity="0.1"/>
<ellipse cx="9" cy="15" rx="3" ry="5" fill="#6a3ab8" fill-opacity="0.16"/>
<ellipse cx="9" cy="28" rx="4.8" ry="3.3" fill="#2a55ee" fill-opacity="0.76"/>
<ellipse cx="3" cy="28" rx="2.2" ry="2.8" fill="#ec1a34" fill-opacity="0.4"/>
<ellipse cx="19" cy="27" rx="5.5" ry="3.8" fill="#ec1a34" fill-opacity="0.72"/>
</g>
<g transform="scale(.5)" stroke-width="1.9" fill="none" filter="url(#db)">
<path d="M22 10h2M16 10h2M24 10h2M15 11h2M14 13h2M24 9h2M15 10h2M16 10h2M23 10h2M20 12h2M12 12h2M20 11h2M20 11h2M28 11h2M20 10h2M20 15h2M19 9h2M20 13h2M24 11h2M20 12h2M17 11h2M23 10h2M27 11h2M26 9h2M19 12h2M20 10h2M24 11h2M21 12h2M25 14h2M16 10h2" stroke="#6a3ab8" stroke-opacity="0.86"/>
<path d="M34 11h2M36 8h2M37 7h2M32 9h2M33 10h2M32 11h2M38 9h2M39 11h2M31 12h2M38 9h2M33 9h2M34 12h2M36 8h2M42 9h2M34 9h2M37 10h2M36 11h2M38 12h2M33 10h2M37 12h2" stroke="#ec1a34" stroke-opacity="0.61"/>
<path d="M8 12h2M10 10h2M11 12h2M9 11h2M8 11h2" stroke="#ec1a34" stroke-opacity="0.4"/>
<path d="M31 24h2M20 36h2M26 31h2M13 30h2M26 33h2M5 36h2M37 34h2M31 27h2M16 37h2M24 32h2M35 43h2M7 37h2M31 41h2M25 37h2M40 29h2M34 37h2M23 24h2M16 28h2M18 18h2M22 25h2M31 30h2M21 30h2M22 17h2M21 22h2M34 28h2M12 40h2M14 25h2M18 32h2M23 37h2M27 23h2M22 34h2M27 24h2M22 31h2M22 23h2M21 37h2M23 37h2M21 36h2M30 13h2M19 29h2M28 36h2M42 19h2M27 32h2M36 24h2M11 31h2M19 29h2M26 29h2M23 32h2M30 32h2M34 45h2M12 26h2M30 22h2M26 35h2M32 34h2M32 12h2M21 26h2M30 21h2M7 31h2M11 39h2M14 35h2M22 35h2M22 15h2M30 33h2M34 13h2M6 19h2M2 22h2M15 29h2M26 34h2M21 33h2M29 38h2M40 28h2M22 36h2M19 44h2M22 34h2M39 22h2M15 27h2M30 37h2M15 41h2M30 43h2M44 23h2M26 27h2M20 23h2M28 31h2M9 23h2M18 30h2M35 33h2M22 32h2M31 24h2M22 27h2M37 28h2M37 33h2M31 32h2M8 20h2M22 29h2M28 24h2M29 22h2M21 28h2M23 24h2M23 21h2M25 15h2M33 42h2M25 32h2M25 41h2M29 40h2M18 48h2M17 20h2M33 33h2M32 17h2M35 42h2M17 45h2M12 34h2M21 16h2M16 27h2M42 28h2M8 33h2M35 21h2M29 20h2M22 39h2M34 32h2M30 21h2M31 16h2M13 23h2M33 17h2M19 36h2M27 32h2" stroke="#ec1a34" stroke-opacity="0.2"/>
<path d="M19 35h2M16 33h2M20 33h2M21 23h2M17 33h2M16 39h2M19 25h2M21 35h2M20 36h2M19 33h2M20 31h2M15 28h2M19 37h2M17 26h2M16 33h2M15 28h2M17 34h2M13 34h2M20 22h2M17 30h2M22 33h2M22 21h2M24 26h2M16 27h2M16 33h2M16 33h2M16 21h2M20 28h2M20 29h2M19 34h2M14 35h2M19 32h2" stroke="#6a3ab8" stroke-opacity="0.27"/>
<path d="M25 56h2M13 54h2M18 58h2M16 58h2M14 52h2M13 53h2M13 58h2M22 53h2M23 62h2M30 57h2M15 60h2M18 56h2M29 61h2M22 60h2M16 60h2M16 60h2M15 55h2M14 53h2M28 55h2M18 55h2M20 56h2M22 57h2M16 58h2M16 55h2M20 53h2M9 57h2M28 54h2M22 53h2M22 60h2M24 52h2M26 60h2M18 59h2M12 58h2M14 53h2M13 58h2M14 56h2M14 54h2M16 57h2M16 57h2M14 55h2M12 51h2M27 53h2M21 55h2M14 51h2M26 62h2M21 56h2M10 55h2M14 54h2M26 55h2M16 59h2M24 57h2M17 57h2M18 58h2M18 55h2M27 56h2M18 61h2M7 59h2M16 56h2M14 63h2M20 56h2M20 61h2M18 55h2M28 57h2M17 50h2M20 60h2M16 56h2M24 52h2M20 54h2M20 54h2M20 53h2M17 61h2M15 57h2M22 54h2M21 58h2M19 59h2M10 57h2M24 56h2M13 52h2M19 56h2M29 53h2M24 55h2M22 56h2M19 53h2M16 56h2M21 61h2M23 51h2" stroke="#2a55ee" stroke-opacity="0.9"/>
<path d="M7 55h2M7 57h2M9 58h2M5 55h2M10 56h2M8 55h2M5 59h2M5 53h2M4 56h2M5 55h2M4 60h2M3 54h2M5 61h2M5 58h2M7 54h2M7 54h2M4 58h2M4 49h2M5 62h2M7 54h2M7 54h2" stroke="#ec1a34" stroke-opacity="0.53"/>
<path d="M34 51h2M37 50h2M29 53h2M36 54h2M38 47h2M44 57h2M36 52h2M29 52h2M36 55h2M41 53h2M40 55h2M41 55h2M44 52h2M29 45h2M33 58h2M34 54h2M32 52h2M32 49h2M42 50h2M44 57h2M36 56h2M44 56h2M39 54h2M32 50h2M48 58h2M43 60h2M40 58h2M39 50h2M47 51h2M35 55h2M43 55h2M39 54h2M33 57h2M47 55h2M44 55h2M32 50h2M37 51h2M50 56h2M36 51h2M36 51h2M41 54h2M34 48h2M40 53h2M39 54h2M40 50h2M36 48h2M37 52h2M38 55h2M47 54h2M37 53h2M39 51h2M35 55h2M46 48h2M36 45h2M46 48h2M39 47h2M38 55h2M42 51h2M35 56h2M45 54h2M47 57h2M41 61h2M31 62h2M45 49h2M32 52h2M38 56h2M28 53h2M39 57h2M39 60h2M46 52h2M45 54h2M35 62h2M38 53h2M39 56h2M43 54h2M37 53h2M40 58h2M36 49h2M34 53h2M42 49h2M47 54h2M40 56h2M31 61h2M33 57h2M41 59h2M34 53h2M51 58h2M33 53h2M28 59h2M31 58h2M31 57h2M41 59h2M44 55h2M41 53h2M43 52h2M30 60h2M34 51h2M42 54h2M43 62h2M42 54h2M44 58h2M39 53h2M37 51h2M35 51h2M39 56h2M36 49h2M40 53h2M32 53h2M32 53h2" stroke="#ec1a34" stroke-opacity="0.86"/>
</g></svg>
<path d="M0 0H32.6V32.45" stroke="#666" stroke-width="1" fill="none"/>
<path d="M0 0V32.45H32.6M-0.9 25.4H0.6M7.09 31.85V33.35M-0.9 18.34H0.6M14.17 31.85V33.35M-0.9 11.29H0.6M21.26 31.85V33.35M-0.9 4.23H0.6M28.35 31.85V33.35" stroke="#111" stroke-width="1" fill="none"/>
</g>
<g transform="translate(410.1 226.9)">
<svg x="0" y="0" width="32.5" height="32.45" viewBox="0 0 32.6 32.8" preserveAspectRatio="none" overflow="hidden"><g filter="url(#bl)">
<ellipse cx="7.5" cy="7.3" rx="4" ry="1.2" fill="#6a3ab8" fill-opacity="0.48"/>
<ellipse cx="8.5" cy="14.8" rx="2.7" ry="2" fill="#6a3ab8" fill-opacity="0.24"/>
<ellipse cx="9.5" cy="20" rx="3" ry="3" fill="#6a3ab8" fill-opacity="0.52"/>
<ellipse cx="6" cy="27.5" rx="5.5" ry="3.8" fill="#2a55ee" fill-opacity="0.76"/>
<ellipse cx="4" cy="21" rx="2.5" ry="3" fill="#6a3ab8" fill-opacity="0.24"/>
</g>
<g transform="scale(.5)" stroke-width="1.9" fill="none" filter="url(#db)">
<path d="M23 16h2M19 16h2M19 13h2M14 16h2M13 12h2M12 13h2M12 15h2M14 13h2M9 14h2M14 14h2M16 16h2M8 14h2M18 15h2M8 15h2M17 17h2M12 15h2M16 14h2M18 14h2M13 15h2" stroke="#6a3ab8" stroke-opacity="0.61"/>
<path d="M12 30h2M18 32h2M15 30h2M20 32h2M14 31h2M16 29h2M19 26h2M17 33h2M16 28h2M17 30h2M14 31h2M14 30h2M16 29h2M18 32h2" stroke="#6a3ab8" stroke-opacity="0.35"/>
<path d="M17 40h2M18 48h2M20 35h2M17 42h2M18 36h2M18 39h2M19 38h2M17 43h2M22 39h2M18 38h2M21 39h2M15 39h2M18 37h2M19 40h2M23 40h2M17 39h2M15 41h2M18 41h2M21 46h2M20 43h2M18 38h2M20 37h2M21 39h2M16 41h2M19 43h2M16 41h2M21 38h2M24 42h2M18 40h2M19 35h2M16 35h2M18 46h2M15 44h2M23 40h2M15 42h2M18 37h2M21 41h2" stroke="#6a3ab8" stroke-opacity="0.65"/>
<path d="M12 54h2M2 60h2M11 52h2M17 59h2M9 53h2M8 51h2M18 57h2M26 56h2M5 54h2M11 54h2M16 50h2M23 59h2M22 60h2M13 52h2M19 58h2M18 57h2M14 51h2M9 58h2M13 56h2M3 52h2M15 55h2M9 62h2M10 61h2M22 52h2M6 51h2M14 53h2M7 60h2M3 56h2M21 54h2M5 52h2M14 54h2M21 57h2M17 51h2M8 56h2M21 54h2M20 55h2M14 53h2M12 53h2M9 59h2M10 54h2M15 49h2M18 47h2M13 51h2M11 54h2M8 58h2M12 54h2M13 58h2M14 59h2M17 55h2M13 55h2M12 51h2M16 55h2M17 54h2M25 54h2M10 56h2M7 52h2M10 53h2M15 52h2M11 56h2M18 56h2M15 57h2M11 49h2M8 56h2M8 52h2M21 54h2M15 53h2M13 51h2M12 57h2M4 55h2M12 57h2M6 53h2M10 47h2M10 61h2M13 61h2M8 59h2M19 51h2M13 47h2M8 57h2M15 51h2M20 51h2M2 57h2M8 57h2M15 50h2M12 53h2M6 54h2M22 57h2M6 56h2M5 53h2M15 57h2M18 58h2M16 60h2M14 49h2M19 54h2M5 54h2M7 52h2M12 61h2M12 52h2M18 58h2M12 58h2M19 50h2M19 54h2M11 52h2M7 52h2M14 60h2M10 53h2M13 52h2M15 53h2M19 51h2M11 57h2M7 55h2M7 52h2M16 56h2M4 53h2" stroke="#2a55ee" stroke-opacity="0.9"/>
<path d="M8 46h2M9 47h2M7 40h2M9 45h2M9 44h2M10 48h2M7 42h2M11 43h2M8 47h2M5 39h2M9 44h2M5 43h2M7 42h2M8 43h2M10 44h2M11 49h2M9 34h2M13 43h2M8 37h2" stroke="#6a3ab8" stroke-opacity="0.35"/>
</g></svg>
<path d="M0 0H32.5V32.45" stroke="#666" stroke-width="1" fill="none"/>
<path d="M0 0V32.45H32.5M-0.9 25.4H0.6M7.07 31.85V33.35M-0.9 18.34H0.6M14.13 31.85V33.35M-0.9 11.29H0.6M21.2 31.85V33.35M-0.9 4.23H0.6M28.26 31.85V33.35" stroke="#111" stroke-width="1" fill="none"/>
</g>
<g transform="translate(445.9 226.9)">
<svg x="0" y="0" width="32.4" height="32.45" viewBox="0 0 32.6 32.8" preserveAspectRatio="none" overflow="hidden"><g filter="url(#bl)">
<ellipse cx="6" cy="5.5" rx="4.8" ry="3" fill="#2a55ee" fill-opacity="0.72"/>
<ellipse cx="7" cy="14" rx="3.5" ry="4.5" fill="#ec1a34" fill-opacity="0.2"/>
<ellipse cx="5.5" cy="14" rx="3.5" ry="4.5" fill="#6a3ab8" fill-opacity="0.28"/>
<ellipse cx="6" cy="24" rx="4.5" ry="7" fill="#2a55ee" fill-opacity="0.68"/>
<ellipse cx="15" cy="26" rx="4" ry="4" fill="#ec1a34" fill-opacity="0.56"/>
<ellipse cx="15" cy="19" rx="4" ry="3.5" fill="#ec1a34" fill-opacity="0.12"/>
</g>
<g transform="scale(.5)" stroke-width="1.9" fill="none" filter="url(#db)">
<path d="M18 10h2M6 12h2M9 12h2M11 12h2M14 16h2M15 18h2M8 10h2M15 11h2M15 10h2M7 8h2M5 13h2M17 14h2M15 12h2M11 9h2M16 14h2M12 11h2M9 7h2M18 11h2M18 11h2M8 9h2M7 15h2M14 14h2M11 11h2M14 10h2M13 8h2M16 11h2M7 9h2M13 11h2M17 6h2M15 14h2M18 12h2M11 9h2M13 9h2M17 12h2M12 8h2M13 15h2M11 10h2M15 15h2M13 9h2M7 8h2M19 12h2M10 11h2M14 13h2M11 9h2M4 8h2M5 9h2M21 16h2M21 9h2M13 15h2M12 9h2M19 16h2M2 9h2M2 14h2M11 9h2M13 18h2M22 16h2M5 5h2M13 12h2M17 9h2M11 15h2M17 15h2M7 8h2M9 13h2M12 12h2M8 11h2M10 12h2M13 7h2M16 13h2M4 13h2M9 13h2M3 10h2M24 12h2M13 11h2M11 16h2M16 9h2M15 13h2" stroke="#2a55ee" stroke-opacity="0.86"/>
<path d="M12 33h2M18 33h2M16 25h2M14 29h2M12 23h2M12 30h2M8 21h2M15 24h2M16 33h2M18 26h2M10 25h2M15 35h2M13 23h2M13 26h2M12 28h2M19 29h2M18 27h2M11 23h2M14 32h2M11 24h2M18 30h2M9 26h2M19 35h2M8 26h2M14 24h2M15 31h2M14 25h2M19 26h2M12 25h2M8 29h2M7 29h2M18 27h2M15 26h2M16 31h2M15 27h2M13 37h2M15 30h2M14 32h2" stroke="#ec1a34" stroke-opacity="0.31"/>
<path d="M7 27h2M5 37h2M9 20h2M11 22h2M11 20h2M17 24h2M9 27h2M11 40h2M14 35h2M9 32h2M15 29h2M14 22h2M16 29h2M12 24h2M12 30h2M9 26h2M4 36h2M8 25h2M11 34h2M11 23h2M12 27h2M13 34h2M16 35h2M8 37h2M13 28h2M11 23h2M10 26h2M6 21h2M15 35h2M17 28h2M12 23h2M15 23h2M10 35h2M5 28h2M6 21h2M16 30h2M11 28h2M8 26h2M14 33h2M15 25h2M14 32h2M13 28h2M14 28h2M11 29h2M9 31h2" stroke="#6a3ab8" stroke-opacity="0.4"/>
<path d="M17 55h2M8 55h2M19 50h2M8 38h2M20 36h2M17 48h2M17 46h2M10 49h2M12 60h2M13 48h2M10 59h2M12 56h2M13 40h2M14 44h2M13 60h2M10 39h2M9 45h2M16 33h2M14 37h2M15 54h2M8 49h2M12 43h2M7 52h2M15 51h2M18 50h2M18 43h2M19 47h2M5 50h2M10 39h2M21 40h2M19 41h2M15 44h2M15 42h2M9 56h2M15 49h2M16 43h2M21 50h2M14 44h2M4 55h2M16 51h2M11 38h2M21 39h2M11 56h2M13 57h2M9 50h2M12 49h2M17 52h2M17 45h2M12 51h2M18 53h2M16 47h2M15 46h2M12 37h2M14 42h2M16 51h2M8 52h2M17 44h2M11 59h2M11 53h2M13 38h2M12 42h2M8 47h2M15 46h2M14 48h2M6 54h2M9 42h2M14 42h2M3 47h2M8 49h2M15 44h2M17 47h2M11 43h2M14 55h2M16 43h2M13 50h2M7 43h2M11 59h2M7 50h2M7 55h2M15 41h2M10 57h2M13 51h2M7 39h2M11 51h2M16 39h2M10 53h2M4 48h2M14 44h2M13 40h2M11 53h2M11 40h2M12 48h2M14 45h2M18 60h2M12 44h2M24 48h2M9 51h2M17 56h2M16 48h2M16 47h2M19 51h2M9 53h2M12 54h2M6 50h2M8 48h2M12 51h2M11 57h2M17 48h2M7 50h2M6 41h2M3 42h2M9 40h2M7 42h2M7 61h2M17 43h2M10 53h2M14 45h2M12 44h2M18 50h2M12 52h2M13 47h2M12 42h2M3 55h2M19 43h2M14 55h2M14 40h2M19 62h2M6 60h2M14 46h2M14 56h2M15 54h2M11 50h2M11 44h2M18 54h2M12 42h2M16 43h2M10 51h2M15 49h2M11 45h2M13 53h2M12 29h2M13 50h2M21 61h2M10 49h2M9 48h2M14 49h2M9 47h2M16 46h2M16 45h2M14 51h2M14 46h2M3 48h2M9 50h2M7 40h2M10 53h2M7 49h2M15 43h2" stroke="#2a55ee" stroke-opacity="0.82"/>
<path d="M37 54h2M25 54h2M34 55h2M30 57h2M30 46h2M34 51h2M32 55h2M30 50h2M28 54h2M36 55h2M26 55h2M29 59h2M26 51h2M22 59h2M28 51h2M29 56h2M38 56h2M35 58h2M36 56h2M36 58h2M25 56h2M25 51h2M31 61h2M30 48h2M32 57h2M25 52h2M24 51h2M28 51h2M31 49h2M25 51h2M26 53h2M31 51h2M23 54h2M35 46h2M29 47h2M27 51h2M35 52h2M30 47h2M32 51h2M35 56h2M31 53h2M29 52h2M23 50h2M28 51h2M28 58h2M26 56h2M26 52h2M23 52h2M30 52h2M29 59h2M38 54h2M30 50h2M28 49h2M33 58h2M24 46h2M28 54h2M34 51h2M31 53h2M37 50h2M30 51h2M33 49h2M30 50h2M25 48h2M30 47h2M32 55h2M30 52h2M28 55h2M30 54h2M28 55h2M32 46h2" stroke="#ec1a34" stroke-opacity="0.69"/>
<path d="M26 43h2M20 38h2M28 41h2M27 35h2M28 41h2M36 40h2M32 39h2M34 39h2M26 46h2M29 40h2M30 36h2M26 39h2M23 32h2M30 32h2M31 35h2M31 41h2M29 43h2M31 37h2M30 35h2M28 38h2M23 37h2M32 37h2M25 34h2M37 36h2M28 35h2M35 41h2M32 40h2" stroke="#ec1a34" stroke-opacity="0.23"/>
</g></svg>
<path d="M0 0H32.4V32.45" stroke="#666" stroke-width="1" fill="none"/>
<path d="M0 0V32.45H32.4M-0.9 25.4H0.6M7.04 31.85V33.35M-0.9 18.34H0.6M14.09 31.85V33.35M-0.9 11.29H0.6M21.13 31.85V33.35M-0.9 4.23H0.6M28.17 31.85V33.35" stroke="#111" stroke-width="1" fill="none"/>
</g>
<g transform="translate(484 226.9)">
<svg x="0" y="0" width="32.5" height="32.45" viewBox="0 0 32.6 32.8" preserveAspectRatio="none" overflow="hidden"><g filter="url(#bl)">
<ellipse cx="8" cy="6" rx="3.8" ry="1.3" fill="#1a1a1a" fill-opacity="0.16"/>
<ellipse cx="4.5" cy="15.5" rx="2" ry="1.5" fill="#6a3ab8" fill-opacity="0.16"/>
<ellipse cx="5.5" cy="20.5" rx="5" ry="5" fill="#ec1a34" fill-opacity="0.28"/>
<ellipse cx="4" cy="21" rx="3" ry="4" fill="#6a3ab8" fill-opacity="0.24"/>
<ellipse cx="4.5" cy="27.5" rx="4.3" ry="3.5" fill="#2a55ee" fill-opacity="0.76"/>
<ellipse cx="14" cy="26" rx="5.5" ry="3.8" fill="#ec1a34" fill-opacity="0.24"/>
</g>
<g transform="scale(.5)" stroke-width="1.9" fill="none" filter="url(#db)">
<path d="M21 12h2M21 12h2M19 12h2M21 12h2M17 12h2M16 10h2M13 11h2M21 12h2M15 10h2M9 11h2" stroke="#1a1a1a" stroke-opacity="0.27"/>
<path d="M7 30h2M11 32h2M11 33h2M6 32h2M7 30h2M8 31h2" stroke="#6a3ab8" stroke-opacity="0.27"/>
<path d="M21 40h2M8 43h2M4 43h2M15 42h2M9 41h2M5 42h2M8 45h2M8 39h2M8 42h2M18 44h2M10 44h2M11 46h2M16 47h2M9 28h2M15 42h2M7 32h2M11 51h2M17 43h2M14 41h2M10 36h2M21 35h2M5 43h2M9 43h2M3 45h2M3 46h2M13 43h2M15 41h2M17 49h2M11 31h2M13 39h2M5 38h2M10 48h2M8 44h2M6 45h2M14 48h2M8 45h2M5 44h2M21 39h2M8 41h2M20 45h2M15 41h2M10 41h2M4 33h2M7 34h2M10 34h2M12 41h2M11 33h2M15 34h2M11 42h2M10 41h2M9 37h2M8 33h2M17 39h2M8 41h2M11 43h2M14 40h2M11 40h2M8 42h2M11 38h2M12 32h2M5 39h2M4 44h2M1 44h2M12 43h2M8 39h2M13 48h2M14 41h2M11 45h2M7 47h2M8 40h2" stroke="#ec1a34" stroke-opacity="0.4"/>
<path d="M10 41h2M5 49h2M8 36h2M8 45h2M7 39h2M9 47h2M5 42h2M10 40h2M11 41h2M11 43h2M8 44h2M7 46h2M8 48h2M9 42h2M10 45h2M10 39h2M8 39h2M8 43h2M11 45h2M6 36h2M9 44h2M7 34h2M7 40h2M7 32h2M12 43h2M10 48h2M8 37h2M10 37h2M12 41h2M10 44h2M9 48h2" stroke="#6a3ab8" stroke-opacity="0.35"/>
<path d="M12 58h2M21 55h2M4 51h2M8 50h2M12 56h2M8 61h2M11 57h2M9 59h2M11 58h2M16 53h2M15 58h2M6 50h2M7 62h2M13 54h2M6 57h2M12 54h2M11 55h2M9 55h2M13 58h2M13 62h2M6 54h2M5 55h2M6 49h2M1 59h2M11 50h2M14 52h2M16 60h2M10 53h2M4 56h2M11 53h2M8 52h2M11 54h2M7 61h2M12 57h2M11 54h2M11 55h2M4 53h2M13 54h2M3 57h2M5 56h2M9 53h2M5 58h2M9 58h2M6 62h2M11 55h2M9 57h2M11 55h2M17 49h2M9 47h2M4 58h2M13 51h2M12 56h2M14 58h2M7 60h2M9 51h2M16 56h2M14 54h2M12 50h2M9 52h2M12 52h2M6 55h2M11 51h2M5 51h2M14 55h2M13 57h2M3 56h2M9 59h2M16 52h2M9 50h2M6 56h2M14 56h2M13 50h2M11 57h2M9 60h2M11 53h2M8 58h2M15 51h2M9 61h2M5 62h2M9 55h2M7 53h2M12 56h2" stroke="#2a55ee" stroke-opacity="0.9"/>
<path d="M27 46h2M24 49h2M31 48h2M34 51h2M33 54h2M40 50h2M30 50h2M33 54h2M24 51h2M23 52h2M31 53h2M29 60h2M18 52h2M24 50h2M38 56h2M20 53h2M29 58h2M29 53h2M37 50h2M31 55h2M33 47h2M33 52h2M28 50h2M38 50h2M22 50h2M29 55h2M25 50h2M25 51h2M31 53h2M23 54h2M29 49h2M19 46h2M26 52h2M32 50h2M24 58h2M27 49h2M27 55h2M31 51h2M32 44h2M29 51h2M33 51h2M26 46h2M33 50h2M28 57h2M32 55h2M23 53h2M30 51h2M32 52h2M25 51h2M19 51h2M32 51h2M31 49h2M18 54h2M30 46h2M31 45h2" stroke="#ec1a34" stroke-opacity="0.35"/>
</g></svg>
<path d="M0 0H32.5V32.45" stroke="#666" stroke-width="1" fill="none"/>
<path d="M0 0V32.45H32.5M-0.9 25.4H0.6M7.07 31.85V33.35M-0.9 18.34H0.6M14.13 31.85V33.35M-0.9 11.29H0.6M21.2 31.85V33.35M-0.9 4.23H0.6M28.26 31.85V33.35" stroke="#111" stroke-width="1" fill="none"/>
</g>
<g transform="translate(216.35 265.2)">
<svg x="0" y="0" width="32.45" height="32.1" viewBox="0 0 32.6 32.8" preserveAspectRatio="none" overflow="hidden"><g filter="url(#bl)">
<ellipse cx="4" cy="17" rx="2.5" ry="13" fill="#2a55ee" fill-opacity="0.24"/>
<ellipse cx="9" cy="15" rx="2.3" ry="13.5" fill="#2a55ee" fill-opacity="0.72"/>
<ellipse cx="17" cy="6" rx="5" ry="3" fill="#ec1a34" fill-opacity="0.48"/>
<ellipse cx="22.5" cy="14" rx="4" ry="9" fill="#ec1a34" fill-opacity="0.68"/>
<ellipse cx="16.5" cy="18" rx="3.5" ry="11" fill="#ec1a34" fill-opacity="0.2"/>
<ellipse cx="20" cy="25" rx="4" ry="4" fill="#ec1a34" fill-opacity="0.4"/>
</g>
<g transform="scale(.5)" stroke-width="1.9" fill="none" filter="url(#db)">
<path d="M7 50h2M8 58h2M6 36h2M12 20h2M10 19h2M9 46h2M8 57h2M12 35h2M9 44h2M5 20h2M5 33h2M5 25h2M10 41h2M11 36h2M7 43h2M12 54h2M9 29h2M9 26h2M7 29h2M7 48h2M5 51h2M8 31h2M7 32h2M9 46h2M7 49h2M12 32h2M3 27h2M10 52h2M14 28h2M5 33h2M6 43h2M9 34h2M9 27h2M5 28h2M11 38h2M14 37h2M11 28h2M8 13h2M8 39h2M6 44h2M4 35h2M8 17h2M10 34h2M4 14h2M12 36h2M6 36h2M9 26h2M8 50h2M7 28h2M6 33h2M8 30h2M10 22h2M9 45h2M8 18h2M9 39h2M11 41h2M8 28h2M10 20h2M9 26h2M9 50h2M10 26h2M5 44h2M10 35h2M5 51h2M4 40h2M5 44h2M7 32h2M6 26h2M7 21h2M9 37h2M5 25h2M8 26h2M9 36h2M11 25h2M12 46h2M5 17h2M9 63h2M4 41h2M12 51h2M11 30h2M7 31h2M6 17h2M10 14h2M8 57h2" stroke="#2a55ee" stroke-opacity="0.35"/>
<path d="M17 26h2M19 32h2M20 42h2M14 27h2M15 28h2M17 28h2M15 31h2M18 39h2M20 26h2M19 33h2M13 15h2M19 48h2M16 24h2M17 36h2M18 38h2M19 14h2M22 27h2M19 8h2M17 18h2M21 30h2M19 43h2M16 31h2M14 12h2M21 39h2M20 15h2M21 23h2M19 22h2M21 43h2M17 19h2M22 41h2M16 48h2M15 21h2M23 28h2M17 12h2M19 10h2M20 54h2M21 43h2M17 31h2M18 40h2M17 27h2M18 40h2M18 13h2M17 29h2M15 11h2M16 20h2M24 33h2M13 33h2M15 37h2M18 28h2M19 32h2M16 30h2M16 55h2M15 34h2M17 28h2M18 29h2M17 7h2M17 46h2M16 14h2M19 40h2M21 17h2M19 46h2M17 34h2M19 31h2M16 16h2M17 23h2M16 41h2M18 22h2M15 36h2M19 53h2M20 22h2M17 42h2M21 18h2M16 25h2M22 19h2M18 42h2M21 35h2M17 32h2M19 31h2M22 8h2M20 20h2M19 46h2M22 6h2M23 29h2M20 35h2M18 43h2M19 22h2M16 32h2M19 39h2M18 60h2M24 27h2M18 10h2M17 42h2M16 39h2M14 32h2M16 28h2M16 44h2M17 37h2M16 8h2M22 38h2M20 16h2M20 36h2M18 21h2M17 20h2M15 7h2M18 42h2M13 34h2M17 18h2M17 49h2M18 40h2M17 39h2M18 15h2M20 51h2M15 54h2M17 28h2M21 36h2M16 28h2M20 19h2M16 12h2M16 37h2M19 33h2M19 23h2M15 23h2M20 38h2M17 15h2M20 40h2M20 53h2M19 12h2M17 42h2M18 38h2M16 38h2M18 48h2M14 43h2M21 15h2M21 14h2M18 44h2M18 23h2M14 29h2M16 16h2M19 30h2M13 26h2M16 9h2M17 35h2M13 21h2M18 22h2M17 18h2M18 45h2M17 53h2M19 25h2M12 30h2M14 21h2M21 31h2M18 40h2M18 41h2M19 54h2M16 21h2M16 11h2M18 30h2M13 33h2M18 36h2M14 27h2M16 59h2M17 22h2" stroke="#2a55ee" stroke-opacity="0.86"/>
<path d="M30 12h2M27 11h2M40 9h2M34 8h2M29 11h2M34 13h2M24 8h2M36 9h2M32 7h2M35 17h2M30 13h2M32 8h2M31 13h2M31 9h2M37 13h2M38 15h2M33 10h2M25 11h2M41 15h2M31 13h2M33 12h2M32 12h2M27 10h2M37 16h2M36 15h2M34 15h2M40 10h2M43 6h2M39 9h2M28 14h2M35 17h2M37 15h2M34 10h2M26 14h2M32 13h2M35 9h2M37 13h2M31 11h2M32 15h2M47 12h2M29 16h2M38 9h2M35 12h2M34 10h2M32 12h2M34 11h2M41 17h2M36 14h2M37 10h2M39 9h2M30 16h2M39 13h2M30 11h2M35 15h2M35 15h2M31 13h2M37 8h2M35 11h2M31 12h2" stroke="#ec1a34" stroke-opacity="0.61"/>
<path d="M45 30h2M47 46h2M48 40h2M51 16h2M47 28h2M41 26h2M48 28h2M40 22h2M52 23h2M49 29h2M43 25h2M46 35h2M44 21h2M51 22h2M49 33h2M45 13h2M46 18h2M43 34h2M42 27h2M41 26h2M44 20h2M43 31h2M38 32h2M51 16h2M50 31h2M47 10h2M42 30h2M47 30h2M43 12h2M43 24h2M43 20h2M51 26h2M49 25h2M47 23h2M46 31h2M38 31h2M48 24h2M50 27h2M48 49h2M46 22h2M46 39h2M41 35h2M50 34h2M48 14h2M49 43h2M40 28h2M51 23h2M46 31h2M43 23h2M51 35h2M44 33h2M44 32h2M50 23h2M49 33h2M39 30h2M47 17h2M47 14h2M40 27h2M42 38h2M46 37h2M43 32h2M42 15h2M48 29h2M43 32h2M45 22h2M47 12h2M52 22h2M37 39h2M48 23h2M44 26h2M45 23h2M46 21h2M51 31h2M44 26h2M47 22h2M45 26h2M37 28h2M43 29h2M49 18h2M43 37h2M43 35h2M46 32h2M48 25h2M42 37h2M48 25h2M44 37h2M43 18h2M46 5h2M42 17h2M47 26h2M41 34h2M43 16h2M42 12h2M49 34h2M41 29h2M47 17h2M47 22h2M52 27h2M46 42h2M43 31h2M41 9h2M40 18h2M50 22h2M42 40h2M50 14h2M44 30h2M47 30h2M46 36h2M40 36h2M46 40h2M43 37h2M46 31h2M47 43h2M43 46h2M46 22h2M46 22h2M40 21h2M43 36h2M43 33h2M48 21h2M43 19h2M49 26h2M48 27h2M45 25h2M47 9h2M43 45h2M47 24h2M43 28h2M50 27h2M49 25h2M44 25h2M45 34h2M47 24h2M50 28h2M42 27h2M39 28h2M44 33h2M47 23h2M44 29h2M45 23h2M51 30h2M47 40h2M48 31h2M41 21h2M40 13h2M47 30h2M47 30h2M42 26h2M46 38h2M43 28h2M48 35h2M43 17h2M52 45h2M42 18h2M43 29h2M35 20h2M43 19h2M45 41h2M41 23h2M45 17h2M52 29h2M46 37h2M47 26h2M40 15h2M45 45h2M40 22h2M43 33h2M43 33h2M49 35h2M42 37h2M45 20h2M49 39h2M46 32h2M50 20h2M48 20h2M48 34h2M44 29h2M50 23h2M46 30h2M41 34h2M50 26h2M45 28h2" stroke="#ec1a34" stroke-opacity="0.82"/>
<path d="M36 17h2M36 38h2M29 32h2M32 21h2M30 37h2M31 15h2M26 38h2M28 40h2M33 32h2M33 36h2M34 39h2M33 23h2M27 30h2M38 20h2M35 46h2M33 43h2M31 26h2M28 22h2M27 27h2M31 34h2M35 14h2M30 21h2M31 54h2M37 33h2M36 31h2M37 36h2M31 46h2M35 23h2M37 19h2M34 39h2M31 38h2M33 15h2M30 28h2M40 29h2M28 24h2M39 44h2M29 25h2M40 26h2M33 43h2M34 42h2M28 42h2M37 39h2M33 33h2M33 50h2M31 37h2M37 34h2M36 24h2M32 29h2M32 29h2M30 38h2M33 59h2M37 24h2M33 31h2M35 31h2M29 39h2M33 33h2M31 20h2M28 34h2M34 20h2M32 22h2M33 18h2M35 40h2M33 31h2M40 38h2M29 23h2M36 41h2M34 43h2M34 23h2M30 43h2M33 32h2M39 49h2M33 32h2M37 32h2M31 38h2M32 46h2M37 50h2M31 29h2M33 32h2M30 28h2M31 40h2M31 15h2M29 33h2M33 16h2M34 37h2M35 44h2M34 42h2M35 29h2M34 37h2M33 28h2M36 25h2M25 31h2M32 30h2M39 58h2" stroke="#ec1a34" stroke-opacity="0.31"/>
<path d="M43 47h2M38 52h2M39 47h2M35 45h2M41 56h2M38 56h2M35 46h2M40 48h2M40 48h2M37 42h2M40 44h2M47 57h2M44 52h2M41 44h2M36 44h2M40 51h2M43 52h2M39 52h2M35 49h2M32 54h2M41 46h2M40 48h2M38 49h2M45 45h2M34 58h2M45 51h2M37 51h2M42 50h2M41 52h2M43 52h2M39 54h2M41 46h2M41 42h2M44 49h2M38 50h2M32 50h2M43 54h2M43 44h2M46 52h2M33 48h2M37 49h2M43 49h2M45 58h2M46 49h2M45 52h2M30 49h2M38 50h2M42 50h2M43 51h2M44 52h2M43 49h2M39 51h2M36 53h2M38 51h2M39 47h2M40 46h2" stroke="#ec1a34" stroke-opacity="0.53"/>
</g></svg>
<path d="M0 0H32.45V32.1" stroke="#666" stroke-width="1" fill="none"/>
<path d="M0 0V32.1H32.45M-0.9 25.12H0.6M7.05 31.5V33M-0.9 18.14H0.6M14.11 31.5V33M-0.9 11.17H0.6M21.16 31.5V33M-0.9 4.19H0.6M28.22 31.5V33" stroke="#111" stroke-width="1" fill="none"/>
</g>
<g transform="translate(252.4 265.2)">
<svg x="0" y="0" width="32" height="32.1" viewBox="0 0 32.6 32.8" preserveAspectRatio="none" overflow="hidden"><g filter="url(#bl)">
<ellipse cx="2.5" cy="17" rx="1.8" ry="12" fill="#6a3ab8" fill-opacity="0.32"/>
<ellipse cx="7.5" cy="16.5" rx="4" ry="11.5" fill="#2a55ee" fill-opacity="0.76"/>
<ellipse cx="16" cy="16" rx="4" ry="13" fill="#ec1a34" fill-opacity="0.76"/>
</g>
<g transform="scale(.5)" stroke-width="1.9" fill="none" filter="url(#db)">
<path d="M3 35h2M6 24h2M4 51h2M3 35h2M4 40h2M6 49h2M7 23h2M4 26h2M4 37h2M5 24h2M2 62h2M3 20h2M4 29h2M5 25h2M4 37h2M7 38h2M7 35h2M4 37h2M5 38h2M6 50h2M5 32h2M3 35h2M4 38h2M4 37h2M4 18h2M4 25h2M7 31h2M5 45h2M6 30h2M5 6h2M6 23h2M2 41h2M4 13h2M6 49h2M5 25h2M6 56h2M3 29h2M4 35h2M5 40h2M4 38h2M9 16h2M4 31h2M4 30h2M4 39h2M4 34h2M5 43h2M1 40h2M2 24h2M5 19h2M6 36h2M6 45h2M3 57h2M5 40h2M3 21h2M7 38h2M2 42h2M6 10h2M1 28h2M4 36h2M7 51h2M4 21h2M8 32h2M4 51h2M6 31h2M7 30h2" stroke="#6a3ab8" stroke-opacity="0.44"/>
<path d="M19 42h2M16 20h2M14 52h2M20 43h2M11 45h2M12 33h2M17 53h2M12 36h2M9 22h2M19 40h2M19 49h2M22 39h2M11 28h2M12 31h2M13 35h2M12 45h2M12 26h2M10 20h2M15 32h2M13 33h2M17 19h2M10 39h2M12 32h2M16 31h2M18 35h2M17 42h2M12 25h2M18 31h2M25 21h2M8 27h2M23 45h2M12 37h2M19 27h2M16 34h2M16 26h2M14 29h2M19 5h2M10 48h2M17 28h2M20 29h2M14 32h2M20 9h2M12 30h2M19 45h2M13 18h2M16 30h2M17 33h2M15 36h2M15 41h2M17 20h2M16 46h2M17 38h2M7 22h2M14 28h2M10 21h2M20 26h2M15 55h2M12 10h2M17 54h2M12 34h2M15 38h2M17 29h2M13 26h2M15 44h2M16 29h2M12 40h2M9 34h2M19 21h2M20 14h2M15 31h2M19 38h2M16 43h2M10 30h2M16 13h2M16 48h2M11 35h2M14 15h2M14 22h2M20 41h2M15 43h2M16 36h2M5 43h2M13 27h2M18 31h2M14 29h2M23 26h2M17 23h2M11 37h2M20 26h2M15 58h2M9 42h2M21 26h2M20 48h2M13 38h2M14 34h2M5 33h2M17 59h2M18 33h2M16 39h2M15 33h2M16 53h2M11 38h2M13 29h2M16 24h2M12 32h2M15 40h2M12 41h2M21 46h2M12 48h2M15 36h2M18 32h2M24 35h2M15 34h2M13 25h2M22 29h2M12 18h2M11 56h2M18 29h2M16 34h2M10 30h2M18 9h2M12 41h2M8 48h2M15 39h2M18 58h2M15 44h2M20 61h2M17 36h2M13 21h2M12 41h2M17 29h2M12 30h2M11 33h2M12 38h2M18 34h2M15 22h2M16 37h2M15 26h2M20 28h2M18 37h2M18 29h2M11 23h2M17 28h2M10 31h2M10 34h2M17 34h2M18 30h2M16 33h2M23 34h2M13 55h2M20 33h2M17 25h2M19 18h2M17 23h2M17 43h2M14 41h2M17 29h2M12 23h2M10 35h2M5 34h2M12 15h2M15 47h2M14 16h2M15 30h2M21 45h2M13 38h2M13 36h2M15 21h2M17 22h2M16 33h2M16 29h2M12 34h2M8 47h2M16 45h2M13 32h2M12 32h2M24 30h2M6 30h2M16 34h2M8 46h2M16 22h2M16 14h2M8 34h2M15 26h2M18 36h2M16 21h2M12 50h2M16 41h2M21 51h2M15 44h2M13 31h2M21 20h2M17 37h2M17 26h2M9 48h2M14 47h2M9 41h2M15 12h2M16 49h2M19 61h2M14 47h2M15 48h2M15 37h2M21 34h2M15 39h2M13 12h2M15 48h2M21 20h2M9 37h2M10 21h2M18 30h2M7 51h2M15 42h2M17 24h2M14 31h2M20 31h2M17 36h2M19 41h2M14 18h2M15 10h2M10 32h2M11 19h2M19 22h2M10 42h2M17 18h2M13 46h2M12 31h2M16 30h2M17 27h2M12 56h2M10 39h2M19 37h2M11 27h2M14 36h2M17 35h2M15 21h2M21 22h2M9 34h2M14 10h2M19 39h2M20 44h2M8 36h2M21 46h2M16 36h2M15 43h2M22 44h2M21 30h2M11 33h2M14 46h2M8 30h2M12 41h2M18 18h2" stroke="#2a55ee" stroke-opacity="0.9"/>
<path d="M36 39h2M30 40h2M29 30h2M30 30h2M32 40h2M31 24h2M34 24h2M33 36h2M35 18h2M30 34h2M31 24h2M37 19h2M29 25h2M34 17h2M30 49h2M29 7h2M29 15h2M35 56h2M29 29h2M34 27h2M23 18h2M36 28h2M40 19h2M30 36h2M39 48h2M37 33h2M30 37h2M32 36h2M31 50h2M33 46h2M36 49h2M25 26h2M31 38h2M34 30h2M26 25h2M31 31h2M40 28h2M35 44h2M32 26h2M30 60h2M25 34h2M27 19h2M32 52h2M35 32h2M39 24h2M37 42h2M40 29h2M34 27h2M33 14h2M35 37h2M34 27h2M29 29h2M39 30h2M28 32h2M37 5h2M35 13h2M27 34h2M32 41h2M27 36h2M36 37h2M25 49h2M30 52h2M38 11h2M25 7h2M34 32h2M31 54h2M29 25h2M28 55h2M36 42h2M27 40h2M32 48h2M33 36h2M28 11h2M22 24h2M35 51h2M26 33h2M28 27h2M32 9h2M30 28h2M34 30h2M36 42h2M27 43h2M37 38h2M36 33h2M32 22h2M30 48h2M34 47h2M36 48h2M28 44h2M36 21h2M27 18h2M34 31h2M33 51h2M32 30h2M29 38h2M35 45h2M31 42h2M35 26h2M22 18h2M33 21h2M33 41h2M32 24h2M33 10h2M39 37h2M31 27h2M36 46h2M31 23h2M35 7h2M31 47h2M31 40h2M32 22h2M28 23h2M32 38h2M30 3h2M36 7h2M27 28h2M29 20h2M37 23h2M33 35h2M35 37h2M27 43h2M27 23h2M33 19h2M33 41h2M34 37h2M36 38h2M26 22h2M33 54h2M33 24h2M35 19h2M32 1h2M32 43h2M32 57h2M30 32h2M33 38h2M37 27h2M30 48h2M30 29h2M28 28h2M30 50h2M33 21h2M32 48h2M36 18h2M35 30h2M32 37h2M28 40h2M27 26h2M38 49h2M25 39h2M30 38h2M26 11h2M33 35h2M36 24h2M37 32h2M36 27h2M30 28h2M30 17h2M32 29h2M35 44h2M26 29h2M33 44h2M39 23h2M31 49h2M36 43h2M29 6h2M31 22h2M32 28h2M39 16h2M34 25h2M31 23h2M33 62h2M34 33h2M34 13h2M32 21h2M25 50h2M28 10h2M34 37h2M27 43h2M36 14h2M34 38h2M36 12h2M33 8h2M32 39h2M35 42h2M29 34h2M26 19h2M33 29h2M30 44h2M38 30h2M27 31h2M32 38h2M24 34h2M42 44h2M34 32h2M36 50h2M33 53h2M34 28h2M30 33h2M31 1h2M33 38h2M30 29h2M37 37h2M34 32h2M31 35h2M30 36h2M37 17h2M32 6h2M29 35h2M38 35h2M33 20h2M34 23h2M29 12h2M34 63h2M30 52h2M27 37h2M30 35h2M35 21h2M34 20h2M35 17h2M32 51h2M31 46h2M32 45h2M36 35h2M33 35h2M30 51h2M23 36h2M34 15h2M39 33h2M38 35h2M36 18h2M31 3h2M33 19h2M32 41h2M28 19h2M31 13h2M33 49h2M36 8h2M36 29h2M32 33h2M34 36h2M30 3h2M30 21h2M31 21h2M32 56h2M28 16h2M30 34h2M36 30h2M31 39h2M32 25h2M26 57h2M21 24h2M32 29h2M30 27h2M26 10h2M29 31h2M33 21h2M36 32h2M33 29h2M33 45h2M33 63h2M34 27h2M33 32h2M29 35h2M28 36h2M38 35h2M36 55h2M28 13h2M29 24h2M35 46h2M32 43h2M37 22h2M27 19h2M31 16h2M32 49h2M34 17h2M31 28h2M34 46h2M25 23h2M30 32h2M28 23h2M32 27h2M33 33h2M32 18h2" stroke="#ec1a34" stroke-opacity="0.9"/>
</g></svg>
<path d="M0 0H32V32.1" stroke="#666" stroke-width="1" fill="none"/>
<path d="M0 0V32.1H32M-0.9 25.12H0.6M6.96 31.5V33M-0.9 18.14H0.6M13.91 31.5V33M-0.9 11.17H0.6M20.87 31.5V33M-0.9 4.19H0.6M27.83 31.5V33" stroke="#111" stroke-width="1" fill="none"/>
</g>
<g transform="translate(216.35 302.5)">
<svg x="0" y="0" width="32.45" height="32.1" viewBox="0 0 32.6 32.8" preserveAspectRatio="none" overflow="hidden"><g filter="url(#bl)">
<ellipse cx="9" cy="5.2" rx="3" ry="2.4" fill="#2a55ee" fill-opacity="0.72"/>
<ellipse cx="17" cy="6" rx="4.5" ry="2.6" fill="#ec1a34" fill-opacity="0.72"/>
<ellipse cx="9.5" cy="12.5" rx="2.8" ry="3.5" fill="#2a55ee" fill-opacity="0.76"/>
<ellipse cx="4.5" cy="14" rx="2.5" ry="3.5" fill="#6a3ab8" fill-opacity="0.16"/>
<ellipse cx="6.5" cy="17.1" rx="5.5" ry="0.9" fill="#ec1a34" fill-opacity="0.52"/>
<ellipse cx="17.5" cy="14" rx="6" ry="4" fill="#ec1a34" fill-opacity="0.28"/>
<ellipse cx="7.5" cy="24.5" rx="4" ry="5" fill="#6a3ab8" fill-opacity="0.44"/>
<ellipse cx="19" cy="24" rx="7" ry="6" fill="#ec1a34" fill-opacity="0.08"/>
</g>
<g transform="scale(.5)" stroke-width="1.9" fill="none" filter="url(#db)">
<path d="M20 9h2M16 11h2M20 10h2M16 8h2M17 8h2M16 12h2M20 11h2M17 15h2M17 11h2M21 11h2M19 10h2M13 12h2M22 13h2M22 7h2M23 15h2M19 15h2M19 8h2M18 6h2M19 8h2M22 10h2M17 11h2M21 8h2M18 8h2M22 15h2M19 7h2M19 9h2M20 12h2M20 9h2M20 11h2M23 14h2M19 10h2M17 9h2M19 9h2M18 10h2M15 9h2M23 14h2M13 11h2M19 12h2" stroke="#2a55ee" stroke-opacity="0.86"/>
<path d="M38 10h2M41 11h2M38 12h2M24 11h2M39 13h2M37 12h2M31 13h2M36 12h2M30 7h2M31 11h2M34 11h2M35 9h2M28 12h2M37 14h2M29 11h2M30 12h2M31 10h2M37 11h2M35 9h2M39 9h2M35 11h2M33 14h2M29 13h2M24 12h2M28 16h2M28 13h2M39 15h2M34 16h2M30 16h2M34 11h2M36 9h2M38 15h2M32 11h2M33 11h2M35 13h2M39 13h2M39 12h2M34 13h2M30 13h2M40 15h2M34 11h2M29 11h2M36 11h2M39 16h2M34 15h2M36 13h2M35 11h2M35 10h2M32 8h2M37 8h2M24 9h2M31 14h2M32 11h2M33 13h2M29 10h2M30 13h2M31 13h2M30 14h2M35 12h2M32 9h2M41 11h2" stroke="#ec1a34" stroke-opacity="0.86"/>
<path d="M14 28h2M20 28h2M19 16h2M13 24h2M23 22h2M18 27h2M20 19h2M19 28h2M17 27h2M22 31h2M18 22h2M22 22h2M20 23h2M21 25h2M23 29h2M24 25h2M22 25h2M24 23h2M23 28h2M19 23h2M20 25h2M19 34h2M20 27h2M18 20h2M21 26h2M17 25h2M19 29h2M19 22h2M25 25h2M20 20h2M14 28h2M23 27h2M17 24h2M24 22h2M15 27h2M20 28h2M15 22h2M21 26h2M21 24h2M20 17h2M18 25h2M16 26h2M20 21h2M15 25h2M18 19h2M21 20h2M16 21h2M16 25h2M20 23h2M19 32h2M18 22h2M16 26h2M17 24h2" stroke="#2a55ee" stroke-opacity="0.9"/>
<path d="M14 27h2M8 29h2M10 30h2M11 27h2M10 30h2M4 26h2M7 25h2M6 26h2M6 33h2M10 24h2M7 25h2M10 33h2M8 31h2M10 23h2M4 31h2M6 31h2M11 26h2M7 26h2M12 27h2" stroke="#6a3ab8" stroke-opacity="0.27"/>
<path d="M8 33h2M15 35h2M19 35h2M21 35h2M14 34h2M18 34h2M13 34h2M13 35h2M14 34h2M12 35h2M9 34h2M21 33h2M12 34h2M11 35h2M9 35h2M15 34h2M9 34h2M17 34h2M1 34h2M15 32h2" stroke="#ec1a34" stroke-opacity="0.65"/>
<path d="M34 33h2M30 35h2M39 25h2M37 24h2M35 28h2M35 33h2M39 30h2M32 38h2M43 29h2M31 27h2M43 29h2M28 29h2M33 27h2M33 25h2M39 27h2M45 33h2M32 24h2M25 23h2M39 30h2M34 30h2M26 29h2M41 34h2M28 25h2M31 32h2M34 26h2M32 31h2M34 26h2M36 30h2M30 22h2M30 28h2M34 29h2M38 29h2M32 34h2M36 29h2M25 26h2M29 31h2M26 23h2M32 27h2M38 30h2M35 28h2M36 32h2M39 24h2M40 27h2M31 22h2M36 30h2M40 26h2M34 24h2M26 31h2M35 27h2M39 21h2M33 29h2M31 29h2M28 23h2M39 33h2M35 24h2M37 31h2M39 31h2M37 30h2M43 31h2M35 30h2M35 29h2M28 27h2M32 22h2M35 31h2M40 33h2M27 24h2M26 27h2M26 27h2" stroke="#ec1a34" stroke-opacity="0.4"/>
<path d="M14 46h2M17 51h2M16 46h2M18 45h2M15 49h2M11 48h2M17 49h2M8 55h2M9 42h2M21 46h2M9 58h2M20 45h2M15 47h2M15 47h2M17 42h2M14 57h2M22 49h2M18 44h2M12 38h2M13 50h2M13 42h2M20 50h2M13 42h2M21 44h2M17 52h2M18 50h2M14 47h2M15 48h2M15 54h2M10 50h2M14 45h2M10 56h2M22 50h2M16 44h2M9 51h2M19 48h2M8 46h2M19 49h2M13 53h2M14 49h2M15 50h2M17 43h2M17 42h2M17 49h2M16 54h2M16 49h2M8 48h2M17 50h2M14 58h2M10 57h2M20 49h2M16 45h2M9 55h2M14 46h2M11 57h2M14 48h2M13 54h2M10 61h2M10 49h2M17 45h2M10 44h2M15 56h2M10 50h2M17 47h2M14 44h2M17 46h2M7 47h2M19 45h2M13 40h2M16 50h2M16 56h2M16 54h2M19 51h2M12 48h2" stroke="#6a3ab8" stroke-opacity="0.57"/>
<path d="M51 46h2M35 47h2M41 48h2M42 50h2M47 37h2M25 55h2M30 43h2M44 49h2M49 49h2M28 51h2M27 48h2M55 48h2M47 46h2M46 46h2M37 44h2M36 48h2M31 46h2M49 53h2M24 56h2M31 47h2M44 44h2M43 49h2M40 44h2M24 41h2M38 45h2M30 52h2M37 45h2M37 53h2M40 47h2M34 40h2M45 50h2M36 38h2M46 48h2M46 55h2M37 47h2M40 36h2M40 44h2M38 49h2M28 49h2M45 49h2M45 52h2M45 52h2M35 48h2M35 56h2M42 53h2M35 51h2M37 40h2M50 42h2M45 59h2M39 41h2M36 49h2M39 43h2M44 47h2M47 37h2M41 52h2M47 40h2M39 49h2M38 52h2M42 50h2M31 54h2M32 49h2M39 54h2M32 46h2M45 41h2M43 49h2M44 55h2M32 59h2M39 43h2M42 31h2M39 44h2M46 52h2M35 46h2" stroke="#ec1a34" stroke-opacity="0.18"/>
</g></svg>
<path d="M0 0H32.45V32.1" stroke="#666" stroke-width="1" fill="none"/>
<path d="M0 0V32.1H32.45M-0.9 25.12H0.6M7.05 31.5V33M-0.9 18.14H0.6M14.11 31.5V33M-0.9 11.17H0.6M21.16 31.5V33M-0.9 4.19H0.6M28.22 31.5V33" stroke="#111" stroke-width="1" fill="none"/>
</g>
<g transform="translate(252.4 302.5)">
<svg x="0" y="0" width="32" height="32.1" viewBox="0 0 32.6 32.8" preserveAspectRatio="none" overflow="hidden"><g filter="url(#bl)">
<ellipse cx="6.5" cy="7.5" rx="5" ry="1.6" fill="#2a55ee" fill-opacity="0.72"/>
<ellipse cx="15" cy="7.6" rx="3.2" ry="1.2" fill="#ec1a34" fill-opacity="0.56"/>
<ellipse cx="21" cy="7.6" rx="4" ry="1" fill="#ec1a34" fill-opacity="0.16"/>
<ellipse cx="7" cy="16" rx="3.5" ry="4" fill="#6a3ab8" fill-opacity="0.48"/>
<ellipse cx="8" cy="26" rx="3.5" ry="4.5" fill="#2a55ee" fill-opacity="0.72"/>
<ellipse cx="18" cy="22" rx="7" ry="8" fill="#ec1a34" fill-opacity="0.06"/>
</g>
<g transform="scale(.5)" stroke-width="1.9" fill="none" filter="url(#db)">
<path d="M10 17h2M13 16h2M16 15h2M21 15h2M7 17h2M13 14h2M15 16h2M20 15h2M14 16h2M17 14h2M26 14h2M11 14h2M15 16h2M12 13h2M13 15h2M10 16h2M16 16h2M12 17h2M7 15h2M15 14h2M17 16h2M14 17h2M9 15h2M20 16h2M8 13h2M10 12h2M16 15h2M5 15h2M7 15h2M12 16h2M7 15h2M18 17h2M15 17h2M12 17h2M16 14h2M9 15h2M3 15h2M8 16h2M9 14h2M11 14h2M18 15h2" stroke="#2a55ee" stroke-opacity="0.86"/>
<path d="M32 16h2M26 14h2M34 14h2M27 15h2M27 15h2M33 16h2M28 14h2M30 14h2M28 17h2M33 15h2M28 17h2M33 16h2M25 16h2M30 16h2M30 13h2M24 14h2" stroke="#ec1a34" stroke-opacity="0.69"/>
<path d="M39 16h2M40 15h2M43 15h2M50 16h2M40 15h2M44 15h2M41 15h2M45 16h2" stroke="#ec1a34" stroke-opacity="0.27"/>
<path d="M13 30h2M14 26h2M10 23h2M14 32h2M21 35h2M16 34h2M11 27h2M14 27h2M11 40h2M17 32h2M16 32h2M17 27h2M11 28h2M8 34h2M17 33h2M15 26h2M11 27h2M13 37h2M8 29h2M14 35h2M13 34h2M13 27h2M21 35h2M8 31h2M14 28h2M12 37h2M20 29h2M18 31h2M11 31h2M10 30h2M15 24h2M16 30h2M13 31h2M13 37h2M21 32h2M11 31h2M9 35h2M20 37h2M12 28h2M16 37h2M14 33h2M16 29h2M15 27h2M11 30h2M17 26h2M11 35h2M13 41h2M9 33h2M13 31h2M11 38h2M12 30h2M18 39h2M17 24h2M16 37h2M11 34h2" stroke="#6a3ab8" stroke-opacity="0.61"/>
<path d="M13 57h2M15 51h2M18 53h2M19 44h2M14 48h2M11 51h2M20 62h2M17 51h2M16 56h2M21 44h2M19 50h2M14 51h2M21 53h2M9 49h2M20 49h2M20 54h2M20 50h2M13 48h2M13 54h2M16 57h2M18 45h2M18 53h2M17 53h2M22 52h2M18 58h2M17 50h2M16 54h2M23 61h2M23 44h2M17 56h2M15 51h2M12 45h2M22 48h2M14 60h2M17 57h2M17 53h2M19 54h2M16 46h2M17 55h2M15 54h2M20 61h2M17 45h2M20 55h2M18 44h2M17 56h2M14 50h2M15 51h2M17 49h2M12 57h2M15 49h2M20 58h2M16 49h2M17 48h2M17 54h2M10 55h2M13 51h2M16 51h2M15 45h2M15 52h2M10 57h2M21 49h2M15 61h2M22 48h2M17 58h2M19 53h2M17 50h2M15 50h2M24 50h2M21 51h2M18 52h2M15 51h2M15 44h2M22 47h2M11 47h2M17 55h2M15 45h2M13 55h2M13 59h2M13 53h2M17 57h2M18 50h2M19 53h2M11 60h2" stroke="#2a55ee" stroke-opacity="0.86"/>
<path d="M27 42h2M34 52h2M28 43h2M18 48h2M31 40h2M36 40h2M41 49h2M26 42h2M44 52h2M41 42h2M29 50h2M39 29h2M31 36h2M39 53h2M38 45h2M45 56h2M36 49h2M37 35h2M43 52h2M37 44h2M45 42h2M35 33h2M31 48h2M36 35h2M35 34h2M39 36h2M33 51h2M26 40h2M34 43h2M43 44h2M45 53h2M36 45h2M43 37h2M31 39h2M49 54h2M43 45h2M36 32h2M40 50h2M37 51h2M37 47h2M44 32h2M32 48h2M37 34h2M42 37h2M27 49h2M39 22h2M31 36h2M31 44h2M41 55h2M30 46h2M32 44h2M41 47h2M28 44h2M38 37h2M33 38h2M47 43h2M29 46h2M32 42h2M28 30h2M37 39h2M34 39h2M39 37h2M29 46h2M34 29h2M36 63h2M36 46h2M42 27h2M36 45h2M35 46h2M41 40h2M45 44h2M34 47h2M43 46h2M19 39h2M23 35h2M25 54h2M42 57h2M28 49h2M38 40h2M29 38h2M31 44h2M42 40h2M31 42h2M40 49h2M39 49h2M30 46h2M36 45h2M41 57h2M31 57h2M27 28h2M40 53h2M42 47h2M38 35h2" stroke="#ec1a34" stroke-opacity="0.17"/>
</g></svg>
<path d="M0 0H32V32.1" stroke="#666" stroke-width="1" fill="none"/>
<path d="M0 0V32.1H32M-0.9 25.12H0.6M6.96 31.5V33M-0.9 18.14H0.6M13.91 31.5V33M-0.9 11.17H0.6M20.87 31.5V33M-0.9 4.19H0.6M27.83 31.5V33" stroke="#111" stroke-width="1" fill="none"/>
</g>
<g transform="translate(290.2 302.5)">
<svg x="0" y="0" width="33.4" height="32.1" viewBox="0 0 32.6 32.8" preserveAspectRatio="none" overflow="hidden"><g filter="url(#bl)">
<ellipse cx="6" cy="7.3" rx="4.3" ry="1.4" fill="#6a3ab8" fill-opacity="0.6"/>
<ellipse cx="17" cy="7.5" rx="5" ry="0.8" fill="#1a1a1a" fill-opacity="0.08"/>
<ellipse cx="6" cy="14.6" rx="3.5" ry="2.5" fill="#6a3ab8" fill-opacity="0.44"/>
<ellipse cx="6" cy="22.5" rx="3" ry="1.5" fill="#6a3ab8" fill-opacity="0.2"/>
<ellipse cx="5.5" cy="28" rx="4" ry="2.8" fill="#2a55ee" fill-opacity="0.68"/>
</g>
<g transform="scale(.5)" stroke-width="1.9" fill="none" filter="url(#db)">
<path d="M17 15h2M16 15h2M8 14h2M12 12h2M2 12h2M11 13h2M8 16h2M11 14h2M14 13h2M12 14h2M12 15h2M9 15h2M10 15h2M16 13h2M9 16h2M16 18h2M17 14h2M18 17h2M12 15h2M8 15h2M13 14h2M16 15h2M18 15h2M3 15h2M15 14h2M13 13h2M14 14h2" stroke="#6a3ab8" stroke-opacity="0.74"/>
<path d="M21 16h2M38 15h2M32 16h2M37 15h2M36 14h2M36 15h2M41 15h2" stroke="#1a1a1a" stroke-opacity="0.18"/>
<path d="M13 32h2M10 32h2M9 25h2M17 32h2M12 33h2M14 25h2M8 29h2M16 33h2M7 27h2M17 28h2M11 32h2M13 31h2M15 26h2M14 32h2M7 32h2M14 27h2M14 30h2M9 28h2M18 30h2M10 28h2M15 30h2M11 29h2M13 30h2M17 30h2M11 26h2M11 31h2M18 30h2M10 29h2M14 31h2M8 32h2M17 31h2M12 31h2" stroke="#6a3ab8" stroke-opacity="0.57"/>
<path d="M11 44h2M17 45h2M12 43h2M16 43h2M10 45h2M12 47h2M16 47h2M8 45h2M9 44h2M10 43h2" stroke="#6a3ab8" stroke-opacity="0.31"/>
<path d="M9 61h2M16 59h2M9 57h2M10 59h2M15 59h2M17 55h2M6 55h2M4 56h2M10 53h2M11 52h2M13 57h2M8 58h2M9 53h2M8 52h2M16 55h2M8 60h2M11 59h2M5 51h2M21 54h2M4 56h2M11 53h2M11 53h2M8 57h2M17 61h2M6 55h2M10 54h2M16 58h2M11 58h2M7 56h2M15 55h2M17 54h2M8 53h2M16 61h2M15 60h2M19 55h2M16 52h2M4 56h2M10 52h2M5 56h2M11 55h2M5 51h2M14 54h2M7 55h2M11 58h2M12 56h2M8 56h2M5 51h2M9 55h2M15 56h2M16 51h2M10 58h2M19 54h2M13 62h2M12 54h2M15 58h2" stroke="#2a55ee" stroke-opacity="0.82"/>
</g></svg>
<path d="M0 0H33.4V32.1" stroke="#666" stroke-width="1" fill="none"/>
<path d="M0 0V32.1H33.4M-0.9 25.12H0.6M7.26 31.5V33M-0.9 18.14H0.6M14.52 31.5V33M-0.9 11.17H0.6M21.78 31.5V33M-0.9 4.19H0.6M29.04 31.5V33" stroke="#111" stroke-width="1" fill="none"/>
</g>
<g transform="translate(328.7 302.5)">
<svg x="0" y="0" width="32.8" height="32.1" viewBox="0 0 32.6 32.8" preserveAspectRatio="none" overflow="hidden"><g filter="url(#bl)">
<ellipse cx="3.5" cy="13" rx="2" ry="11" fill="#2a55ee" fill-opacity="0.4"/>
<ellipse cx="8" cy="13" rx="4" ry="12" fill="#2a55ee" fill-opacity="0.76"/>
<ellipse cx="5.5" cy="28.5" rx="4.5" ry="2.2" fill="#ec1a34" fill-opacity="0.72"/>
<ellipse cx="16.5" cy="7" rx="2.5" ry="1.5" fill="#ec1a34" fill-opacity="0.4"/>
<ellipse cx="17" cy="18" rx="4" ry="8" fill="#ec1a34" fill-opacity="0.08"/>
<ellipse cx="21" cy="28" rx="4" ry="2.5" fill="#ec1a34" fill-opacity="0.44"/>
</g>
<g transform="scale(.5)" stroke-width="1.9" fill="none" filter="url(#db)">
<path d="M7 39h2M5 21h2M5 19h2M6 25h2M8 31h2M7 24h2M6 35h2M5 22h2M10 6h2M6 23h2M10 11h2M4 30h2M11 8h2M7 34h2M8 18h2M7 29h2M7 18h2M8 39h2M10 36h2M12 40h2M8 30h2M4 30h2M4 27h2M7 48h2M8 37h2M8 16h2M10 32h2M9 32h2M6 37h2M10 45h2M8 13h2M6 36h2M7 37h2M4 27h2M11 40h2M9 18h2M6 25h2M7 29h2M9 37h2M8 42h2M7 15h2M6 13h2M5 16h2M6 21h2M8 26h2M8 32h2M8 26h2M5 38h2M9 33h2M6 22h2M6 38h2M10 43h2M6 27h2M5 26h2M7 23h2M6 29h2M5 19h2M8 11h2M4 24h2M6 38h2M5 34h2M7 26h2M8 40h2M8 33h2M8 14h2M7 16h2M9 26h2M7 13h2M4 43h2M4 45h2M7 19h2M5 14h2M4 17h2M4 37h2M4 15h2M7 11h2" stroke="#2a55ee" stroke-opacity="0.53"/>
<path d="M13 24h2M20 34h2M12 26h2M8 27h2M22 7h2M18 32h2M21 9h2M18 46h2M20 28h2M13 17h2M18 19h2M18 36h2M15 46h2M15 21h2M17 30h2M19 24h2M18 35h2M14 29h2M15 12h2M10 52h2M10 21h2M14 37h2M18 23h2M19 24h2M20 27h2M19 12h2M15 27h2M20 6h2M18 28h2M14 45h2M13 22h2M19 30h2M13 13h2M21 19h2M16 25h2M15 31h2M14 46h2M10 22h2M19 19h2M15 27h2M11 18h2M19 25h2M19 28h2M9 4h2M16 39h2M16 19h2M19 28h2M16 12h2M18 19h2M16 10h2M23 24h2M14 20h2M14 28h2M20 36h2M21 23h2M15 45h2M18 23h2M14 32h2M17 25h2M17 40h2M12 48h2M19 37h2M19 19h2M10 40h2M20 18h2M15 10h2M14 35h2M18 44h2M21 13h2M13 19h2M17 26h2M15 20h2M9 24h2M20 17h2M20 23h2M15 25h2M19 36h2M18 5h2M9 44h2M20 33h2M16 33h2M12 41h2M20 39h2M14 13h2M13 20h2M15 30h2M13 23h2M16 7h2M15 21h2M14 12h2M12 23h2M15 22h2M18 22h2M16 21h2M10 23h2M11 15h2M14 39h2M20 20h2M16 21h2M15 30h2M22 40h2M11 26h2M14 12h2M13 6h2M12 11h2M17 44h2M8 41h2M18 18h2M15 32h2M16 31h2M13 6h2M15 13h2M18 16h2M16 27h2M20 8h2M21 22h2M26 30h2M12 3h2M27 31h2M19 32h2M17 27h2M16 40h2M8 33h2M17 40h2M16 47h2M21 38h2M20 17h2M21 15h2M19 22h2M16 20h2M11 28h2M13 42h2M18 26h2M17 34h2M26 31h2M16 19h2M18 38h2M18 16h2M9 32h2M18 29h2M13 9h2M13 30h2M18 48h2M19 4h2M13 32h2M17 26h2M15 47h2M15 44h2M18 47h2M18 39h2M14 23h2M16 24h2M12 31h2M10 46h2M13 23h2M8 26h2M20 25h2M21 22h2M20 27h2M15 33h2M17 34h2M15 33h2M16 37h2M18 23h2M16 36h2M19 10h2M14 28h2M15 22h2M12 36h2M16 28h2M20 30h2M15 27h2M18 32h2M21 15h2M21 47h2M22 40h2M11 32h2M16 9h2M17 4h2M11 7h2M23 4h2M10 43h2M21 29h2M15 16h2M13 32h2M17 29h2M12 24h2M12 36h2M13 25h2M10 23h2M16 29h2M16 17h2M9 18h2M13 37h2M12 29h2M18 1h2M13 32h2M12 23h2M10 8h2M13 22h2M13 15h2M13 53h2M15 9h2M13 23h2M13 41h2M19 34h2M21 17h2M17 28h2M15 27h2M22 18h2M18 37h2M15 32h2M17 15h2M18 45h2M18 38h2M17 19h2M23 22h2M18 20h2M19 36h2M11 44h2M18 24h2M14 21h2M15 27h2M18 10h2M13 46h2M10 21h2M17 24h2M16 41h2M16 27h2M18 26h2M15 12h2M13 28h2M16 48h2M8 11h2M19 32h2M12 25h2M18 22h2M18 17h2M17 42h2M16 31h2M18 2h2M13 33h2M20 10h2M12 25h2M15 16h2M13 24h2M18 28h2M14 15h2M14 40h2M19 31h2M20 32h2M18 10h2M17 15h2M21 30h2M16 40h2M19 28h2M17 21h2M18 20h2M19 20h2M15 25h2M24 25h2" stroke="#2a55ee" stroke-opacity="0.9"/>
<path d="M13 59h2M13 53h2M19 60h2M10 53h2M7 59h2M16 58h2M4 55h2M16 57h2M7 57h2M9 59h2M6 54h2M7 58h2M16 56h2M10 54h2M11 55h2M16 58h2M8 61h2M6 58h2M11 58h2M15 52h2M12 56h2M6 60h2M14 59h2M6 60h2M16 60h2M8 57h2M13 60h2M18 55h2M15 60h2M4 53h2M13 57h2M1 60h2M18 58h2M13 60h2M8 58h2M11 57h2M13 56h2M8 53h2M3 59h2M10 59h2M12 58h2M15 60h2M13 59h2M11 59h2M3 58h2M9 58h2M9 57h2M17 58h2M18 57h2M6 55h2M12 59h2M5 54h2" stroke="#ec1a34" stroke-opacity="0.86"/>
<path d="M35 14h2M36 14h2M35 14h2M33 14h2M31 14h2M36 15h2M34 15h2M34 16h2M31 13h2M35 16h2M36 16h2M29 14h2M32 15h2" stroke="#ec1a34" stroke-opacity="0.53"/>
<path d="M33 22h2M35 36h2M25 33h2M32 46h2M33 33h2M29 23h2M39 37h2M29 36h2M35 25h2M41 47h2M34 41h2M37 37h2M28 31h2M37 40h2M32 30h2M31 33h2M37 40h2M27 43h2M34 25h2M30 39h2M29 35h2M41 47h2M33 40h2M34 27h2M37 44h2M38 37h2M31 26h2M33 41h2M27 40h2M24 34h2M38 23h2M31 31h2M32 30h2M38 51h2M40 35h2M38 45h2M35 27h2M28 40h2M35 22h2M39 32h2M38 46h2M32 39h2M33 40h2M33 30h2M29 46h2M35 16h2M37 35h2M38 37h2M25 28h2M36 44h2M30 31h2M34 46h2M38 40h2M25 37h2M35 38h2M34 16h2" stroke="#ec1a34" stroke-opacity="0.18"/>
<path d="M40 59h2M46 54h2M41 62h2M44 57h2M43 52h2M43 56h2M42 57h2M39 58h2M37 55h2M34 55h2M43 56h2M38 58h2M45 58h2M41 57h2M37 55h2M44 56h2M44 58h2M36 55h2M40 58h2M42 61h2M45 56h2M42 60h2M40 56h2M49 54h2M41 52h2M44 59h2M43 52h2M44 54h2M39 55h2M40 55h2M38 57h2M43 53h2M44 52h2M41 51h2M47 57h2M43 53h2M48 54h2" stroke="#ec1a34" stroke-opacity="0.57"/>
</g></svg>
<path d="M0 0H32.8V32.1" stroke="#666" stroke-width="1" fill="none"/>
<path d="M0 0V32.1H32.8M-0.9 25.12H0.6M7.13 31.5V33M-0.9 18.14H0.6M14.26 31.5V33M-0.9 11.17H0.6M21.39 31.5V33M-0.9 4.19H0.6M28.52 31.5V33" stroke="#111" stroke-width="1" fill="none"/>
</g>
<g transform="translate(366.9 302.5)">
<svg x="0" y="0" width="32.6" height="32.1" viewBox="0 0 32.6 32.8" preserveAspectRatio="none" overflow="hidden"><g filter="url(#bl)">
<ellipse cx="9" cy="6.6" rx="4" ry="1.6" fill="#2a55ee" fill-opacity="0.72"/>
<ellipse cx="4" cy="6.6" rx="2" ry="1.2" fill="#6a3ab8" fill-opacity="0.32"/>
<ellipse cx="16" cy="6.6" rx="2.7" ry="1.2" fill="#ec1a34" fill-opacity="0.36"/>
<ellipse cx="9" cy="15" rx="3.5" ry="2.2" fill="#6a3ab8" fill-opacity="0.36"/>
<ellipse cx="9" cy="19.5" rx="4" ry="2.5" fill="#6a3ab8" fill-opacity="0.16"/>
<ellipse cx="8.5" cy="27" rx="5.5" ry="3.8" fill="#2a55ee" fill-opacity="0.76"/>
<ellipse cx="3.5" cy="26" rx="2" ry="3" fill="#6a3ab8" fill-opacity="0.32"/>
<ellipse cx="16.5" cy="27.5" rx="2.8" ry="2.5" fill="#ec1a34" fill-opacity="0.72"/>
</g>
<g transform="scale(.5)" stroke-width="1.9" fill="none" filter="url(#db)">
<path d="M21 12h2M20 14h2M15 16h2M21 13h2M14 14h2M22 12h2M16 15h2M23 13h2M23 15h2M9 15h2M15 14h2M26 13h2M24 10h2M12 12h2M17 12h2M24 14h2M20 13h2M16 11h2M13 15h2M12 12h2M14 14h2M16 12h2M19 13h2M19 12h2M16 12h2M17 12h2M17 12h2M17 14h2M16 13h2M14 13h2M17 12h2M18 13h2M20 13h2" stroke="#2a55ee" stroke-opacity="0.86"/>
<path d="M7 13h2M9 12h2M10 15h2M9 12h2M6 12h2M9 13h2M12 15h2" stroke="#6a3ab8" stroke-opacity="0.44"/>
<path d="M30 11h2M33 13h2M30 12h2M36 13h2M27 12h2M32 12h2M32 12h2M29 13h2M28 12h2M36 12h2" stroke="#ec1a34" stroke-opacity="0.48"/>
<path d="M15 26h2M18 28h2M17 29h2M21 32h2M19 31h2M18 34h2M20 30h2M20 30h2M17 29h2M20 34h2M18 30h2M19 29h2M14 32h2M25 28h2M17 32h2M18 28h2M17 31h2M21 34h2M20 28h2M20 28h2M17 28h2M23 29h2M18 27h2M17 30h2M17 28h2" stroke="#6a3ab8" stroke-opacity="0.48"/>
<path d="M10 42h2M21 44h2M17 37h2M25 36h2M16 37h2M17 38h2M13 41h2M21 37h2M12 36h2M17 38h2M16 40h2M19 41h2M18 39h2M24 38h2M21 36h2M20 38h2M22 40h2M22 39h2M14 37h2M15 38h2M10 36h2" stroke="#6a3ab8" stroke-opacity="0.27"/>
<path d="M26 54h2M14 53h2M17 60h2M27 61h2M14 58h2M18 51h2M14 56h2M12 53h2M20 51h2M11 56h2M22 49h2M19 58h2M20 54h2M20 53h2M14 57h2M11 59h2M10 52h2M9 53h2M15 45h2M19 55h2M21 58h2M21 53h2M14 60h2M18 48h2M8 49h2M15 53h2M20 54h2M8 53h2M17 50h2M22 55h2M21 52h2M12 48h2M10 55h2M20 48h2M13 53h2M24 52h2M17 51h2M15 54h2M14 57h2M14 54h2M20 54h2M24 51h2M21 61h2M14 53h2M25 54h2M20 55h2M25 56h2M14 53h2M13 47h2M15 60h2M28 52h2M8 53h2M13 55h2M18 55h2M16 56h2M17 55h2M15 49h2M16 53h2M17 60h2M20 46h2M14 54h2M22 61h2M20 55h2M18 61h2M15 49h2M21 53h2M18 59h2M23 51h2M21 53h2M21 56h2M15 48h2M21 53h2M19 55h2M28 53h2M17 55h2M16 50h2M21 53h2M7 59h2M17 50h2M14 54h2M12 52h2M25 58h2M17 52h2M11 62h2M23 46h2M23 60h2M24 58h2M10 62h2M14 55h2M21 55h2M14 60h2M24 55h2M17 52h2M27 57h2M22 55h2M18 47h2M9 53h2M20 49h2M7 57h2M22 51h2M10 55h2M14 55h2M12 53h2M19 49h2M22 53h2M7 52h2M19 49h2M27 49h2M23 50h2M7 52h2M14 54h2M19 49h2M16 52h2M13 60h2" stroke="#2a55ee" stroke-opacity="0.9"/>
<path d="M8 50h2M10 56h2M10 52h2M5 51h2M8 52h2M8 44h2M7 56h2M11 55h2M8 52h2M10 47h2M8 56h2M7 52h2M6 48h2M6 49h2M6 50h2M8 52h2M9 47h2M5 53h2" stroke="#6a3ab8" stroke-opacity="0.44"/>
<path d="M39 58h2M31 56h2M35 53h2M33 51h2M38 55h2M29 55h2M31 52h2M33 56h2M34 59h2M35 54h2M30 56h2M30 56h2M34 57h2M35 53h2M35 53h2M33 55h2M32 54h2M31 53h2M31 57h2M28 56h2M39 57h2M29 56h2M29 53h2M32 56h2M34 53h2M30 55h2M34 53h2M35 60h2M33 55h2M34 54h2M34 55h2M27 57h2M33 54h2M40 56h2M29 55h2M28 54h2" stroke="#ec1a34" stroke-opacity="0.86"/>
</g></svg>
<path d="M0 0H32.6V32.1" stroke="#666" stroke-width="1" fill="none"/>
<path d="M0 0V32.1H32.6M-0.9 25.12H0.6M7.09 31.5V33M-0.9 18.14H0.6M14.17 31.5V33M-0.9 11.17H0.6M21.26 31.5V33M-0.9 4.19H0.6M28.35 31.5V33" stroke="#111" stroke-width="1" fill="none"/>
</g>
<g transform="translate(410.1 302.5)">
<svg x="0" y="0" width="32.5" height="32.1" viewBox="0 0 32.6 32.8" preserveAspectRatio="none" overflow="hidden"><g filter="url(#bl)">
<ellipse cx="6.5" cy="6.6" rx="4.5" ry="1.6" fill="#2a55ee" fill-opacity="0.72"/>
<ellipse cx="5.5" cy="13" rx="4" ry="3" fill="#6a3ab8" fill-opacity="0.28"/>
<ellipse cx="5.5" cy="24.5" rx="5.5" ry="7" fill="#2a55ee" fill-opacity="0.76"/>
<ellipse cx="3" cy="18" rx="2.5" ry="4" fill="#2a55ee" fill-opacity="0.24"/>
<ellipse cx="18" cy="17" rx="5" ry="5" fill="#ec1a34" fill-opacity="0.03"/>
</g>
<g transform="scale(.5)" stroke-width="1.9" fill="none" filter="url(#db)">
<path d="M8 14h2M20 14h2M10 11h2M6 14h2M18 12h2M8 16h2M12 14h2M13 15h2M16 12h2M11 12h2M25 14h2M8 12h2M12 12h2M16 12h2M16 13h2M9 14h2M12 13h2M17 14h2M21 14h2M16 14h2M11 13h2M17 13h2M10 13h2M13 15h2M11 10h2M23 12h2M12 13h2M18 16h2M19 13h2M17 13h2M13 12h2M13 15h2M11 11h2M10 14h2M8 13h2M15 13h2M10 14h2M4 13h2" stroke="#2a55ee" stroke-opacity="0.86"/>
<path d="M13 22h2M7 29h2M13 22h2M12 26h2M2 26h2M4 24h2M13 29h2M5 28h2M7 22h2M14 23h2M7 30h2M10 27h2M12 29h2M8 26h2M13 25h2M12 23h2M16 21h2M11 26h2M3 25h2M13 22h2M7 29h2M9 24h2M10 22h2M13 24h2M10 28h2M6 30h2M11 24h2M10 26h2M11 22h2M16 23h2M9 29h2M17 28h2M12 28h2M14 30h2" stroke="#6a3ab8" stroke-opacity="0.4"/>
<path d="M13 55h2M6 48h2M14 60h2M1 59h2M14 42h2M13 44h2M18 51h2M20 50h2M2 40h2M13 52h2M6 48h2M12 53h2M17 52h2M13 59h2M16 59h2M11 53h2M2 38h2M12 48h2M12 54h2M15 43h2M13 51h2M12 31h2M4 39h2M4 56h2M5 40h2M7 40h2M14 51h2M10 45h2M12 50h2M13 53h2M9 39h2M10 51h2M15 48h2M9 37h2M9 45h2M7 58h2M20 57h2M20 40h2M12 47h2M11 59h2M7 38h2M23 50h2M6 42h2M23 37h2M7 52h2M10 49h2M18 47h2M17 49h2M9 54h2M19 48h2M3 43h2M6 49h2M10 51h2M12 51h2M21 50h2M8 52h2M20 48h2M7 55h2M13 46h2M13 49h2M16 56h2M17 50h2M4 54h2M12 39h2M12 44h2M8 51h2M18 47h2M15 35h2M4 44h2M3 49h2M10 45h2M11 45h2M10 40h2M12 48h2M4 60h2M13 46h2M11 54h2M10 59h2M10 48h2M4 42h2M9 53h2M16 52h2M12 45h2M18 55h2M8 53h2M14 56h2M21 51h2M13 48h2M10 42h2M14 42h2M10 44h2M5 50h2M3 49h2M18 61h2M9 63h2M5 48h2M18 51h2M8 50h2M12 44h2M12 55h2M16 49h2M2 51h2M15 38h2M9 57h2M8 41h2M13 43h2M6 51h2M5 52h2M8 58h2M15 50h2M12 38h2M5 48h2M7 55h2M22 59h2M8 52h2M18 60h2M3 40h2M15 40h2M5 41h2M10 50h2M15 53h2M13 48h2M22 57h2M16 52h2M15 46h2M7 38h2M12 49h2M12 50h2M2 53h2M19 38h2M12 52h2M16 41h2M5 47h2M14 42h2M17 51h2M9 51h2M17 41h2M3 47h2M10 49h2M21 57h2M6 58h2M4 45h2M9 44h2M18 59h2M11 48h2M11 44h2M7 49h2M10 40h2M16 50h2M8 48h2M9 55h2M14 52h2M17 42h2M7 44h2M5 56h2M8 60h2M10 55h2M5 61h2M6 40h2M6 57h2M12 37h2M8 46h2M10 39h2M15 38h2M19 46h2M14 40h2M11 45h2M8 59h2M14 58h2M17 50h2M11 47h2M7 59h2M5 44h2M10 53h2M17 46h2M13 54h2M11 56h2M9 46h2M14 36h2M9 51h2M10 53h2M13 45h2M4 58h2M15 40h2M16 40h2M11 50h2M19 38h2M18 45h2M8 59h2M17 54h2M6 48h2M13 32h2M13 52h2M16 38h2M11 35h2M12 41h2M12 37h2M12 53h2M6 58h2M6 43h2M11 54h2" stroke="#2a55ee" stroke-opacity="0.9"/>
<path d="M10 34h2M5 38h2M8 44h2M7 33h2M4 33h2M5 36h2M10 29h2M8 42h2M8 42h2M3 43h2M8 38h2M7 34h2M11 37h2M10 28h2M7 28h2M7 35h2M5 29h2M4 33h2M7 32h2M3 30h2M8 30h2M3 32h2M7 37h2M7 34h2M3 34h2M4 32h2" stroke="#2a55ee" stroke-opacity="0.35"/>
<path d="M36 30h2M36 31h2M36 32h2M31 33h2M32 38h2M35 33h2M26 34h2M36 32h2M34 38h2M33 34h2M36 36h2M32 34h2M34 34h2M40 30h2M32 31h2M41 38h2M35 39h2M35 36h2M34 40h2M42 34h2M42 29h2M35 36h2M32 27h2M44 32h2M32 29h2M33 27h2M40 38h2M40 36h2M34 25h2M44 38h2M35 29h2M39 39h2M37 22h2M40 38h2M33 36h2M46 29h2M33 28h2" stroke="#ec1a34" stroke-opacity="0.13"/>
</g></svg>
<path d="M0 0H32.5V32.1" stroke="#666" stroke-width="1" fill="none"/>
<path d="M0 0V32.1H32.5M-0.9 25.12H0.6M7.07 31.5V33M-0.9 18.14H0.6M14.13 31.5V33M-0.9 11.17H0.6M21.2 31.5V33M-0.9 4.19H0.6M28.26 31.5V33" stroke="#111" stroke-width="1" fill="none"/>
</g>
<g transform="translate(445.9 302.5)">
<svg x="0" y="0" width="32.4" height="32.1" viewBox="0 0 32.6 32.8" preserveAspectRatio="none" overflow="hidden"><g filter="url(#bl)">
<ellipse cx="5.5" cy="16" rx="4.8" ry="14.5" fill="#2a55ee" fill-opacity="0.78"/>
<ellipse cx="13.5" cy="10" rx="3" ry="8" fill="#ec1a34" fill-opacity="0.68"/>
<ellipse cx="15" cy="23" rx="4.5" ry="7" fill="#ec1a34" fill-opacity="0.36"/>
<ellipse cx="19" cy="24" rx="3" ry="4" fill="#ec1a34" fill-opacity="0.2"/>
</g>
<g transform="scale(.5)" stroke-width="1.9" fill="none" filter="url(#db)">
<path d="M3 58h2M12 44h2M8 37h2M8 58h2M9 32h2M13 23h2M11 27h2M8 16h2M11 19h2M9 33h2M8 21h2M17 44h2M11 26h2M9 11h2M17 46h2M12 34h2M14 3h2M3 15h2M6 37h2M17 24h2M1 37h2M11 7h2M4 59h2M8 29h2M6 22h2M13 38h2M6 20h2M16 42h2M5 49h2M11 28h2M9 30h2M14 36h2M17 16h2M8 23h2M11 26h2M9 32h2M22 44h2M10 38h2M1 45h2M10 27h2M7 41h2M3 9h2M13 22h2M7 19h2M11 39h2M11 41h2M8 57h2M14 47h2M20 32h2M11 32h2M4 26h2M5 16h2M6 39h2M10 23h2M5 44h2M6 37h2M19 55h2M9 54h2M3 32h2M9 16h2M20 22h2M8 14h2M12 37h2M13 23h2M6 37h2M7 59h2M9 26h2M13 29h2M11 26h2M19 29h2M7 26h2M14 26h2M9 27h2M12 37h2M11 33h2M9 39h2M5 44h2M11 18h2M6 31h2M9 26h2M6 27h2M11 50h2M9 23h2M6 24h2M5 22h2M16 28h2M10 33h2M10 10h2M12 37h2M9 43h2M13 26h2M15 29h2M1 57h2M18 20h2M8 42h2M5 22h2M7 16h2M18 52h2M1 47h2M17 39h2M12 34h2M11 27h2M10 23h2M4 41h2M11 21h2M5 44h2M4 34h2M9 14h2M9 31h2M8 15h2M3 30h2M7 46h2M11 28h2M21 29h2M14 10h2M11 60h2M15 16h2M1 7h2M19 1h2M13 28h2M19 37h2M18 27h2M8 53h2M11 39h2M11 15h2M8 13h2M6 41h2M11 58h2M9 43h2M15 23h2M7 55h2M2 10h2M16 53h2M7 40h2M8 30h2M12 18h2M21 37h2M14 49h2M8 53h2M15 36h2M11 47h2M3 34h2M7 27h2M4 35h2M5 37h2M6 38h2M4 45h2M15 31h2M8 42h2M9 39h2M16 1h2M11 34h2M12 26h2M7 35h2M13 39h2M15 29h2M19 18h2M12 28h2M9 14h2M14 32h2M16 27h2M12 38h2M12 30h2M13 6h2M4 13h2M14 16h2M12 9h2M8 32h2M16 52h2M19 48h2M12 47h2M13 23h2M16 20h2M8 16h2M14 26h2M9 31h2M14 39h2M4 36h2M11 63h2M9 63h2M10 12h2M12 45h2M9 15h2M12 50h2M9 24h2M8 52h2M15 30h2M4 34h2M14 30h2M14 15h2M2 27h2M10 27h2M12 51h2M7 29h2M5 35h2M12 62h2M13 33h2M19 23h2M17 39h2M10 34h2M13 40h2M3 15h2M16 49h2M2 24h2M20 6h2M11 36h2M10 34h2M4 60h2M6 30h2M18 55h2M17 8h2M5 44h2M3 24h2M9 19h2M18 19h2M13 16h2M15 39h2M11 35h2M10 44h2M13 41h2M15 47h2M17 21h2M8 37h2M5 45h2M13 45h2M12 21h2M8 30h2M13 48h2M10 36h2M4 39h2M2 23h2M15 28h2M12 31h2M4 44h2M16 53h2M6 15h2M6 57h2M14 27h2M4 43h2M13 41h2M10 15h2M12 28h2M6 34h2M8 34h2M8 24h2M11 44h2M8 32h2M7 21h2M12 35h2M3 22h2M12 28h2M3 33h2M21 39h2M12 14h2M10 10h2M16 23h2M12 21h2M22 17h2M3 21h2M4 49h2M16 34h2M10 10h2M11 12h2M11 46h2M10 50h2M6 10h2M7 34h2M12 27h2M12 58h2M14 21h2M1 42h2M11 24h2M9 16h2M21 41h2M10 28h2M20 42h2M19 32h2M5 35h2M3 33h2M16 21h2M12 47h2M4 43h2M12 34h2M2 28h2M13 59h2M18 43h2M16 52h2M13 25h2M9 35h2M5 46h2M11 48h2M17 38h2M5 27h2M15 29h2M13 38h2M14 22h2M14 42h2M12 54h2M17 35h2M13 57h2M17 13h2M14 42h2M15 31h2M3 38h2M13 52h2M4 35h2M20 21h2M15 40h2M4 17h2M17 40h2M8 12h2M5 36h2M10 31h2M3 22h2M14 22h2M13 38h2M13 41h2M9 27h2M13 13h2M15 48h2M8 28h2M1 24h2M11 39h2M11 34h2M5 33h2M11 46h2M3 36h2M13 20h2M8 22h2M3 35h2M6 56h2M13 22h2M11 23h2M10 5h2M3 38h2M13 10h2M11 13h2M7 17h2M9 46h2M17 20h2M17 61h2M4 4h2M8 32h2M8 20h2M11 47h2M10 36h2M11 54h2M9 15h2M13 30h2M12 7h2M11 6h2M9 49h2M11 16h2M3 24h2M7 22h2M12 41h2M15 39h2M14 52h2M16 25h2M10 19h2M6 19h2M9 25h2M21 41h2M5 22h2M4 41h2M4 39h2M18 55h2M17 18h2M22 26h2M18 44h2M7 23h2M12 6h2M13 32h2M18 34h2M10 33h2M13 36h2" stroke="#2a55ee" stroke-opacity="0.9"/>
<path d="M26 25h2M24 28h2M25 22h2M20 22h2M28 24h2M30 16h2M26 22h2M28 18h2M25 23h2M23 19h2M22 29h2M28 16h2M29 12h2M24 26h2M25 8h2M26 23h2M21 17h2M34 22h2M25 11h2M25 14h2M29 25h2M27 18h2M29 22h2M22 21h2M29 20h2M28 10h2M24 19h2M28 15h2M26 36h2M24 11h2M31 21h2M29 8h2M25 13h2M28 23h2M24 22h2M30 24h2M26 11h2M26 14h2M26 18h2M32 27h2M28 19h2M26 25h2M26 18h2M28 24h2M25 36h2M29 25h2M24 30h2M29 19h2M33 30h2M27 23h2M27 24h2M30 19h2M29 20h2M27 15h2M26 10h2M29 26h2M29 16h2M19 23h2M28 27h2M31 16h2M26 33h2M28 7h2M26 20h2M29 25h2M28 31h2M29 30h2M24 21h2M24 19h2M23 37h2M22 25h2M29 16h2M31 13h2M31 24h2M29 7h2M23 15h2M25 18h2M28 30h2M28 18h2M27 18h2M27 7h2M28 21h2M27 15h2M29 29h2M23 28h2M27 10h2M26 14h2M26 25h2M28 20h2M26 20h2M22 17h2M27 19h2M31 25h2M25 26h2M25 14h2M30 19h2M30 20h2M27 16h2M26 27h2M29 28h2M22 4h2M29 18h2M28 36h2M31 19h2M31 19h2M29 18h2M26 15h2M29 15h2M23 15h2M32 32h2M26 30h2M28 10h2M29 18h2M32 30h2M28 21h2M26 11h2M27 27h2M28 20h2M22 19h2M29 21h2M28 9h2" stroke="#ec1a34" stroke-opacity="0.82"/>
<path d="M28 39h2M28 60h2M24 49h2M31 41h2M30 53h2M28 44h2M31 51h2M30 41h2M29 49h2M26 51h2M36 47h2M31 45h2M36 39h2M36 45h2M37 58h2M30 44h2M27 43h2M31 37h2M40 46h2M24 56h2M29 48h2M30 52h2M34 41h2M34 40h2M26 48h2M24 33h2M30 49h2M34 53h2M32 45h2M26 50h2M36 55h2M24 52h2M28 48h2M32 45h2M31 48h2M36 40h2M37 38h2M28 59h2M34 40h2M27 50h2M33 33h2M27 50h2M34 51h2M39 45h2M36 62h2M39 48h2M23 42h2M21 52h2M25 38h2M25 55h2M31 49h2M26 42h2M32 43h2M30 43h2M32 49h2M29 56h2M32 34h2M23 45h2M26 55h2M34 53h2M28 41h2M28 42h2M30 50h2M32 53h2M37 31h2M34 49h2M29 38h2M39 33h2M30 45h2M35 42h2M27 58h2M28 41h2M32 43h2M40 39h2M30 32h2M29 34h2M25 49h2M27 37h2M26 47h2M25 54h2M30 53h2M26 52h2M29 47h2M26 38h2M23 53h2M30 48h2M34 46h2M28 56h2M34 43h2M26 45h2M28 50h2M27 57h2M31 53h2M28 41h2M26 49h2M28 51h2M30 45h2M32 46h2M30 49h2M32 47h2M28 37h2M23 54h2M28 63h2" stroke="#ec1a34" stroke-opacity="0.48"/>
<path d="M41 49h2M38 49h2M37 56h2M41 55h2M39 40h2M36 43h2M39 50h2M36 45h2M39 47h2M39 48h2M41 51h2M40 43h2M41 50h2M33 51h2M41 44h2M43 48h2M39 46h2M36 51h2M30 48h2M41 48h2M42 46h2M33 54h2M42 51h2M36 50h2M42 47h2M33 55h2M38 52h2M37 49h2M35 52h2" stroke="#ec1a34" stroke-opacity="0.31"/>
</g></svg>
<path d="M0 0H32.4V32.1" stroke="#666" stroke-width="1" fill="none"/>
<path d="M0 0V32.1H32.4M-0.9 25.12H0.6M7.04 31.5V33M-0.9 18.14H0.6M14.09 31.5V33M-0.9 11.17H0.6M21.13 31.5V33M-0.9 4.19H0.6M28.17 31.5V33" stroke="#111" stroke-width="1" fill="none"/>
</g>
<g transform="translate(484 302.5)">
<svg x="0" y="0" width="32.5" height="32.1" viewBox="0 0 32.6 32.8" preserveAspectRatio="none" overflow="hidden"><g filter="url(#bl)">
<ellipse cx="7.5" cy="4.8" rx="4.5" ry="1.4" fill="#6a3ab8" fill-opacity="0.44"/>
<ellipse cx="5.5" cy="14" rx="4" ry="6.5" fill="#6a3ab8" fill-opacity="0.32"/>
<ellipse cx="5" cy="26.5" rx="4.3" ry="4.3" fill="#2a55ee" fill-opacity="0.78"/>
<ellipse cx="13" cy="25" rx="3.5" ry="4" fill="#ec1a34" fill-opacity="0.4"/>
<ellipse cx="15" cy="23" rx="4" ry="6" fill="#ec1a34" fill-opacity="0.12"/>
</g>
<g transform="scale(.5)" stroke-width="1.9" fill="none" filter="url(#db)">
<path d="M16 8h2M15 12h2M19 11h2M9 9h2M19 11h2M6 10h2M26 10h2M19 12h2M6 9h2M17 11h2M22 11h2M12 9h2M16 10h2M17 11h2M9 10h2M23 11h2M22 9h2M15 7h2M19 10h2M22 11h2M13 9h2M8 10h2M13 9h2" stroke="#6a3ab8" stroke-opacity="0.57"/>
<path d="M12 27h2M17 13h2M11 12h2M8 27h2M5 30h2M11 22h2M12 27h2M10 28h2M16 22h2M15 31h2M10 25h2M10 31h2M16 16h2M17 23h2M10 27h2M4 29h2M11 26h2M13 28h2M13 27h2M7 33h2M13 26h2M11 39h2M13 30h2M21 31h2M11 36h2M3 41h2M10 19h2M8 28h2M12 25h2M9 24h2M10 35h2M13 36h2M12 29h2M12 30h2M14 23h2M8 18h2M16 42h2M8 33h2M5 29h2M11 24h2M13 22h2M11 41h2M16 19h2M7 41h2M13 11h2M4 29h2M12 20h2M7 28h2M14 23h2M11 20h2M10 23h2M16 33h2M13 33h2M11 26h2M16 23h2M5 24h2M12 28h2M10 20h2M6 19h2M11 32h2M12 28h2M5 27h2M13 27h2M11 25h2M6 31h2M12 26h2M11 24h2M2 38h2M12 26h2M12 28h2M11 26h2M13 16h2M15 14h2M6 19h2M5 25h2M16 31h2M15 28h2M10 24h2M6 29h2M11 22h2" stroke="#6a3ab8" stroke-opacity="0.44"/>
<path d="M7 54h2M1 48h2M5 57h2M7 52h2M9 50h2M8 59h2M7 58h2M12 58h2M11 50h2M8 55h2M13 58h2M13 48h2M7 54h2M11 63h2M4 54h2M10 56h2M14 53h2M5 56h2M5 49h2M16 48h2M7 46h2M5 52h2M18 48h2M3 59h2M4 56h2M16 54h2M14 51h2M14 48h2M12 53h2M4 63h2M7 48h2M13 50h2M13 57h2M12 52h2M6 53h2M9 54h2M13 51h2M11 50h2M9 53h2M6 50h2M7 54h2M9 52h2M15 51h2M7 50h2M11 53h2M9 48h2M9 58h2M14 49h2M4 52h2M11 52h2M7 48h2M9 50h2M14 46h2M8 63h2M15 55h2M12 54h2M6 48h2M7 53h2M5 52h2M7 56h2M6 54h2M14 57h2M8 60h2M17 51h2M8 57h2M10 50h2M10 52h2M15 52h2M11 47h2M13 49h2M12 55h2M11 58h2M11 49h2M11 60h2M13 56h2M6 50h2M15 51h2M8 54h2M11 52h2M14 53h2M11 50h2M8 53h2M8 63h2M11 52h2M15 52h2M13 56h2M13 52h2M11 43h2M16 49h2M12 52h2M6 43h2M9 53h2M9 57h2M4 57h2M10 53h2M4 54h2M8 47h2M10 52h2M9 49h2M4 58h2M17 60h2M13 45h2M13 52h2" stroke="#2a55ee" stroke-opacity="0.9"/>
<path d="M20 45h2M21 48h2M30 54h2M30 51h2M29 51h2M28 52h2M30 54h2M20 49h2M28 44h2M23 47h2M26 46h2M23 53h2M28 50h2M23 47h2M25 51h2M30 57h2M27 46h2M30 47h2M26 48h2M30 49h2M27 51h2M26 50h2M27 43h2M26 53h2M28 48h2M31 46h2M23 52h2M23 52h2M24 44h2M28 50h2M24 55h2M27 48h2M26 47h2M25 51h2M30 51h2M28 48h2M31 51h2M26 52h2M28 58h2M29 47h2M21 51h2M24 53h2M27 44h2M29 47h2M29 43h2M26 56h2M24 49h2M27 54h2M27 50h2" stroke="#ec1a34" stroke-opacity="0.53"/>
<path d="M40 43h2M25 51h2M30 48h2M36 47h2M31 53h2M30 47h2M27 50h2M35 44h2M34 45h2M33 40h2M39 48h2M28 39h2M30 46h2M31 45h2M35 53h2M29 51h2M29 53h2M31 41h2M33 52h2M25 56h2M34 48h2M24 51h2M33 56h2M23 42h2M32 39h2M30 43h2M30 42h2M28 45h2M34 44h2M27 40h2M29 42h2M31 40h2M24 35h2M26 38h2M25 46h2M34 42h2M33 47h2M29 46h2M34 51h2M34 59h2M32 50h2M33 49h2M35 46h2M31 48h2M29 48h2M30 60h2M27 54h2" stroke="#ec1a34" stroke-opacity="0.23"/>
</g></svg>
<path d="M0 0H32.5V32.1" stroke="#666" stroke-width="1" fill="none"/>
<path d="M0 0V32.1H32.5M-0.9 25.12H0.6M7.07 31.5V33M-0.9 18.14H0.6M14.13 31.5V33M-0.9 11.17H0.6M21.2 31.5V33M-0.9 4.19H0.6M28.26 31.5V33" stroke="#111" stroke-width="1" fill="none"/>
</g>
</svg></body></html>
